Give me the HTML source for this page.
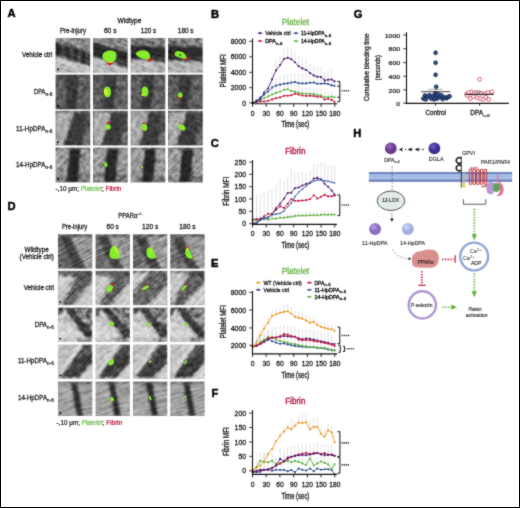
<!DOCTYPE html>
<html><head><meta charset="utf-8"><title>Figure</title>
<style>
html,body{margin:0;padding:0;background:#fff;}
svg{display:block;}
#wrap{width:520px;height:508px;overflow:hidden;will-change:transform;}
text{font-family:"Liberation Sans", sans-serif;}
</style></head>
<body>
<div id="wrap">
<svg width="520" height="508" viewBox="0 0 520 508">
<defs>
<filter id="gb" x="0" y="0" width="100%" height="100%" color-interpolation-filters="sRGB"><feConvolveMatrix order="3" kernelMatrix="1 2 1 2 16 2 1 2 1" divisor="28" edgeMode="duplicate"/></filter>
<filter id="bl" x="-10%" y="-10%" width="120%" height="120%"><feGaussianBlur stdDeviation="1.2"/></filter>
<filter id="nzs" x="0" y="0" width="100%" height="100%" color-interpolation-filters="sRGB"><feTurbulence type="fractalNoise" baseFrequency="0.05 0.55" numOctaves="2" seed="11"/><feColorMatrix type="matrix" values="2.2 0 0 0 -0.6  2.2 0 0 0 -0.6  2.2 0 0 0 -0.6  0 0 0 0 1"/></filter>
<filter id="nz" x="0" y="0" width="100%" height="100%" color-interpolation-filters="sRGB"><feTurbulence type="fractalNoise" baseFrequency="0.22" numOctaves="2" seed="7"/><feColorMatrix type="matrix" values="1.8 0 0 0 -0.4  1.8 0 0 0 -0.4  1.8 0 0 0 -0.4  0 0 0 0 1"/></filter>
<clipPath id="c1"><rect x="55.5" y="37.9" width="34.8" height="34.8"/></clipPath>
<clipPath id="c2"><rect x="93.0" y="37.9" width="34.8" height="34.8"/></clipPath>
<clipPath id="c3"><rect x="130.6" y="37.9" width="34.8" height="34.8"/></clipPath>
<clipPath id="c4"><rect x="168.0" y="37.9" width="34.8" height="34.8"/></clipPath>
<clipPath id="c5"><rect x="55.5" y="74.6" width="34.8" height="34.8"/></clipPath>
<clipPath id="c6"><rect x="93.0" y="74.6" width="34.8" height="34.8"/></clipPath>
<clipPath id="c7"><rect x="130.6" y="74.6" width="34.8" height="34.8"/></clipPath>
<clipPath id="c8"><rect x="168.0" y="74.6" width="34.8" height="34.8"/></clipPath>
<clipPath id="c9"><rect x="55.5" y="110.8" width="34.8" height="34.8"/></clipPath>
<clipPath id="c10"><rect x="93.0" y="110.8" width="34.8" height="34.8"/></clipPath>
<clipPath id="c11"><rect x="130.6" y="110.8" width="34.8" height="34.8"/></clipPath>
<clipPath id="c12"><rect x="168.0" y="110.8" width="34.8" height="34.8"/></clipPath>
<clipPath id="c13"><rect x="55.5" y="147.6" width="34.8" height="34.8"/></clipPath>
<clipPath id="c14"><rect x="93.0" y="147.6" width="34.8" height="34.8"/></clipPath>
<clipPath id="c15"><rect x="130.6" y="147.6" width="34.8" height="34.8"/></clipPath>
<clipPath id="c16"><rect x="168.0" y="147.6" width="34.8" height="34.8"/></clipPath>
<clipPath id="c17"><rect x="57.9" y="234.2" width="34.5" height="34.5"/></clipPath>
<clipPath id="c18"><rect x="95.5" y="234.2" width="34.5" height="34.5"/></clipPath>
<clipPath id="c19"><rect x="132.9" y="234.2" width="34.5" height="34.5"/></clipPath>
<clipPath id="c20"><rect x="170.2" y="234.2" width="34.5" height="34.5"/></clipPath>
<clipPath id="c21"><rect x="57.9" y="270.8" width="34.5" height="34.5"/></clipPath>
<clipPath id="c22"><rect x="95.5" y="270.8" width="34.5" height="34.5"/></clipPath>
<clipPath id="c23"><rect x="132.9" y="270.8" width="34.5" height="34.5"/></clipPath>
<clipPath id="c24"><rect x="170.2" y="270.8" width="34.5" height="34.5"/></clipPath>
<clipPath id="c25"><rect x="57.9" y="307.5" width="34.5" height="34.5"/></clipPath>
<clipPath id="c26"><rect x="95.5" y="307.5" width="34.5" height="34.5"/></clipPath>
<clipPath id="c27"><rect x="132.9" y="307.5" width="34.5" height="34.5"/></clipPath>
<clipPath id="c28"><rect x="170.2" y="307.5" width="34.5" height="34.5"/></clipPath>
<clipPath id="c29"><rect x="57.9" y="344.4" width="34.5" height="34.5"/></clipPath>
<clipPath id="c30"><rect x="95.5" y="344.4" width="34.5" height="34.5"/></clipPath>
<clipPath id="c31"><rect x="132.9" y="344.4" width="34.5" height="34.5"/></clipPath>
<clipPath id="c32"><rect x="170.2" y="344.4" width="34.5" height="34.5"/></clipPath>
<clipPath id="c33"><rect x="57.9" y="381.6" width="34.5" height="34.5"/></clipPath>
<clipPath id="c34"><rect x="95.5" y="381.6" width="34.5" height="34.5"/></clipPath>
<clipPath id="c35"><rect x="132.9" y="381.6" width="34.5" height="34.5"/></clipPath>
<clipPath id="c36"><rect x="170.2" y="381.6" width="34.5" height="34.5"/></clipPath>
<radialGradient id="sg390148" cx="0.38" cy="0.32" r="0.75"><stop offset="0" stop-color="#9a6ac0"/><stop offset="0.55" stop-color="#6a3a92"/><stop offset="1" stop-color="#6a3a92"/></radialGradient>
<radialGradient id="sg434148" cx="0.38" cy="0.32" r="0.75"><stop offset="0" stop-color="#6a60c8"/><stop offset="0.55" stop-color="#3a2d92"/><stop offset="1" stop-color="#3a2d92"/></radialGradient>
<radialGradient id="sg375229" cx="0.38" cy="0.32" r="0.75"><stop offset="0" stop-color="#b8a0e0"/><stop offset="0.55" stop-color="#8a6cc0"/><stop offset="1" stop-color="#8a6cc0"/></radialGradient>
<radialGradient id="sg407229" cx="0.38" cy="0.32" r="0.75"><stop offset="0" stop-color="#d0d8f6"/><stop offset="0.55" stop-color="#a2ade2"/><stop offset="1" stop-color="#a2ade2"/></radialGradient>
</defs>
<g filter="url(#gb)">
<rect x="0" y="0" width="520" height="508" fill="#fff"/>
<text x="7.4" y="17.3" font-size="11.2" text-anchor="start" fill="#000" font-weight="bold" stroke="#000" stroke-width="0.45">A</text>
<text x="211" y="17.6" font-size="11.2" text-anchor="start" fill="#000" font-weight="bold" stroke="#000" stroke-width="0.45">B</text>
<text x="210.8" y="147.2" font-size="11.2" text-anchor="start" fill="#000" font-weight="bold" stroke="#000" stroke-width="0.45">C</text>
<text x="7.4" y="209.6" font-size="11.2" text-anchor="start" fill="#000" font-weight="bold" stroke="#000" stroke-width="0.45">D</text>
<text x="211" y="267.2" font-size="11.2" text-anchor="start" fill="#000" font-weight="bold" stroke="#000" stroke-width="0.45">E</text>
<text x="211.4" y="397.4" font-size="11.2" text-anchor="start" fill="#000" font-weight="bold" stroke="#000" stroke-width="0.45">F</text>
<text x="353.7" y="17.6" font-size="11.2" text-anchor="start" fill="#000" font-weight="bold" stroke="#000" stroke-width="0.45">G</text>
<text x="353.2" y="137.2" font-size="11.2" text-anchor="start" fill="#000" font-weight="bold" stroke="#000" stroke-width="0.45">H</text>
<text x="129.5" y="22.8" font-size="6.6" text-anchor="middle" fill="#1a1a1a" font-weight="normal" stroke="#1a1a1a" stroke-width="0.260" textLength="23.8" lengthAdjust="spacingAndGlyphs">Widtype</text>
<text x="73.0" y="33.2" font-size="6.6" text-anchor="middle" fill="#1a1a1a" font-weight="normal" stroke="#1a1a1a" stroke-width="0.260" textLength="25.9" lengthAdjust="spacingAndGlyphs">Pre-injury</text>
<text x="110.2" y="33.2" font-size="6.6" text-anchor="middle" fill="#1a1a1a" font-weight="normal" stroke="#1a1a1a" stroke-width="0.260" textLength="12.6" lengthAdjust="spacingAndGlyphs">60 s</text>
<text x="148.5" y="33.2" font-size="6.6" text-anchor="middle" fill="#1a1a1a" font-weight="normal" stroke="#1a1a1a" stroke-width="0.260" textLength="15.5" lengthAdjust="spacingAndGlyphs">120 s</text>
<text x="185.7" y="33.2" font-size="6.6" text-anchor="middle" fill="#1a1a1a" font-weight="normal" stroke="#1a1a1a" stroke-width="0.260" textLength="15.8" lengthAdjust="spacingAndGlyphs">180 s</text>
<text x="52.3" y="57.4" font-size="6.8" text-anchor="end" fill="#1a1a1a" font-weight="normal" stroke="#1a1a1a" stroke-width="0.268" textLength="30.3" lengthAdjust="spacingAndGlyphs">Vehicle ctrl</text>
<text x="34.00" y="94.2" font-size="7.0" fill="#1a1a1a" stroke="#1a1a1a" stroke-width="0.26" textLength="11.40" lengthAdjust="spacingAndGlyphs">DPA</text>
<text x="45.50" y="96.30" font-size="4.6" fill="#1a1a1a" stroke="#1a1a1a" stroke-width="0.20" textLength="6.90" lengthAdjust="spacingAndGlyphs">n-6</text>
<text x="16.10" y="130.7" font-size="7.0" fill="#1a1a1a" stroke="#1a1a1a" stroke-width="0.26" textLength="29.40" lengthAdjust="spacingAndGlyphs">11-HpDPA</text>
<text x="45.60" y="132.80" font-size="4.6" fill="#1a1a1a" stroke="#1a1a1a" stroke-width="0.20" textLength="6.90" lengthAdjust="spacingAndGlyphs">n-6</text>
<text x="16.10" y="167.1" font-size="7.0" fill="#1a1a1a" stroke="#1a1a1a" stroke-width="0.26" textLength="29.40" lengthAdjust="spacingAndGlyphs">14-HpDPA</text>
<text x="45.60" y="169.20" font-size="4.6" fill="#1a1a1a" stroke="#1a1a1a" stroke-width="0.20" textLength="6.90" lengthAdjust="spacingAndGlyphs">n-6</text>
<text x="55.6" y="191.3" font-size="6.4" fill="#1a1a1a" stroke="#1a1a1a" stroke-width="0.22" textLength="65.8" lengthAdjust="spacingAndGlyphs">-,10 μm; <tspan fill="#6cc04a" stroke="#6cc04a">Platelet</tspan>; <tspan fill="#c0143c" stroke="#c0143c">Fibrin</tspan></text>
<g clip-path="url(#c1)">
<rect x="55.5" y="37.9" width="34.8" height="34.8" fill="#999"/>
<g transform="translate(55.5,37.9) scale(0.9943,0.9943)" filter="url(#bl)">
<polygon points="0,0 35,0 35,13.5 0,4.7" fill="#888888" opacity="1"/>
<polygon points="0,17.8 35,29 35,35 0,35" fill="#c2c2c2" opacity="1"/>
<polygon points="0,4.7 35,13.5 35,29 0,17.8" fill="#2c2c2c" opacity="1"/>
<line x1="8.5" y1="7.837142857142858" x2="7.9" y2="19.52" stroke="#5c5c5c" stroke-width="2.2" opacity="0.9"/>
<line x1="16.5" y1="9.848571428571429" x2="15.9" y2="22.08" stroke="#5c5c5c" stroke-width="2.2" opacity="0.9"/>
<line x1="24.5" y1="11.860000000000001" x2="23.9" y2="24.64" stroke="#5c5c5c" stroke-width="2.2" opacity="0.9"/>
<line x1="32" y1="13.745714285714286" x2="31.4" y2="27.04" stroke="#5c5c5c" stroke-width="2.2" opacity="0.9"/>
<polygon points="0,4.7 2.5,5 2.5,18.3 0,17.8" fill="#111" opacity="1"/>
<line x1="0" y1="30" x2="20" y2="35" stroke="#9a9a9a" stroke-width="1.2" opacity="0.5"/>
<line x1="5" y1="27" x2="30" y2="35" stroke="#a8a8a8" stroke-width="1" opacity="0.4"/>
</g>
<rect x="55.5" y="37.9" width="34.8" height="34.8" fill="#fff" filter="url(#nz)" opacity="0.3" style="mix-blend-mode:overlay"/>
<rect x="42.900000000000006" y="25.299999999999997" width="60" height="60" fill="#fff" filter="url(#nzs)" opacity="0.25" style="mix-blend-mode:overlay" transform="rotate(20 72.9 55.3)"/>
<g transform="translate(55.5,37.9) scale(0.9943,0.9943)">
<rect x="1.6" y="30.8" width="1.7" height="1.6" fill="#000"/>
</g>
</g>
<g clip-path="url(#c2)">
<rect x="93.0" y="37.9" width="34.8" height="34.8" fill="#999"/>
<g transform="translate(93.0,37.9) scale(0.9943,0.9943)" filter="url(#bl)">
<polygon points="0,0 35,0 35,14 0,3.8" fill="#8a8a8a" opacity="1"/>
<polygon points="0,19 35,30 35,35 0,35" fill="#c0c0c0" opacity="1"/>
<polygon points="0,3.8 35,14 35,30 0,19" fill="#2c2c2c" opacity="1"/>
<polygon points="0,3.8 2,3.8 2,19 0,19" fill="#1e1e1e" opacity="1"/>
<line x1="10" y1="16" x2="35" y2="27" stroke="#555" stroke-width="2.5" opacity="0.6"/>
<line x1="0" y1="30" x2="20" y2="35" stroke="#9a9a9a" stroke-width="1.2" opacity="0.5"/>
<line x1="5" y1="27" x2="30" y2="35" stroke="#a8a8a8" stroke-width="1" opacity="0.4"/>
</g>
<rect x="93.0" y="37.9" width="34.8" height="34.8" fill="#fff" filter="url(#nz)" opacity="0.3" style="mix-blend-mode:overlay"/>
<rect x="80.4" y="25.299999999999997" width="60" height="60" fill="#fff" filter="url(#nzs)" opacity="0.25" style="mix-blend-mode:overlay" transform="rotate(20 110.4 55.3)"/>
<g transform="translate(93.0,37.9) scale(0.9943,0.9943)">
<path d="M13.6,23.8 C15.5,23 18.5,22.8 20.6,24 C20,26.3 18,27.8 16.3,27.6 C14.8,27.2 13.7,25.5 13.6,23.8 Z" fill="#d8161c" opacity="1"/>
<path d="M9.3,18.6 C9.5,16 11.5,13.8 14.5,13.1 C18,12.4 22,12.5 23.2,15.5 C24.3,19 23,22.8 20,24.4 C17.5,25.4 14,24.6 11.5,22.2 C10,20.8 9.3,19.8 9.3,18.6 Z" fill="#86ec2c" opacity="1"/>
<path d="M14.2,23.6 C16,24.6 18.3,24.8 20.3,24 C19,25.3 16.5,25.6 14.8,24.6 Z" fill="#e6f030" opacity="1"/>
</g>
</g>
<g clip-path="url(#c3)">
<rect x="130.6" y="37.9" width="34.8" height="34.8" fill="#999"/>
<g transform="translate(130.6,37.9) scale(0.9943,0.9943)" filter="url(#bl)">
<polygon points="0,0 35,0 35,9.2 0,6.6" fill="#7c7c7c" opacity="1"/>
<polygon points="0,21.5 35,24.5 35,35 0,35" fill="#b4b4b4" opacity="1"/>
<polygon points="0,6.6 35,9.2 35,24.5 0,21.5" fill="#2c2c2c" opacity="1"/>
<polygon points="0,6.6 2,6.6 2,21.5 0,21.5" fill="#1e1e1e" opacity="1"/>
<line x1="10" y1="18.5" x2="35" y2="21.5" stroke="#555" stroke-width="2.5" opacity="0.6"/>
<line x1="0" y1="30" x2="20" y2="35" stroke="#9a9a9a" stroke-width="1.2" opacity="0.5"/>
<line x1="5" y1="27" x2="30" y2="35" stroke="#a8a8a8" stroke-width="1" opacity="0.4"/>
</g>
<rect x="130.6" y="37.9" width="34.8" height="34.8" fill="#fff" filter="url(#nz)" opacity="0.3" style="mix-blend-mode:overlay"/>
<rect x="118.0" y="25.299999999999997" width="60" height="60" fill="#fff" filter="url(#nzs)" opacity="0.25" style="mix-blend-mode:overlay" transform="rotate(20 148.0 55.3)"/>
<g transform="translate(130.6,37.9) scale(0.9943,0.9943)">
<path d="M17.2,21.5 C19,20.5 21.5,20 22.5,21 C22.3,22.6 20,23.8 17.8,23.8 C16.8,23.4 16.8,22.3 17.2,21.5 Z" fill="#d8161c" opacity="1"/>
<path d="M5.3,15.5 C6.5,13.5 9,12.3 12.5,12.3 C16,12.4 18,13.5 19,16 C20,18.5 20,21 18,21.6 C15,22.2 11,21 8.5,19.5 C6.5,18.3 5,17 5.3,15.5 Z" fill="#86ec2c" opacity="1"/>
</g>
</g>
<g clip-path="url(#c4)">
<rect x="168.0" y="37.9" width="34.8" height="34.8" fill="#999"/>
<g transform="translate(168.0,37.9) scale(0.9943,0.9943)" filter="url(#bl)">
<polygon points="0,0 35,0 35,9.5 0,7.2" fill="#808080" opacity="1"/>
<polygon points="0,22.5 35,24.5 35,35 0,35" fill="#b6b6b6" opacity="1"/>
<polygon points="0,7.2 35,9.5 35,24.5 0,22.5" fill="#2c2c2c" opacity="1"/>
<polygon points="0,7.2 2,7.2 2,22.5 0,22.5" fill="#1e1e1e" opacity="1"/>
<line x1="10" y1="19.5" x2="35" y2="21.5" stroke="#555" stroke-width="2.5" opacity="0.6"/>
<line x1="0" y1="30" x2="20" y2="35" stroke="#9a9a9a" stroke-width="1.2" opacity="0.5"/>
<line x1="5" y1="27" x2="30" y2="35" stroke="#a8a8a8" stroke-width="1" opacity="0.4"/>
</g>
<rect x="168.0" y="37.9" width="34.8" height="34.8" fill="#fff" filter="url(#nz)" opacity="0.3" style="mix-blend-mode:overlay"/>
<rect x="155.4" y="25.299999999999997" width="60" height="60" fill="#fff" filter="url(#nzs)" opacity="0.25" style="mix-blend-mode:overlay" transform="rotate(20 185.4 55.3)"/>
<g transform="translate(168.0,37.9) scale(0.9943,0.9943)">
<path d="M16.8,20.8 C18.5,19.8 20.5,19.5 21.5,20.3 C21,21.6 19,22.6 17.3,22.6 C16.5,22.2 16.4,21.3 16.8,20.8 Z" fill="#d8161c" opacity="1"/>
<path d="M6.5,16.5 C6.8,14.3 8.5,13 10.5,13.3 C12.5,13.5 14,14 15.8,15 C17.5,16.5 18.5,18.5 18.8,20.5 C17,21.5 14.5,21 12.5,20 C10,19.2 6.5,18.5 6.5,16.5 Z" fill="#86ec2c" opacity="1"/>
<ellipse cx="12.3" cy="17.2" rx="0.9" ry="0.9" fill="#2a4a1a" opacity="1" transform="rotate(0 12.3 17.2)"/>
</g>
</g>
<g clip-path="url(#c5)">
<rect x="55.5" y="74.6" width="34.8" height="34.8" fill="#5a5a5a"/>
<g transform="translate(55.5,74.6) scale(0.9943,0.9943)" filter="url(#bl)">
<polygon points="0,0 35,0 35,35 0,35" fill="#5a5a5a" opacity="1"/>
<polygon points="0,0 11,0 8,35 0,35" fill="#5e5e5e" opacity="1"/>
<polygon points="11,0 24,0 23,24 21,35 11,35 11,20" fill="#383838" opacity="1"/>
<polygon points="24,0 35,0 35,35 21,35" fill="#646464" opacity="1"/>
<line x1="6" y1="35" x2="35" y2="9" stroke="#2a2a2a" stroke-width="0.9" opacity="0.9"/>
<line x1="9" y1="35" x2="35" y2="13" stroke="#303030" stroke-width="0.7" opacity="0.8"/>
<line x1="20" y1="35" x2="35" y2="22" stroke="#2a2a2a" stroke-width="0.6" opacity="0.7"/>
<line x1="0" y1="9" x2="9" y2="4" stroke="#333" stroke-width="0.6" opacity="0.7"/>
<line x1="0" y1="17" x2="10" y2="12" stroke="#333" stroke-width="0.6" opacity="0.6"/>
<polygon points="0,0 35,0 35,2.2 0,2.2" fill="#444" opacity="1"/>
</g>
<rect x="55.5" y="74.6" width="34.8" height="34.8" fill="#fff" filter="url(#nz)" opacity="0.3" style="mix-blend-mode:overlay"/>
<g transform="translate(55.5,74.6) scale(0.9943,0.9943)">
<rect x="1.6" y="30.8" width="1.7" height="1.6" fill="#000"/>
</g>
</g>
<g clip-path="url(#c6)">
<rect x="93.0" y="74.6" width="34.8" height="34.8" fill="#5a5a5a"/>
<g transform="translate(93.0,74.6) scale(0.9943,0.9943)" filter="url(#bl)">
<polygon points="0,0 35,0 35,35 0,35" fill="#5a5a5a" opacity="1"/>
<polygon points="0,0 11,0 8,35 0,35" fill="#5e5e5e" opacity="1"/>
<polygon points="11,0 24,0 23,24 21,35 11,35 11,20" fill="#383838" opacity="1"/>
<polygon points="24,0 35,0 35,35 21,35" fill="#646464" opacity="1"/>
<line x1="6" y1="35" x2="35" y2="9" stroke="#2a2a2a" stroke-width="0.9" opacity="0.9"/>
<line x1="9" y1="35" x2="35" y2="13" stroke="#303030" stroke-width="0.7" opacity="0.8"/>
<line x1="20" y1="35" x2="35" y2="22" stroke="#2a2a2a" stroke-width="0.6" opacity="0.7"/>
<line x1="0" y1="9" x2="9" y2="4" stroke="#333" stroke-width="0.6" opacity="0.7"/>
<line x1="0" y1="17" x2="10" y2="12" stroke="#333" stroke-width="0.6" opacity="0.6"/>
<polygon points="0,0 35,0 35,2.2 0,2.2" fill="#444" opacity="1"/>
</g>
<rect x="93.0" y="74.6" width="34.8" height="34.8" fill="#fff" filter="url(#nz)" opacity="0.3" style="mix-blend-mode:overlay"/>
<g transform="translate(93.0,74.6) scale(0.9943,0.9943)">
<path d="M10.8,17 C10.8,13.5 13,11.5 15,12 C17.5,12.8 18.5,16 18,19.5 C17.5,22.5 15,23.5 13,22.5 C11.5,21.5 10.8,19.5 10.8,17 Z" fill="#86ec2c" opacity="1"/>
<ellipse cx="12.8" cy="17.5" rx="1.6" ry="3.2" fill="#e6f030" opacity="1" transform="rotate(-10 12.8 17.5)"/>
</g>
</g>
<g clip-path="url(#c7)">
<rect x="130.6" y="74.6" width="34.8" height="34.8" fill="#5a5a5a"/>
<g transform="translate(130.6,74.6) scale(0.9943,0.9943)" filter="url(#bl)">
<polygon points="0,0 35,0 35,35 0,35" fill="#5a5a5a" opacity="1"/>
<polygon points="0,0 11,0 8,35 0,35" fill="#5e5e5e" opacity="1"/>
<polygon points="11,0 24,0 23,24 21,35 11,35 11,20" fill="#383838" opacity="1"/>
<polygon points="24,0 35,0 35,35 21,35" fill="#646464" opacity="1"/>
<line x1="6" y1="35" x2="35" y2="9" stroke="#2a2a2a" stroke-width="0.9" opacity="0.9"/>
<line x1="9" y1="35" x2="35" y2="13" stroke="#303030" stroke-width="0.7" opacity="0.8"/>
<line x1="20" y1="35" x2="35" y2="22" stroke="#2a2a2a" stroke-width="0.6" opacity="0.7"/>
<line x1="0" y1="9" x2="9" y2="4" stroke="#333" stroke-width="0.6" opacity="0.7"/>
<line x1="0" y1="17" x2="10" y2="12" stroke="#333" stroke-width="0.6" opacity="0.6"/>
<polygon points="0,0 35,0 35,2.2 0,2.2" fill="#444" opacity="1"/>
</g>
<rect x="130.6" y="74.6" width="34.8" height="34.8" fill="#fff" filter="url(#nz)" opacity="0.3" style="mix-blend-mode:overlay"/>
<g transform="translate(130.6,74.6) scale(0.9943,0.9943)">
<path d="M11,16 C11,13 13,11.5 15,12 C17.5,12.8 18.2,16 17.8,19 C17.3,21.5 15.3,22.5 13.5,22 C12,21.2 11,19 11,16 Z" fill="#86ec2c" opacity="1"/>
<ellipse cx="11.9" cy="20.3" rx="1.1" ry="1.2" fill="#e6f030" opacity="1" transform="rotate(0 11.9 20.3)"/>
</g>
</g>
<g clip-path="url(#c8)">
<rect x="168.0" y="74.6" width="34.8" height="34.8" fill="#5a5a5a"/>
<g transform="translate(168.0,74.6) scale(0.9943,0.9943)" filter="url(#bl)">
<polygon points="0,0 35,0 35,35 0,35" fill="#5a5a5a" opacity="1"/>
<polygon points="0,0 11,0 8,35 0,35" fill="#5e5e5e" opacity="1"/>
<polygon points="11,0 24,0 23,24 21,35 11,35 11,20" fill="#383838" opacity="1"/>
<polygon points="24,0 35,0 35,35 21,35" fill="#646464" opacity="1"/>
<line x1="6" y1="35" x2="35" y2="9" stroke="#2a2a2a" stroke-width="0.9" opacity="0.9"/>
<line x1="9" y1="35" x2="35" y2="13" stroke="#303030" stroke-width="0.7" opacity="0.8"/>
<line x1="20" y1="35" x2="35" y2="22" stroke="#2a2a2a" stroke-width="0.6" opacity="0.7"/>
<line x1="0" y1="9" x2="9" y2="4" stroke="#333" stroke-width="0.6" opacity="0.7"/>
<line x1="0" y1="17" x2="10" y2="12" stroke="#333" stroke-width="0.6" opacity="0.6"/>
<polygon points="0,0 35,0 35,2.2 0,2.2" fill="#444" opacity="1"/>
</g>
<rect x="168.0" y="74.6" width="34.8" height="34.8" fill="#fff" filter="url(#nz)" opacity="0.3" style="mix-blend-mode:overlay"/>
<g transform="translate(168.0,74.6) scale(0.9943,0.9943)">
<ellipse cx="12.3" cy="20.6" rx="2.5" ry="2.6" fill="#86ec2c" opacity="1" transform="rotate(0 12.3 20.6)"/>
<path d="M9.8,21.5 C10.5,23 12.2,23.6 13.8,23 C13,24 11,24.5 9.8,23.5 Z" fill="#d8161c" opacity="1"/>
</g>
</g>
<g clip-path="url(#c9)">
<rect x="55.5" y="110.8" width="34.8" height="34.8" fill="#505050"/>
<g transform="translate(55.5,110.8) scale(0.9943,0.9943)" filter="url(#bl)">
<polygon points="0,0 35,0 35,35 0,35" fill="#505050" opacity="1"/>
<polygon points="0,0 20,0 9,35 0,35" fill="#ababab" opacity="1"/>
<polygon points="19,0 31,0 27,35 8,35" fill="#3a3a3a" opacity="1"/>
<polygon points="31,0 35,0 35,35 27,35" fill="#4e4e4e" opacity="1"/>
<polygon points="29,24 35,20 35,35 28,35" fill="#7a7a7a" opacity="0.7"/>
<line x1="2" y1="30" x2="10" y2="5" stroke="#8a8a8a" stroke-width="1.2" opacity="0.6"/>
<line x1="0" y1="20" x2="8" y2="4" stroke="#e8e8e8" stroke-width="1" opacity="0.6"/>
<polygon points="0,0 35,0 35,1.8 0,1.8" fill="#777" opacity="1"/>
</g>
<rect x="55.5" y="110.8" width="34.8" height="34.8" fill="#fff" filter="url(#nz)" opacity="0.3" style="mix-blend-mode:overlay"/>
<g transform="translate(55.5,110.8) scale(0.9943,0.9943)">
<rect x="1.6" y="30.8" width="1.7" height="1.6" fill="#000"/>
</g>
</g>
<g clip-path="url(#c10)">
<rect x="93.0" y="110.8" width="34.8" height="34.8" fill="#505050"/>
<g transform="translate(93.0,110.8) scale(0.9943,0.9943)" filter="url(#bl)">
<polygon points="0,0 35,0 35,35 0,35" fill="#505050" opacity="1"/>
<polygon points="0,0 20,0 9,35 0,35" fill="#ababab" opacity="1"/>
<polygon points="19,0 31,0 27,35 8,35" fill="#3a3a3a" opacity="1"/>
<polygon points="31,0 35,0 35,35 27,35" fill="#4e4e4e" opacity="1"/>
<polygon points="29,24 35,20 35,35 28,35" fill="#7a7a7a" opacity="0.7"/>
<line x1="2" y1="30" x2="10" y2="5" stroke="#8a8a8a" stroke-width="1.2" opacity="0.6"/>
<line x1="0" y1="20" x2="8" y2="4" stroke="#e8e8e8" stroke-width="1" opacity="0.6"/>
<polygon points="0,0 35,0 35,1.8 0,1.8" fill="#777" opacity="1"/>
</g>
<rect x="93.0" y="110.8" width="34.8" height="34.8" fill="#fff" filter="url(#nz)" opacity="0.3" style="mix-blend-mode:overlay"/>
<g transform="translate(93.0,110.8) scale(0.9943,0.9943)">
<ellipse cx="15.6" cy="12.3" rx="1.6" ry="1.3" fill="#d8161c" opacity="1" transform="rotate(0 15.6 12.3)"/>
<ellipse cx="15.1" cy="16.2" rx="2.7" ry="2.6" fill="#86ec2c" opacity="1" transform="rotate(0 15.1 16.2)"/>
</g>
</g>
<g clip-path="url(#c11)">
<rect x="130.6" y="110.8" width="34.8" height="34.8" fill="#505050"/>
<g transform="translate(130.6,110.8) scale(0.9943,0.9943)" filter="url(#bl)">
<polygon points="0,0 35,0 35,35 0,35" fill="#505050" opacity="1"/>
<polygon points="0,0 20,0 9,35 0,35" fill="#ababab" opacity="1"/>
<polygon points="19,0 31,0 27,35 8,35" fill="#3a3a3a" opacity="1"/>
<polygon points="31,0 35,0 35,35 27,35" fill="#4e4e4e" opacity="1"/>
<polygon points="29,24 35,20 35,35 28,35" fill="#7a7a7a" opacity="0.7"/>
<line x1="2" y1="30" x2="10" y2="5" stroke="#8a8a8a" stroke-width="1.2" opacity="0.6"/>
<line x1="0" y1="20" x2="8" y2="4" stroke="#e8e8e8" stroke-width="1" opacity="0.6"/>
<polygon points="0,0 35,0 35,1.8 0,1.8" fill="#777" opacity="1"/>
</g>
<rect x="130.6" y="110.8" width="34.8" height="34.8" fill="#fff" filter="url(#nz)" opacity="0.3" style="mix-blend-mode:overlay"/>
<g transform="translate(130.6,110.8) scale(0.9943,0.9943)">
<ellipse cx="13.5" cy="12.5" rx="1.4" ry="1.1" fill="#d8161c" opacity="1" transform="rotate(0 13.5 12.5)"/>
<path d="M11,16 C11,13.5 13,13 14.5,13.3 C16.5,13.8 17,15.8 16.8,18 C16.5,20 14.5,20.5 13,19.8 C11.5,19 11,17.5 11,16 Z" fill="#86ec2c" opacity="1"/>
</g>
</g>
<g clip-path="url(#c12)">
<rect x="168.0" y="110.8" width="34.8" height="34.8" fill="#505050"/>
<g transform="translate(168.0,110.8) scale(0.9943,0.9943)" filter="url(#bl)">
<polygon points="0,0 35,0 35,35 0,35" fill="#505050" opacity="1"/>
<polygon points="0,0 20,0 9,35 0,35" fill="#ababab" opacity="1"/>
<polygon points="19,0 31,0 27,35 8,35" fill="#3a3a3a" opacity="1"/>
<polygon points="31,0 35,0 35,35 27,35" fill="#4e4e4e" opacity="1"/>
<polygon points="29,24 35,20 35,35 28,35" fill="#7a7a7a" opacity="0.7"/>
<line x1="2" y1="30" x2="10" y2="5" stroke="#8a8a8a" stroke-width="1.2" opacity="0.6"/>
<line x1="0" y1="20" x2="8" y2="4" stroke="#e8e8e8" stroke-width="1" opacity="0.6"/>
<polygon points="0,0 35,0 35,1.8 0,1.8" fill="#777" opacity="1"/>
</g>
<rect x="168.0" y="110.8" width="34.8" height="34.8" fill="#fff" filter="url(#nz)" opacity="0.3" style="mix-blend-mode:overlay"/>
<g transform="translate(168.0,110.8) scale(0.9943,0.9943)">
<ellipse cx="12.5" cy="12.4" rx="0.8" ry="0.7" fill="#d8161c" opacity="1" transform="rotate(0 12.5 12.4)"/>
<path d="M10.3,15.3 C10.3,13.3 12.6,12.8 13.9,14.2 C15.5,14 17.8,15.5 17.3,18.3 C17,20.3 14.5,20.5 13.5,19 C11.8,19 10.3,17.3 10.3,15.3 Z" fill="#86ec2c" opacity="1"/>
</g>
</g>
<g clip-path="url(#c13)">
<rect x="55.5" y="147.6" width="34.8" height="34.8" fill="#929292"/>
<g transform="translate(55.5,147.6) scale(0.9943,0.9943)" filter="url(#bl)">
<polygon points="0,0 35,0 35,35 0,35" fill="#929292" opacity="1"/>
<polygon points="14,0 26,0 23,35 10.8,35" fill="#262626" opacity="1"/>
<polygon points="23,28 35,28 35,35 22.5,35" fill="#6e6e6e" opacity="1"/>
<polygon points="0,28 11.2,28 10.8,35 0,35" fill="#808080" opacity="1"/>
<line x1="0" y1="12" x2="12" y2="0" stroke="#dadada" stroke-width="1.4" opacity="0.6"/>
<line x1="0" y1="22" x2="14" y2="6" stroke="#dadada" stroke-width="1.2" opacity="0.5"/>
<line x1="25" y1="20" x2="35" y2="14" stroke="#d6d6d6" stroke-width="1.2" opacity="0.5"/>
<line x1="25" y1="12" x2="35" y2="6" stroke="#d0d0d0" stroke-width="1" opacity="0.4"/>
<polygon points="0,0 35,0 35,1.5 0,1.5" fill="#6a6a6a" opacity="1"/>
</g>
<rect x="55.5" y="147.6" width="34.8" height="34.8" fill="#fff" filter="url(#nz)" opacity="0.3" style="mix-blend-mode:overlay"/>
<rect x="42.900000000000006" y="135.0" width="60" height="60" fill="#fff" filter="url(#nzs)" opacity="0.16" style="mix-blend-mode:overlay" transform="rotate(-40 72.9 165.0)"/>
<g transform="translate(55.5,147.6) scale(0.9943,0.9943)">
<rect x="1.6" y="30.8" width="1.7" height="1.6" fill="#000"/>
</g>
</g>
<g clip-path="url(#c14)">
<rect x="93.0" y="147.6" width="34.8" height="34.8" fill="#929292"/>
<g transform="translate(93.0,147.6) scale(0.9943,0.9943)" filter="url(#bl)">
<polygon points="0,0 35,0 35,35 0,35" fill="#929292" opacity="1"/>
<polygon points="14,0 26,0 23,35 10.8,35" fill="#262626" opacity="1"/>
<polygon points="23,28 35,28 35,35 22.5,35" fill="#6e6e6e" opacity="1"/>
<polygon points="0,28 11.2,28 10.8,35 0,35" fill="#808080" opacity="1"/>
<line x1="0" y1="12" x2="12" y2="0" stroke="#dadada" stroke-width="1.4" opacity="0.6"/>
<line x1="0" y1="22" x2="14" y2="6" stroke="#dadada" stroke-width="1.2" opacity="0.5"/>
<line x1="25" y1="20" x2="35" y2="14" stroke="#d6d6d6" stroke-width="1.2" opacity="0.5"/>
<line x1="25" y1="12" x2="35" y2="6" stroke="#d0d0d0" stroke-width="1" opacity="0.4"/>
<polygon points="0,0 35,0 35,1.5 0,1.5" fill="#6a6a6a" opacity="1"/>
</g>
<rect x="93.0" y="147.6" width="34.8" height="34.8" fill="#fff" filter="url(#nz)" opacity="0.3" style="mix-blend-mode:overlay"/>
<rect x="80.4" y="135.0" width="60" height="60" fill="#fff" filter="url(#nzs)" opacity="0.16" style="mix-blend-mode:overlay" transform="rotate(-40 110.4 165.0)"/>
<g transform="translate(93.0,147.6) scale(0.9943,0.9943)">
<ellipse cx="12.9" cy="17.2" rx="1.7" ry="2.4" fill="#86ec2c" opacity="1" transform="rotate(-15 12.9 17.2)"/>
</g>
</g>
<g clip-path="url(#c15)">
<rect x="130.6" y="147.6" width="34.8" height="34.8" fill="#929292"/>
<g transform="translate(130.6,147.6) scale(0.9943,0.9943)" filter="url(#bl)">
<polygon points="0,0 35,0 35,35 0,35" fill="#929292" opacity="1"/>
<polygon points="14,0 26,0 23,35 10.8,35" fill="#262626" opacity="1"/>
<polygon points="23,28 35,28 35,35 22.5,35" fill="#6e6e6e" opacity="1"/>
<polygon points="0,28 11.2,28 10.8,35 0,35" fill="#808080" opacity="1"/>
<line x1="0" y1="12" x2="12" y2="0" stroke="#dadada" stroke-width="1.4" opacity="0.6"/>
<line x1="0" y1="22" x2="14" y2="6" stroke="#dadada" stroke-width="1.2" opacity="0.5"/>
<line x1="25" y1="20" x2="35" y2="14" stroke="#d6d6d6" stroke-width="1.2" opacity="0.5"/>
<line x1="25" y1="12" x2="35" y2="6" stroke="#d0d0d0" stroke-width="1" opacity="0.4"/>
<polygon points="0,0 35,0 35,1.5 0,1.5" fill="#6a6a6a" opacity="1"/>
</g>
<rect x="130.6" y="147.6" width="34.8" height="34.8" fill="#fff" filter="url(#nz)" opacity="0.3" style="mix-blend-mode:overlay"/>
<rect x="118.0" y="135.0" width="60" height="60" fill="#fff" filter="url(#nzs)" opacity="0.16" style="mix-blend-mode:overlay" transform="rotate(-40 148.0 165.0)"/>
<g transform="translate(130.6,147.6) scale(0.9943,0.9943)">
<ellipse cx="11.6" cy="19.6" rx="1.0" ry="1.4" fill="#86ec2c" opacity="1" transform="rotate(0 11.6 19.6)"/>
<ellipse cx="10.5" cy="18.6" rx="0.5" ry="0.5" fill="#d8161c" opacity="0.6" transform="rotate(0 10.5 18.6)"/>
</g>
</g>
<g clip-path="url(#c16)">
<rect x="168.0" y="147.6" width="34.8" height="34.8" fill="#929292"/>
<g transform="translate(168.0,147.6) scale(0.9943,0.9943)" filter="url(#bl)">
<polygon points="0,0 35,0 35,35 0,35" fill="#929292" opacity="1"/>
<polygon points="14,0 26,0 23,35 10.8,35" fill="#262626" opacity="1"/>
<polygon points="23,28 35,28 35,35 22.5,35" fill="#6e6e6e" opacity="1"/>
<polygon points="0,28 11.2,28 10.8,35 0,35" fill="#808080" opacity="1"/>
<line x1="0" y1="12" x2="12" y2="0" stroke="#dadada" stroke-width="1.4" opacity="0.6"/>
<line x1="0" y1="22" x2="14" y2="6" stroke="#dadada" stroke-width="1.2" opacity="0.5"/>
<line x1="25" y1="20" x2="35" y2="14" stroke="#d6d6d6" stroke-width="1.2" opacity="0.5"/>
<line x1="25" y1="12" x2="35" y2="6" stroke="#d0d0d0" stroke-width="1" opacity="0.4"/>
<polygon points="0,0 35,0 35,1.5 0,1.5" fill="#6a6a6a" opacity="1"/>
</g>
<rect x="168.0" y="147.6" width="34.8" height="34.8" fill="#fff" filter="url(#nz)" opacity="0.3" style="mix-blend-mode:overlay"/>
<rect x="155.4" y="135.0" width="60" height="60" fill="#fff" filter="url(#nzs)" opacity="0.16" style="mix-blend-mode:overlay" transform="rotate(-40 185.4 165.0)"/>
<g transform="translate(168.0,147.6) scale(0.9943,0.9943)">
<ellipse cx="11.2" cy="17.2" rx="0.7" ry="1.0" fill="#86ec2c" opacity="0.8" transform="rotate(0 11.2 17.2)"/>
</g>
</g>
<text x="118.3" y="218.2" font-size="6.6" text-anchor="start" fill="#1a1a1a" font-weight="normal" stroke="#1a1a1a" stroke-width="0.260" textLength="19.0" lengthAdjust="spacingAndGlyphs">PPARα</text>
<text x="137.6" y="215.4" font-size="4.4" text-anchor="start" fill="#1a1a1a" font-weight="normal" stroke="#1a1a1a" stroke-width="0.173" textLength="5.0" lengthAdjust="spacingAndGlyphs">-/-</text>
<text x="74.6" y="229.4" font-size="6.6" text-anchor="middle" fill="#1a1a1a" font-weight="normal" stroke="#1a1a1a" stroke-width="0.260" textLength="25.4" lengthAdjust="spacingAndGlyphs">Pre-injury</text>
<text x="112.7" y="229.4" font-size="6.6" text-anchor="middle" fill="#1a1a1a" font-weight="normal" stroke="#1a1a1a" stroke-width="0.260" textLength="12.3" lengthAdjust="spacingAndGlyphs">60 s</text>
<text x="150.2" y="229.4" font-size="6.6" text-anchor="middle" fill="#1a1a1a" font-weight="normal" stroke="#1a1a1a" stroke-width="0.260" textLength="16.4" lengthAdjust="spacingAndGlyphs">120 s</text>
<text x="187.4" y="229.4" font-size="6.6" text-anchor="middle" fill="#1a1a1a" font-weight="normal" stroke="#1a1a1a" stroke-width="0.260" textLength="16.3" lengthAdjust="spacingAndGlyphs">180 s</text>
<text x="36.7" y="251.8" font-size="6.6" text-anchor="middle" fill="#1a1a1a" font-weight="normal" stroke="#1a1a1a" stroke-width="0.260" textLength="24.3" lengthAdjust="spacingAndGlyphs">Wildtype</text>
<text x="36.7" y="258.9" font-size="6.6" text-anchor="middle" fill="#1a1a1a" font-weight="normal" stroke="#1a1a1a" stroke-width="0.260" textLength="34.2" lengthAdjust="spacingAndGlyphs">(Vehicle ctrl)</text>
<text x="53.9" y="289.6" font-size="6.8" text-anchor="end" fill="#1a1a1a" font-weight="normal" stroke="#1a1a1a" stroke-width="0.268" textLength="30.1" lengthAdjust="spacingAndGlyphs">Vehicle ctrl</text>
<text x="34.70" y="326.8" font-size="7.0" fill="#1a1a1a" stroke="#1a1a1a" stroke-width="0.26" textLength="12.30" lengthAdjust="spacingAndGlyphs">DPA</text>
<text x="47.10" y="328.90" font-size="4.6" fill="#1a1a1a" stroke="#1a1a1a" stroke-width="0.20" textLength="6.90" lengthAdjust="spacingAndGlyphs">n-6</text>
<text x="18.00" y="363.3" font-size="7.0" fill="#1a1a1a" stroke="#1a1a1a" stroke-width="0.26" textLength="29.00" lengthAdjust="spacingAndGlyphs">11-HpDPA</text>
<text x="47.10" y="365.40" font-size="4.6" fill="#1a1a1a" stroke="#1a1a1a" stroke-width="0.20" textLength="6.90" lengthAdjust="spacingAndGlyphs">n-6</text>
<text x="18.00" y="400.0" font-size="7.0" fill="#1a1a1a" stroke="#1a1a1a" stroke-width="0.26" textLength="29.00" lengthAdjust="spacingAndGlyphs">14-HpDPA</text>
<text x="47.10" y="402.10" font-size="4.6" fill="#1a1a1a" stroke="#1a1a1a" stroke-width="0.20" textLength="6.90" lengthAdjust="spacingAndGlyphs">n-6</text>
<text x="56.6" y="425.4" font-size="6.4" fill="#1a1a1a" stroke="#1a1a1a" stroke-width="0.22" textLength="65.6" lengthAdjust="spacingAndGlyphs">-,10 μm; <tspan fill="#6cc04a" stroke="#6cc04a">Platelet</tspan>; <tspan fill="#c0143c" stroke="#c0143c">Fibrin</tspan></text>
<g clip-path="url(#c17)">
<rect x="57.9" y="234.2" width="34.5" height="34.5" fill="#8c8c8c"/>
<g transform="translate(57.9,234.2) scale(0.9857,0.9857)" filter="url(#bl)">
<polygon points="0,0 35,0 35,35 0,35" fill="#8c8c8c" opacity="1"/>
<polygon points="0,0 4,0 19,35 0,35" fill="#6a6a6a" opacity="1"/>
<polygon points="12,0 35,0 35,35 29,35" fill="#9c9c9c" opacity="1"/>
<path d="M3,0 L12.5,0 C16,12 22,22 29,35 L18,35 C12,24 6,14 3,0 Z" fill="#404040" opacity="1"/>
<line x1="14" y1="20" x2="35" y2="6" stroke="#5a5a5a" stroke-width="0.7" opacity="0.8"/>
<line x1="17" y1="26" x2="35" y2="14" stroke="#5a5a5a" stroke-width="0.7" opacity="0.8"/>
<line x1="20" y1="11" x2="35" y2="2" stroke="#606060" stroke-width="0.6" opacity="0.7"/>
<line x1="22" y1="32" x2="35" y2="22" stroke="#5a5a5a" stroke-width="0.6" opacity="0.7"/>
<line x1="0" y1="26" x2="10" y2="20" stroke="#4a4a4a" stroke-width="0.6" opacity="0.7"/>
<line x1="0" y1="31" x2="14" y2="23" stroke="#4a4a4a" stroke-width="0.6" opacity="0.7"/>
<polygon points="0,0 35,0 35,2.4 0,2.4" fill="#444" opacity="1"/>
<line x1="1" y1="1.6" x2="14" y2="1.6" stroke="#ddd" stroke-width="0.6" opacity="0.8"/>
</g>
<rect x="57.9" y="234.2" width="34.5" height="34.5" fill="#fff" filter="url(#nz)" opacity="0.2" style="mix-blend-mode:overlay"/>
<rect x="45.150000000000006" y="221.45" width="60" height="60" fill="#fff" filter="url(#nzs)" opacity="0.28" style="mix-blend-mode:overlay" transform="rotate(-28 75.15 251.45)"/>
<g transform="translate(57.9,234.2) scale(0.9857,0.9857)">
<rect x="1.6" y="30.8" width="1.7" height="1.6" fill="#000"/>
</g>
</g>
<g clip-path="url(#c18)">
<rect x="95.5" y="234.2" width="34.5" height="34.5" fill="#8c8c8c"/>
<g transform="translate(95.5,234.2) scale(0.9857,0.9857)" filter="url(#bl)">
<polygon points="0,0 35,0 35,35 0,35" fill="#8c8c8c" opacity="1"/>
<polygon points="0,0 4,0 19,35 0,35" fill="#6a6a6a" opacity="1"/>
<polygon points="12,0 35,0 35,35 29,35" fill="#9c9c9c" opacity="1"/>
<path d="M3,0 L12.5,0 C16,12 22,22 29,35 L18,35 C12,24 6,14 3,0 Z" fill="#404040" opacity="1"/>
<line x1="14" y1="20" x2="35" y2="6" stroke="#5a5a5a" stroke-width="0.7" opacity="0.8"/>
<line x1="17" y1="26" x2="35" y2="14" stroke="#5a5a5a" stroke-width="0.7" opacity="0.8"/>
<line x1="20" y1="11" x2="35" y2="2" stroke="#606060" stroke-width="0.6" opacity="0.7"/>
<line x1="22" y1="32" x2="35" y2="22" stroke="#5a5a5a" stroke-width="0.6" opacity="0.7"/>
<line x1="0" y1="26" x2="10" y2="20" stroke="#4a4a4a" stroke-width="0.6" opacity="0.7"/>
<line x1="0" y1="31" x2="14" y2="23" stroke="#4a4a4a" stroke-width="0.6" opacity="0.7"/>
<polygon points="0,0 35,0 35,2.4 0,2.4" fill="#444" opacity="1"/>
<line x1="1" y1="1.6" x2="14" y2="1.6" stroke="#ddd" stroke-width="0.6" opacity="0.8"/>
</g>
<rect x="95.5" y="234.2" width="34.5" height="34.5" fill="#fff" filter="url(#nz)" opacity="0.2" style="mix-blend-mode:overlay"/>
<rect x="82.75" y="221.45" width="60" height="60" fill="#fff" filter="url(#nzs)" opacity="0.28" style="mix-blend-mode:overlay" transform="rotate(-28 112.75 251.45)"/>
<g transform="translate(95.5,234.2) scale(0.9857,0.9857)">
<path d="M14.5,23 C13.5,18 15.5,13 18.5,11.5 C21,11.5 22.5,14 24,17.5 C25.5,21 25.5,23.5 23,24.5 C20,25.5 15.5,25.5 14.5,23 Z" fill="#86ec2c" opacity="1"/>
<path d="M18.6,12.5 C20.5,13 22,16 23.6,19.7 C22,20 20.5,17 18.6,12.5 Z" fill="#e6f030" opacity="1"/>
</g>
</g>
<g clip-path="url(#c19)">
<rect x="132.9" y="234.2" width="34.5" height="34.5" fill="#8c8c8c"/>
<g transform="translate(132.9,234.2) scale(0.9857,0.9857)" filter="url(#bl)">
<polygon points="0,0 35,0 35,35 0,35" fill="#8c8c8c" opacity="1"/>
<polygon points="0,0 4,0 19,35 0,35" fill="#6a6a6a" opacity="1"/>
<polygon points="12,0 35,0 35,35 29,35" fill="#9c9c9c" opacity="1"/>
<path d="M3,0 L12.5,0 C16,12 22,22 29,35 L18,35 C12,24 6,14 3,0 Z" fill="#404040" opacity="1"/>
<line x1="14" y1="20" x2="35" y2="6" stroke="#5a5a5a" stroke-width="0.7" opacity="0.8"/>
<line x1="17" y1="26" x2="35" y2="14" stroke="#5a5a5a" stroke-width="0.7" opacity="0.8"/>
<line x1="20" y1="11" x2="35" y2="2" stroke="#606060" stroke-width="0.6" opacity="0.7"/>
<line x1="22" y1="32" x2="35" y2="22" stroke="#5a5a5a" stroke-width="0.6" opacity="0.7"/>
<line x1="0" y1="26" x2="10" y2="20" stroke="#4a4a4a" stroke-width="0.6" opacity="0.7"/>
<line x1="0" y1="31" x2="14" y2="23" stroke="#4a4a4a" stroke-width="0.6" opacity="0.7"/>
<polygon points="0,0 35,0 35,2.4 0,2.4" fill="#444" opacity="1"/>
<line x1="1" y1="1.6" x2="14" y2="1.6" stroke="#ddd" stroke-width="0.6" opacity="0.8"/>
</g>
<rect x="132.9" y="234.2" width="34.5" height="34.5" fill="#fff" filter="url(#nz)" opacity="0.2" style="mix-blend-mode:overlay"/>
<rect x="120.15" y="221.45" width="60" height="60" fill="#fff" filter="url(#nzs)" opacity="0.28" style="mix-blend-mode:overlay" transform="rotate(-28 150.15 251.45)"/>
<g transform="translate(132.9,234.2) scale(0.9857,0.9857)">
<path d="M13.8,17 C14,13.5 16.5,12.5 18.5,13.5 C21,15 22.5,20 23.8,23.5 C22,25.5 17.5,25.5 15.5,23.5 C14,22 13.6,19.5 13.8,17 Z" fill="#86ec2c" opacity="1"/>
<path d="M16.5,14 C18,14.5 19.2,17 20.2,19.5 C18.6,18 17.3,16.2 16.5,14 Z" fill="#e6f030" opacity="1"/>
</g>
</g>
<g clip-path="url(#c20)">
<rect x="170.2" y="234.2" width="34.5" height="34.5" fill="#8c8c8c"/>
<g transform="translate(170.2,234.2) scale(0.9857,0.9857)" filter="url(#bl)">
<polygon points="0,0 35,0 35,35 0,35" fill="#8c8c8c" opacity="1"/>
<polygon points="0,0 4,0 19,35 0,35" fill="#6a6a6a" opacity="1"/>
<polygon points="12,0 35,0 35,35 29,35" fill="#9c9c9c" opacity="1"/>
<path d="M3,0 L12.5,0 C16,12 22,22 29,35 L18,35 C12,24 6,14 3,0 Z" fill="#404040" opacity="1"/>
<line x1="14" y1="20" x2="35" y2="6" stroke="#5a5a5a" stroke-width="0.7" opacity="0.8"/>
<line x1="17" y1="26" x2="35" y2="14" stroke="#5a5a5a" stroke-width="0.7" opacity="0.8"/>
<line x1="20" y1="11" x2="35" y2="2" stroke="#606060" stroke-width="0.6" opacity="0.7"/>
<line x1="22" y1="32" x2="35" y2="22" stroke="#5a5a5a" stroke-width="0.6" opacity="0.7"/>
<line x1="0" y1="26" x2="10" y2="20" stroke="#4a4a4a" stroke-width="0.6" opacity="0.7"/>
<line x1="0" y1="31" x2="14" y2="23" stroke="#4a4a4a" stroke-width="0.6" opacity="0.7"/>
<polygon points="0,0 35,0 35,2.4 0,2.4" fill="#444" opacity="1"/>
<line x1="1" y1="1.6" x2="14" y2="1.6" stroke="#ddd" stroke-width="0.6" opacity="0.8"/>
</g>
<rect x="170.2" y="234.2" width="34.5" height="34.5" fill="#fff" filter="url(#nz)" opacity="0.2" style="mix-blend-mode:overlay"/>
<rect x="157.45" y="221.45" width="60" height="60" fill="#fff" filter="url(#nzs)" opacity="0.28" style="mix-blend-mode:overlay" transform="rotate(-28 187.45 251.45)"/>
<g transform="translate(170.2,234.2) scale(0.9857,0.9857)">
<path d="M15.5,16 C15.5,14 17,13 18,13.5 C19.5,16 21,20 23,24 C21.5,25.5 18.5,25 17,23.5 C15.5,21.5 15.2,18.5 15.5,16 Z" fill="#86ec2c" opacity="1"/>
<ellipse cx="17" cy="13.8" rx="1.4" ry="1.2" fill="#d04020" opacity="1" transform="rotate(0 17 13.8)"/>
<ellipse cx="17.6" cy="15" rx="0.9" ry="1.2" fill="#e6f030" opacity="1" transform="rotate(0 17.6 15)"/>
</g>
</g>
<g clip-path="url(#c21)">
<rect x="57.9" y="270.8" width="34.5" height="34.5" fill="#b4b4b4"/>
<g transform="translate(57.9,270.8) scale(0.9857,0.9857)" filter="url(#bl)">
<polygon points="0,0 35,0 35,35 0,35" fill="#b4b4b4" opacity="1"/>
<polygon points="0,0 35,0 35,9 0,5" fill="#6a6a6a" opacity="1"/>
<polygon points="22,0 35,0 35,9 15,35 4,35" fill="#5c5c5c" opacity="1"/>
<polygon points="26,0 35,0 35,7" fill="#3a3a3a" opacity="1"/>
<polygon points="0,6 14,6 7,22 0,24" fill="#cdcdcd" opacity="1"/>
<polygon points="18,35 35,13 35,35" fill="#d2d2d2" opacity="1"/>
<line x1="20" y1="35" x2="35" y2="18" stroke="#8a8a8a" stroke-width="0.7" opacity="0.8"/>
<line x1="25" y1="35" x2="35" y2="24" stroke="#8a8a8a" stroke-width="0.7" opacity="0.8"/>
<line x1="0" y1="30" x2="8" y2="22" stroke="#e0e0e0" stroke-width="1" opacity="0.7"/>
<polygon points="0,0 35,0 35,2 0,2" fill="#555" opacity="1"/>
</g>
<rect x="57.9" y="270.8" width="34.5" height="34.5" fill="#fff" filter="url(#nz)" opacity="0.3" style="mix-blend-mode:overlay"/>
<rect x="45.150000000000006" y="258.05" width="60" height="60" fill="#fff" filter="url(#nzs)" opacity="0.22" style="mix-blend-mode:overlay" transform="rotate(-45 75.15 288.05)"/>
<g transform="translate(57.9,270.8) scale(0.9857,0.9857)">
<rect x="1.6" y="30.8" width="1.7" height="1.6" fill="#000"/>
</g>
</g>
<g clip-path="url(#c22)">
<rect x="95.5" y="270.8" width="34.5" height="34.5" fill="#b4b4b4"/>
<g transform="translate(95.5,270.8) scale(0.9857,0.9857)" filter="url(#bl)">
<polygon points="0,0 35,0 35,35 0,35" fill="#b4b4b4" opacity="1"/>
<polygon points="0,0 35,0 35,9 0,5" fill="#6a6a6a" opacity="1"/>
<polygon points="22,0 35,0 35,9 15,35 4,35" fill="#5c5c5c" opacity="1"/>
<polygon points="26,0 35,0 35,7" fill="#3a3a3a" opacity="1"/>
<polygon points="0,6 14,6 7,22 0,24" fill="#cdcdcd" opacity="1"/>
<polygon points="18,35 35,13 35,35" fill="#d2d2d2" opacity="1"/>
<line x1="20" y1="35" x2="35" y2="18" stroke="#8a8a8a" stroke-width="0.7" opacity="0.8"/>
<line x1="25" y1="35" x2="35" y2="24" stroke="#8a8a8a" stroke-width="0.7" opacity="0.8"/>
<line x1="0" y1="30" x2="8" y2="22" stroke="#e0e0e0" stroke-width="1" opacity="0.7"/>
<polygon points="0,0 35,0 35,2 0,2" fill="#555" opacity="1"/>
</g>
<rect x="95.5" y="270.8" width="34.5" height="34.5" fill="#fff" filter="url(#nz)" opacity="0.3" style="mix-blend-mode:overlay"/>
<rect x="82.75" y="258.05" width="60" height="60" fill="#fff" filter="url(#nzs)" opacity="0.22" style="mix-blend-mode:overlay" transform="rotate(-45 112.75 288.05)"/>
<g transform="translate(95.5,270.8) scale(0.9857,0.9857)">
<ellipse cx="17.2" cy="14.2" rx="1.4" ry="1.2" fill="#d8161c" opacity="1" transform="rotate(0 17.2 14.2)"/>
<path d="M11,19.5 C11,16 14,14 16.8,15 C18.5,16 17.8,19.5 15.5,21.2 C13.5,22.5 11,22 11,19.5 Z" fill="#86ec2c" opacity="1"/>
</g>
</g>
<g clip-path="url(#c23)">
<rect x="132.9" y="270.8" width="34.5" height="34.5" fill="#b4b4b4"/>
<g transform="translate(132.9,270.8) scale(0.9857,0.9857)" filter="url(#bl)">
<polygon points="0,0 35,0 35,35 0,35" fill="#9e9e9e" opacity="1"/>
<polygon points="0,4 16,0 20,0 0,20" fill="#c4c4c4" opacity="1"/>
<polygon points="18,0 35,0 35,14 14,35 0,35 0,24" fill="#646464" opacity="1"/>
<polygon points="16,35 35,16 35,35" fill="#c6c6c6" opacity="1"/>
<line x1="0" y1="8" x2="8" y2="0" stroke="#e4e4e4" stroke-width="1" opacity="0.7"/>
<line x1="0" y1="14" x2="13" y2="2" stroke="#e4e4e4" stroke-width="1" opacity="0.6"/>
<line x1="20" y1="35" x2="35" y2="21" stroke="#e0e0e0" stroke-width="1" opacity="0.6"/>
<line x1="26" y1="35" x2="35" y2="27" stroke="#e0e0e0" stroke-width="1" opacity="0.6"/>
<polygon points="0,0 35,0 35,2 0,2" fill="#555" opacity="1"/>
</g>
<rect x="132.9" y="270.8" width="34.5" height="34.5" fill="#fff" filter="url(#nz)" opacity="0.3" style="mix-blend-mode:overlay"/>
<rect x="120.15" y="258.05" width="60" height="60" fill="#fff" filter="url(#nzs)" opacity="0.22" style="mix-blend-mode:overlay" transform="rotate(-45 150.15 288.05)"/>
<g transform="translate(132.9,270.8) scale(0.9857,0.9857)">
<ellipse cx="14.5" cy="14.2" rx="1.3" ry="1.0" fill="#d8161c" opacity="1" transform="rotate(0 14.5 14.2)"/>
<ellipse cx="12.8" cy="17.2" rx="3.8" ry="1.6" fill="#86ec2c" opacity="1" transform="rotate(-30 12.8 17.2)"/>
</g>
</g>
<g clip-path="url(#c24)">
<rect x="170.2" y="270.8" width="34.5" height="34.5" fill="#b4b4b4"/>
<g transform="translate(170.2,270.8) scale(0.9857,0.9857)" filter="url(#bl)">
<polygon points="0,0 35,0 35,35 0,35" fill="#a8a8a8" opacity="1"/>
<polygon points="0,0 20,0 8,22 0,26" fill="#c4c4c4" opacity="1"/>
<polygon points="20,0 35,0 35,12 12,35 2,35" fill="#5e5e5e" opacity="1"/>
<polygon points="24,0 35,0 35,9" fill="#3c3c3c" opacity="1"/>
<polygon points="14,35 35,14 35,35" fill="#cccccc" opacity="1"/>
<line x1="18" y1="35" x2="35" y2="19" stroke="#e4e4e4" stroke-width="1" opacity="0.6"/>
<line x1="24" y1="35" x2="35" y2="25" stroke="#e4e4e4" stroke-width="1" opacity="0.6"/>
<polygon points="0,0 35,0 35,2 0,2" fill="#555" opacity="1"/>
</g>
<rect x="170.2" y="270.8" width="34.5" height="34.5" fill="#fff" filter="url(#nz)" opacity="0.3" style="mix-blend-mode:overlay"/>
<rect x="157.45" y="258.05" width="60" height="60" fill="#fff" filter="url(#nzs)" opacity="0.22" style="mix-blend-mode:overlay" transform="rotate(-45 187.45 288.05)"/>
<g transform="translate(170.2,270.8) scale(0.9857,0.9857)">
<ellipse cx="16" cy="13.2" rx="1.2" ry="1.0" fill="#d8161c" opacity="1" transform="rotate(0 16 13.2)"/>
<ellipse cx="13.8" cy="17.3" rx="3.8" ry="1.2" fill="#86ec2c" opacity="1" transform="rotate(-45 13.8 17.3)"/>
<ellipse cx="10" cy="21" rx="1.0" ry="0.8" fill="#d8161c" opacity="0.6" transform="rotate(0 10 21)"/>
</g>
</g>
<g clip-path="url(#c25)">
<rect x="57.9" y="307.5" width="34.5" height="34.5" fill="#c4c4c4"/>
<g transform="translate(57.9,307.5) scale(0.9857,0.9857)" filter="url(#bl)">
<polygon points="0,0 35,0 35,35 0,35" fill="#c4c4c4" opacity="1"/>
<polygon points="12,0 35,0 35,24" fill="#7e7e7e" opacity="1"/>
<polygon points="22,12 30,12 30,18 22,18" fill="#bdbdbd" opacity="0.8"/>
<polygon points="5,0 13,0 35,23 35,31 28,31" fill="#3c3c3c" opacity="1"/>
<polygon points="0,0 6,0 3,8 0,8" fill="#4a4a4a" opacity="1"/>
<polygon points="0,14 20,24 26,31 0,31" fill="#d4d4d4" opacity="1"/>
<polygon points="20,31 35,31 35,35 20,35" fill="#8c8c8c" opacity="0.9"/>
<polygon points="0,0 35,0 35,1.6 0,1.6" fill="#3a3a3a" opacity="1"/>
</g>
<rect x="57.9" y="307.5" width="34.5" height="34.5" fill="#fff" filter="url(#nz)" opacity="0.45" style="mix-blend-mode:overlay"/>
<g transform="translate(57.9,307.5) scale(0.9857,0.9857)">
<rect x="1.6" y="30.8" width="1.7" height="1.6" fill="#000"/>
</g>
</g>
<g clip-path="url(#c26)">
<rect x="95.5" y="307.5" width="34.5" height="34.5" fill="#c4c4c4"/>
<g transform="translate(95.5,307.5) scale(0.9857,0.9857)" filter="url(#bl)">
<polygon points="0,0 35,0 35,35 0,35" fill="#c4c4c4" opacity="1"/>
<polygon points="12,0 35,0 35,24" fill="#7e7e7e" opacity="1"/>
<polygon points="22,12 30,12 30,18 22,18" fill="#bdbdbd" opacity="0.8"/>
<polygon points="5,0 13,0 35,23 35,31 28,31" fill="#3c3c3c" opacity="1"/>
<polygon points="0,0 6,0 3,8 0,8" fill="#4a4a4a" opacity="1"/>
<polygon points="0,14 20,24 26,31 0,31" fill="#d4d4d4" opacity="1"/>
<polygon points="20,31 35,31 35,35 20,35" fill="#8c8c8c" opacity="0.9"/>
<polygon points="0,0 35,0 35,1.6 0,1.6" fill="#3a3a3a" opacity="1"/>
</g>
<rect x="95.5" y="307.5" width="34.5" height="34.5" fill="#fff" filter="url(#nz)" opacity="0.45" style="mix-blend-mode:overlay"/>
<g transform="translate(95.5,307.5) scale(0.9857,0.9857)">
<ellipse cx="16.3" cy="16.5" rx="2.7" ry="2.2" fill="#86ec2c" opacity="1" transform="rotate(0 16.3 16.5)"/>
</g>
</g>
<g clip-path="url(#c27)">
<rect x="132.9" y="307.5" width="34.5" height="34.5" fill="#c4c4c4"/>
<g transform="translate(132.9,307.5) scale(0.9857,0.9857)" filter="url(#bl)">
<polygon points="0,0 35,0 35,35 0,35" fill="#c4c4c4" opacity="1"/>
<polygon points="12,0 35,0 35,24" fill="#7e7e7e" opacity="1"/>
<polygon points="22,12 30,12 30,18 22,18" fill="#bdbdbd" opacity="0.8"/>
<polygon points="5,0 13,0 35,23 35,31 28,31" fill="#3c3c3c" opacity="1"/>
<polygon points="0,0 6,0 3,8 0,8" fill="#4a4a4a" opacity="1"/>
<polygon points="0,14 20,24 26,31 0,31" fill="#d4d4d4" opacity="1"/>
<polygon points="20,31 35,31 35,35 20,35" fill="#8c8c8c" opacity="0.9"/>
<polygon points="0,0 35,0 35,1.6 0,1.6" fill="#3a3a3a" opacity="1"/>
</g>
<rect x="132.9" y="307.5" width="34.5" height="34.5" fill="#fff" filter="url(#nz)" opacity="0.45" style="mix-blend-mode:overlay"/>
<g transform="translate(132.9,307.5) scale(0.9857,0.9857)">
<ellipse cx="15.6" cy="17.3" rx="2.0" ry="1.8" fill="#86ec2c" opacity="1" transform="rotate(0 15.6 17.3)"/>
</g>
</g>
<g clip-path="url(#c28)">
<rect x="170.2" y="307.5" width="34.5" height="34.5" fill="#c4c4c4"/>
<g transform="translate(170.2,307.5) scale(0.9857,0.9857)" filter="url(#bl)">
<polygon points="0,0 35,0 35,35 0,35" fill="#c4c4c4" opacity="1"/>
<polygon points="12,0 35,0 35,24" fill="#7e7e7e" opacity="1"/>
<polygon points="22,12 30,12 30,18 22,18" fill="#bdbdbd" opacity="0.8"/>
<polygon points="5,0 13,0 35,23 35,31 28,31" fill="#3c3c3c" opacity="1"/>
<polygon points="0,0 6,0 3,8 0,8" fill="#4a4a4a" opacity="1"/>
<polygon points="0,14 20,24 26,31 0,31" fill="#d4d4d4" opacity="1"/>
<polygon points="20,31 35,31 35,35 20,35" fill="#8c8c8c" opacity="0.9"/>
<polygon points="0,0 35,0 35,1.6 0,1.6" fill="#3a3a3a" opacity="1"/>
</g>
<rect x="170.2" y="307.5" width="34.5" height="34.5" fill="#fff" filter="url(#nz)" opacity="0.45" style="mix-blend-mode:overlay"/>
<g transform="translate(170.2,307.5) scale(0.9857,0.9857)">
<ellipse cx="15.8" cy="17.3" rx="1.8" ry="1.3" fill="#86ec2c" opacity="1" transform="rotate(0 15.8 17.3)"/>
</g>
</g>
<g clip-path="url(#c29)">
<rect x="57.9" y="344.4" width="34.5" height="34.5" fill="#c4c4c4"/>
<g transform="translate(57.9,344.4) scale(0.9857,0.9857)" filter="url(#bl)">
<polygon points="0,0 35,0 35,35 0,35" fill="#c4c4c4" opacity="1"/>
<polygon points="26,0 35,0 35,19 21,34 4,34 4,30" fill="#3c3c3c" opacity="1"/>
<polygon points="26,0 35,0 35,8 18,14" fill="#555" opacity="0.9"/>
<polygon points="20,2 26,0 5,30 2,28" fill="#e0e0e0" opacity="0.8"/>
<polygon points="21,35 35,20 35,35" fill="#d2d2d2" opacity="1"/>
<line x1="0" y1="10" x2="12" y2="0" stroke="#8a8a8a" stroke-width="1.0" opacity="0.6"/>
<line x1="0" y1="18" x2="16" y2="4" stroke="#8a8a8a" stroke-width="1.0" opacity="0.5"/>
<line x1="0" y1="25" x2="10" y2="16" stroke="#8a8a8a" stroke-width="1.0" opacity="0.5"/>
</g>
<rect x="57.9" y="344.4" width="34.5" height="34.5" fill="#fff" filter="url(#nz)" opacity="0.3" style="mix-blend-mode:overlay"/>
<rect x="45.150000000000006" y="331.65" width="60" height="60" fill="#fff" filter="url(#nzs)" opacity="0.25" style="mix-blend-mode:overlay" transform="rotate(-40 75.15 361.65)"/>
<g transform="translate(57.9,344.4) scale(0.9857,0.9857)">
<rect x="1.6" y="30.8" width="1.7" height="1.6" fill="#000"/>
</g>
</g>
<g clip-path="url(#c30)">
<rect x="95.5" y="344.4" width="34.5" height="34.5" fill="#c4c4c4"/>
<g transform="translate(95.5,344.4) scale(0.9857,0.9857)" filter="url(#bl)">
<polygon points="0,0 35,0 35,35 0,35" fill="#c4c4c4" opacity="1"/>
<polygon points="26,0 35,0 35,19 21,34 4,34 4,30" fill="#3c3c3c" opacity="1"/>
<polygon points="26,0 35,0 35,8 18,14" fill="#555" opacity="0.9"/>
<polygon points="20,2 26,0 5,30 2,28" fill="#e0e0e0" opacity="0.8"/>
<polygon points="21,35 35,20 35,35" fill="#d2d2d2" opacity="1"/>
<line x1="0" y1="10" x2="12" y2="0" stroke="#8a8a8a" stroke-width="1.0" opacity="0.6"/>
<line x1="0" y1="18" x2="16" y2="4" stroke="#8a8a8a" stroke-width="1.0" opacity="0.5"/>
<line x1="0" y1="25" x2="10" y2="16" stroke="#8a8a8a" stroke-width="1.0" opacity="0.5"/>
</g>
<rect x="95.5" y="344.4" width="34.5" height="34.5" fill="#fff" filter="url(#nz)" opacity="0.3" style="mix-blend-mode:overlay"/>
<rect x="82.75" y="331.65" width="60" height="60" fill="#fff" filter="url(#nzs)" opacity="0.25" style="mix-blend-mode:overlay" transform="rotate(-40 112.75 361.65)"/>
<g transform="translate(95.5,344.4) scale(0.9857,0.9857)">
<path d="M13,19 C13.5,16.5 16,14.5 18,14.5 C19,16 19,19 17.5,20.5 C16,21.5 13,21.5 13,19 Z" fill="#86ec2c" opacity="1"/>
</g>
</g>
<g clip-path="url(#c31)">
<rect x="132.9" y="344.4" width="34.5" height="34.5" fill="#c4c4c4"/>
<g transform="translate(132.9,344.4) scale(0.9857,0.9857)" filter="url(#bl)">
<polygon points="0,0 35,0 35,35 0,35" fill="#c4c4c4" opacity="1"/>
<polygon points="26,0 35,0 35,19 21,34 4,34 4,30" fill="#3c3c3c" opacity="1"/>
<polygon points="26,0 35,0 35,8 18,14" fill="#555" opacity="0.9"/>
<polygon points="20,2 26,0 5,30 2,28" fill="#e0e0e0" opacity="0.8"/>
<polygon points="21,35 35,20 35,35" fill="#d2d2d2" opacity="1"/>
<line x1="0" y1="10" x2="12" y2="0" stroke="#8a8a8a" stroke-width="1.0" opacity="0.6"/>
<line x1="0" y1="18" x2="16" y2="4" stroke="#8a8a8a" stroke-width="1.0" opacity="0.5"/>
<line x1="0" y1="25" x2="10" y2="16" stroke="#8a8a8a" stroke-width="1.0" opacity="0.5"/>
</g>
<rect x="132.9" y="344.4" width="34.5" height="34.5" fill="#fff" filter="url(#nz)" opacity="0.3" style="mix-blend-mode:overlay"/>
<rect x="120.15" y="331.65" width="60" height="60" fill="#fff" filter="url(#nzs)" opacity="0.25" style="mix-blend-mode:overlay" transform="rotate(-40 150.15 361.65)"/>
<g transform="translate(132.9,344.4) scale(0.9857,0.9857)">
<ellipse cx="17.5" cy="17.4" rx="1.6" ry="1.0" fill="#86ec2c" opacity="1" transform="rotate(-30 17.5 17.4)"/>
<ellipse cx="15.8" cy="18" rx="0.6" ry="0.6" fill="#d8161c" opacity="1" transform="rotate(0 15.8 18)"/>
</g>
</g>
<g clip-path="url(#c32)">
<rect x="170.2" y="344.4" width="34.5" height="34.5" fill="#c4c4c4"/>
<g transform="translate(170.2,344.4) scale(0.9857,0.9857)" filter="url(#bl)">
<polygon points="0,0 35,0 35,35 0,35" fill="#c4c4c4" opacity="1"/>
<polygon points="26,0 35,0 35,19 21,34 4,34 4,30" fill="#3c3c3c" opacity="1"/>
<polygon points="26,0 35,0 35,8 18,14" fill="#555" opacity="0.9"/>
<polygon points="20,2 26,0 5,30 2,28" fill="#e0e0e0" opacity="0.8"/>
<polygon points="21,35 35,20 35,35" fill="#d2d2d2" opacity="1"/>
<line x1="0" y1="10" x2="12" y2="0" stroke="#8a8a8a" stroke-width="1.0" opacity="0.6"/>
<line x1="0" y1="18" x2="16" y2="4" stroke="#8a8a8a" stroke-width="1.0" opacity="0.5"/>
<line x1="0" y1="25" x2="10" y2="16" stroke="#8a8a8a" stroke-width="1.0" opacity="0.5"/>
</g>
<rect x="170.2" y="344.4" width="34.5" height="34.5" fill="#fff" filter="url(#nz)" opacity="0.3" style="mix-blend-mode:overlay"/>
<rect x="157.45" y="331.65" width="60" height="60" fill="#fff" filter="url(#nzs)" opacity="0.25" style="mix-blend-mode:overlay" transform="rotate(-40 187.45 361.65)"/>
<g transform="translate(170.2,344.4) scale(0.9857,0.9857)">
<ellipse cx="15.8" cy="18.4" rx="0.9" ry="2.6" fill="#86ec2c" opacity="1" transform="rotate(35 15.8 18.4)"/>
</g>
</g>
<g clip-path="url(#c33)">
<rect x="57.9" y="381.6" width="34.5" height="34.5" fill="#9c9c9c"/>
<g transform="translate(57.9,381.6) scale(0.9857,0.9857)" filter="url(#bl)">
<polygon points="0,0 35,0 35,35 0,35" fill="#a2a2a2" opacity="1"/>
<polygon points="12.5,0 19.5,0 26,35 19,35" fill="#2e2e2e" opacity="1"/>
<polygon points="26,0 35,0 35,35 28,35" fill="#a4a4a4" opacity="0.8"/>
<path d="M0,14 C5,11 10,9 14,8" fill="none" opacity="1"/>
<line x1="0" y1="14" x2="14" y2="9" stroke="#777" stroke-width="0.7" opacity="0.8"/>
<line x1="0" y1="20" x2="15" y2="15" stroke="#777" stroke-width="0.7" opacity="0.8"/>
<line x1="0" y1="26" x2="16" y2="21" stroke="#777" stroke-width="0.7" opacity="0.7"/>
<line x1="22" y1="12" x2="35" y2="9" stroke="#777" stroke-width="0.6" opacity="0.6"/>
<line x1="24" y1="20" x2="35" y2="17" stroke="#777" stroke-width="0.6" opacity="0.6"/>
<line x1="32" y1="2" x2="32" y2="35" stroke="#777" stroke-width="0.5" opacity="0.6"/>
<polygon points="0,0 35,0 35,2 0,2" fill="#555" opacity="1"/>
<line x1="1" y1="1.3" x2="10" y2="1.3" stroke="#ddd" stroke-width="0.6" opacity="0.8"/>
</g>
<rect x="57.9" y="381.6" width="34.5" height="34.5" fill="#fff" filter="url(#nz)" opacity="0.15" style="mix-blend-mode:overlay"/>
<rect x="45.150000000000006" y="368.85" width="60" height="60" fill="#fff" filter="url(#nzs)" opacity="0.25" style="mix-blend-mode:overlay" transform="rotate(-15 75.15 398.85)"/>
<g transform="translate(57.9,381.6) scale(0.9857,0.9857)">
<rect x="1.6" y="30.8" width="1.7" height="1.6" fill="#000"/>
</g>
</g>
<g clip-path="url(#c34)">
<rect x="95.5" y="381.6" width="34.5" height="34.5" fill="#9c9c9c"/>
<g transform="translate(95.5,381.6) scale(0.9857,0.9857)" filter="url(#bl)">
<polygon points="0,0 35,0 35,35 0,35" fill="#a2a2a2" opacity="1"/>
<polygon points="12.5,0 19.5,0 26,35 19,35" fill="#2e2e2e" opacity="1"/>
<polygon points="26,0 35,0 35,35 28,35" fill="#a4a4a4" opacity="0.8"/>
<path d="M0,14 C5,11 10,9 14,8" fill="none" opacity="1"/>
<line x1="0" y1="14" x2="14" y2="9" stroke="#777" stroke-width="0.7" opacity="0.8"/>
<line x1="0" y1="20" x2="15" y2="15" stroke="#777" stroke-width="0.7" opacity="0.8"/>
<line x1="0" y1="26" x2="16" y2="21" stroke="#777" stroke-width="0.7" opacity="0.7"/>
<line x1="22" y1="12" x2="35" y2="9" stroke="#777" stroke-width="0.6" opacity="0.6"/>
<line x1="24" y1="20" x2="35" y2="17" stroke="#777" stroke-width="0.6" opacity="0.6"/>
<line x1="32" y1="2" x2="32" y2="35" stroke="#777" stroke-width="0.5" opacity="0.6"/>
<polygon points="0,0 35,0 35,2 0,2" fill="#555" opacity="1"/>
<line x1="1" y1="1.3" x2="10" y2="1.3" stroke="#ddd" stroke-width="0.6" opacity="0.8"/>
</g>
<rect x="95.5" y="381.6" width="34.5" height="34.5" fill="#fff" filter="url(#nz)" opacity="0.15" style="mix-blend-mode:overlay"/>
<rect x="82.75" y="368.85" width="60" height="60" fill="#fff" filter="url(#nzs)" opacity="0.25" style="mix-blend-mode:overlay" transform="rotate(-15 112.75 398.85)"/>
<g transform="translate(95.5,381.6) scale(0.9857,0.9857)">
<ellipse cx="16.7" cy="18.1" rx="2.1" ry="2.2" fill="#86ec2c" opacity="1" transform="rotate(0 16.7 18.1)"/>
</g>
</g>
<g clip-path="url(#c35)">
<rect x="132.9" y="381.6" width="34.5" height="34.5" fill="#9c9c9c"/>
<g transform="translate(132.9,381.6) scale(0.9857,0.9857)" filter="url(#bl)">
<polygon points="0,0 35,0 35,35 0,35" fill="#a2a2a2" opacity="1"/>
<polygon points="12.5,0 19.5,0 26,35 19,35" fill="#2e2e2e" opacity="1"/>
<polygon points="26,0 35,0 35,35 28,35" fill="#a4a4a4" opacity="0.8"/>
<path d="M0,14 C5,11 10,9 14,8" fill="none" opacity="1"/>
<line x1="0" y1="14" x2="14" y2="9" stroke="#777" stroke-width="0.7" opacity="0.8"/>
<line x1="0" y1="20" x2="15" y2="15" stroke="#777" stroke-width="0.7" opacity="0.8"/>
<line x1="0" y1="26" x2="16" y2="21" stroke="#777" stroke-width="0.7" opacity="0.7"/>
<line x1="22" y1="12" x2="35" y2="9" stroke="#777" stroke-width="0.6" opacity="0.6"/>
<line x1="24" y1="20" x2="35" y2="17" stroke="#777" stroke-width="0.6" opacity="0.6"/>
<line x1="32" y1="2" x2="32" y2="35" stroke="#777" stroke-width="0.5" opacity="0.6"/>
<polygon points="0,0 35,0 35,2 0,2" fill="#555" opacity="1"/>
<line x1="1" y1="1.3" x2="10" y2="1.3" stroke="#ddd" stroke-width="0.6" opacity="0.8"/>
</g>
<rect x="132.9" y="381.6" width="34.5" height="34.5" fill="#fff" filter="url(#nz)" opacity="0.15" style="mix-blend-mode:overlay"/>
<rect x="120.15" y="368.85" width="60" height="60" fill="#fff" filter="url(#nzs)" opacity="0.25" style="mix-blend-mode:overlay" transform="rotate(-15 150.15 398.85)"/>
<g transform="translate(132.9,381.6) scale(0.9857,0.9857)">
<ellipse cx="17.6" cy="16.8" rx="1.0" ry="2.6" fill="#86ec2c" opacity="1" transform="rotate(-20 17.6 16.8)"/>
</g>
</g>
<g clip-path="url(#c36)">
<rect x="170.2" y="381.6" width="34.5" height="34.5" fill="#9c9c9c"/>
<g transform="translate(170.2,381.6) scale(0.9857,0.9857)" filter="url(#bl)">
<polygon points="0,0 35,0 35,35 0,35" fill="#a2a2a2" opacity="1"/>
<polygon points="12.5,0 19.5,0 26,35 19,35" fill="#2e2e2e" opacity="1"/>
<polygon points="26,0 35,0 35,35 28,35" fill="#a4a4a4" opacity="0.8"/>
<path d="M0,14 C5,11 10,9 14,8" fill="none" opacity="1"/>
<line x1="0" y1="14" x2="14" y2="9" stroke="#777" stroke-width="0.7" opacity="0.8"/>
<line x1="0" y1="20" x2="15" y2="15" stroke="#777" stroke-width="0.7" opacity="0.8"/>
<line x1="0" y1="26" x2="16" y2="21" stroke="#777" stroke-width="0.7" opacity="0.7"/>
<line x1="22" y1="12" x2="35" y2="9" stroke="#777" stroke-width="0.6" opacity="0.6"/>
<line x1="24" y1="20" x2="35" y2="17" stroke="#777" stroke-width="0.6" opacity="0.6"/>
<line x1="32" y1="2" x2="32" y2="35" stroke="#777" stroke-width="0.5" opacity="0.6"/>
<polygon points="0,0 35,0 35,2 0,2" fill="#555" opacity="1"/>
<line x1="1" y1="1.3" x2="10" y2="1.3" stroke="#ddd" stroke-width="0.6" opacity="0.8"/>
</g>
<rect x="170.2" y="381.6" width="34.5" height="34.5" fill="#fff" filter="url(#nz)" opacity="0.15" style="mix-blend-mode:overlay"/>
<rect x="157.45" y="368.85" width="60" height="60" fill="#fff" filter="url(#nzs)" opacity="0.25" style="mix-blend-mode:overlay" transform="rotate(-15 187.45 398.85)"/>
<g transform="translate(170.2,381.6) scale(0.9857,0.9857)">
<ellipse cx="15.6" cy="15.6" rx="0.9" ry="1.5" fill="#86ec2c" opacity="1" transform="rotate(0 15.6 15.6)"/>
<ellipse cx="16.6" cy="18.5" rx="0.5" ry="0.7" fill="#86ec2c" opacity="1" transform="rotate(0 16.6 18.5)"/>
</g>
</g>
<text x="295.4" y="25.0" font-size="8.7" text-anchor="middle" fill="#6cb84a" font-weight="normal" stroke="#6cb84a" stroke-width="0.343" textLength="27.2" lengthAdjust="spacingAndGlyphs">Platelet</text>
<line x1="257.6" y1="33.2" x2="262.6" y2="33.2" stroke="#48196e" stroke-width="0.9"/>
<circle cx="260.1" cy="33.2" r="1.1" fill="#48196e"/>
<text x="265.20000000000005" y="35.1" font-size="5.2" text-anchor="start" fill="#1a1a1a" font-weight="normal" stroke="#1a1a1a" stroke-width="0.268" textLength="25.6" lengthAdjust="spacingAndGlyphs">Vehicle ctrl</text>
<line x1="293.4" y1="33.2" x2="298.4" y2="33.2" stroke="#26468c" stroke-width="0.9"/>
<circle cx="295.9" cy="33.2" r="1.1" fill="#26468c"/>
<text x="301.00" y="35.1" font-size="5.2" fill="#1a1a1a" stroke="#1a1a1a" stroke-width="0.34" textLength="23.75" lengthAdjust="spacingAndGlyphs">11-HpDPA</text>
<text x="324.85" y="36.70" font-size="4.3" fill="#1a1a1a" stroke="#1a1a1a" stroke-width="0.26" textLength="6.45" lengthAdjust="spacingAndGlyphs">n-6</text>
<line x1="257.6" y1="41.0" x2="262.6" y2="41.0" stroke="#c0123a" stroke-width="0.9"/>
<circle cx="260.1" cy="41.0" r="1.1" fill="#c0123a"/>
<text x="265.20" y="42.9" font-size="5.2" fill="#1a1a1a" stroke="#1a1a1a" stroke-width="0.34" textLength="10.75" lengthAdjust="spacingAndGlyphs">DPA</text>
<text x="276.05" y="44.50" font-size="4.3" fill="#1a1a1a" stroke="#1a1a1a" stroke-width="0.26" textLength="6.45" lengthAdjust="spacingAndGlyphs">n-6</text>
<line x1="293.4" y1="41.0" x2="298.4" y2="41.0" stroke="#5cae3c" stroke-width="0.9"/>
<circle cx="295.9" cy="41.0" r="1.1" fill="#5cae3c"/>
<text x="301.00" y="42.9" font-size="5.2" fill="#1a1a1a" stroke="#1a1a1a" stroke-width="0.34" textLength="23.75" lengthAdjust="spacingAndGlyphs">14-HpDPA</text>
<text x="324.85" y="44.50" font-size="4.3" fill="#1a1a1a" stroke="#1a1a1a" stroke-width="0.26" textLength="6.45" lengthAdjust="spacingAndGlyphs">n-6</text>
<line x1="256.5" y1="101.4" x2="256.5" y2="99.4" stroke="#cdcdcd" stroke-width="0.55"/>
<line x1="255.9" y1="99.4" x2="257.1" y2="99.4" stroke="#cdcdcd" stroke-width="0.4"/>
<line x1="260.3" y1="99.4" x2="260.3" y2="96.4" stroke="#cdcdcd" stroke-width="0.55"/>
<line x1="259.7" y1="96.4" x2="260.9" y2="96.4" stroke="#cdcdcd" stroke-width="0.4"/>
<line x1="264.1" y1="92.6" x2="264.1" y2="88.6" stroke="#cdcdcd" stroke-width="0.55"/>
<line x1="263.5" y1="88.6" x2="264.7" y2="88.6" stroke="#cdcdcd" stroke-width="0.4"/>
<line x1="268.1" y1="88.5" x2="268.1" y2="83.5" stroke="#cdcdcd" stroke-width="0.55"/>
<line x1="267.5" y1="83.5" x2="268.7" y2="83.5" stroke="#cdcdcd" stroke-width="0.4"/>
<line x1="272.1" y1="79.2" x2="272.1" y2="72.2" stroke="#cdcdcd" stroke-width="0.55"/>
<line x1="271.5" y1="72.2" x2="272.7" y2="72.2" stroke="#cdcdcd" stroke-width="0.4"/>
<line x1="276.0" y1="70.4" x2="276.0" y2="61.4" stroke="#cdcdcd" stroke-width="0.55"/>
<line x1="275.4" y1="61.4" x2="276.6" y2="61.4" stroke="#cdcdcd" stroke-width="0.4"/>
<line x1="280.1" y1="65.1" x2="280.1" y2="55.1" stroke="#cdcdcd" stroke-width="0.55"/>
<line x1="279.5" y1="55.1" x2="280.7" y2="55.1" stroke="#cdcdcd" stroke-width="0.4"/>
<line x1="284.0" y1="59.0" x2="284.0" y2="49.0" stroke="#cdcdcd" stroke-width="0.55"/>
<line x1="283.4" y1="49.0" x2="284.6" y2="49.0" stroke="#cdcdcd" stroke-width="0.4"/>
<line x1="287.7" y1="57.8" x2="287.7" y2="47.8" stroke="#cdcdcd" stroke-width="0.55"/>
<line x1="287.1" y1="47.8" x2="288.3" y2="47.8" stroke="#cdcdcd" stroke-width="0.4"/>
<line x1="291.3" y1="59.2" x2="291.3" y2="49.2" stroke="#cdcdcd" stroke-width="0.55"/>
<line x1="290.7" y1="49.2" x2="291.9" y2="49.2" stroke="#cdcdcd" stroke-width="0.4"/>
<line x1="294.9" y1="62.3" x2="294.9" y2="52.3" stroke="#cdcdcd" stroke-width="0.55"/>
<line x1="294.3" y1="52.3" x2="295.5" y2="52.3" stroke="#cdcdcd" stroke-width="0.4"/>
<line x1="298.6" y1="66.2" x2="298.6" y2="56.2" stroke="#cdcdcd" stroke-width="0.55"/>
<line x1="298.0" y1="56.2" x2="299.2" y2="56.2" stroke="#cdcdcd" stroke-width="0.4"/>
<line x1="302.3" y1="68.4" x2="302.3" y2="58.4" stroke="#cdcdcd" stroke-width="0.55"/>
<line x1="301.7" y1="58.4" x2="302.9" y2="58.4" stroke="#cdcdcd" stroke-width="0.4"/>
<line x1="306.2" y1="70.0" x2="306.2" y2="60.0" stroke="#cdcdcd" stroke-width="0.55"/>
<line x1="305.6" y1="60.0" x2="306.8" y2="60.0" stroke="#cdcdcd" stroke-width="0.4"/>
<line x1="310.0" y1="73.1" x2="310.0" y2="64.1" stroke="#cdcdcd" stroke-width="0.55"/>
<line x1="309.4" y1="64.1" x2="310.6" y2="64.1" stroke="#cdcdcd" stroke-width="0.4"/>
<line x1="313.8" y1="75.5" x2="313.8" y2="66.5" stroke="#cdcdcd" stroke-width="0.55"/>
<line x1="313.2" y1="66.5" x2="314.4" y2="66.5" stroke="#cdcdcd" stroke-width="0.4"/>
<line x1="317.3" y1="76.7" x2="317.3" y2="67.7" stroke="#cdcdcd" stroke-width="0.55"/>
<line x1="316.7" y1="67.7" x2="317.9" y2="67.7" stroke="#cdcdcd" stroke-width="0.4"/>
<line x1="321.0" y1="77.1" x2="321.0" y2="68.1" stroke="#cdcdcd" stroke-width="0.55"/>
<line x1="320.4" y1="68.1" x2="321.6" y2="68.1" stroke="#cdcdcd" stroke-width="0.4"/>
<line x1="324.6" y1="80.4" x2="324.6" y2="72.4" stroke="#cdcdcd" stroke-width="0.55"/>
<line x1="324.0" y1="72.4" x2="325.2" y2="72.4" stroke="#cdcdcd" stroke-width="0.4"/>
<line x1="328.1" y1="79.8" x2="328.1" y2="70.8" stroke="#cdcdcd" stroke-width="0.55"/>
<line x1="327.5" y1="70.8" x2="328.7" y2="70.8" stroke="#cdcdcd" stroke-width="0.4"/>
<line x1="331.7" y1="79.5" x2="331.7" y2="69.5" stroke="#cdcdcd" stroke-width="0.55"/>
<line x1="331.1" y1="69.5" x2="332.3" y2="69.5" stroke="#cdcdcd" stroke-width="0.4"/>
<line x1="256.5" y1="100.6" x2="256.5" y2="99.6" stroke="#cdcdcd" stroke-width="0.55"/>
<line x1="255.9" y1="99.6" x2="257.1" y2="99.6" stroke="#cdcdcd" stroke-width="0.4"/>
<line x1="260.3" y1="97.6" x2="260.3" y2="95.6" stroke="#cdcdcd" stroke-width="0.55"/>
<line x1="259.7" y1="95.6" x2="260.9" y2="95.6" stroke="#cdcdcd" stroke-width="0.4"/>
<line x1="264.1" y1="94.6" x2="264.1" y2="91.6" stroke="#cdcdcd" stroke-width="0.55"/>
<line x1="263.5" y1="91.6" x2="264.7" y2="91.6" stroke="#cdcdcd" stroke-width="0.4"/>
<line x1="268.1" y1="91.5" x2="268.1" y2="87.5" stroke="#cdcdcd" stroke-width="0.55"/>
<line x1="267.5" y1="87.5" x2="268.7" y2="87.5" stroke="#cdcdcd" stroke-width="0.4"/>
<line x1="272.1" y1="87.6" x2="272.1" y2="81.6" stroke="#cdcdcd" stroke-width="0.55"/>
<line x1="271.5" y1="81.6" x2="272.7" y2="81.6" stroke="#cdcdcd" stroke-width="0.4"/>
<line x1="276.0" y1="85.5" x2="276.0" y2="78.5" stroke="#cdcdcd" stroke-width="0.55"/>
<line x1="275.4" y1="78.5" x2="276.6" y2="78.5" stroke="#cdcdcd" stroke-width="0.4"/>
<line x1="280.1" y1="84.6" x2="280.1" y2="76.6" stroke="#cdcdcd" stroke-width="0.55"/>
<line x1="279.5" y1="76.6" x2="280.7" y2="76.6" stroke="#cdcdcd" stroke-width="0.4"/>
<line x1="284.0" y1="83.7" x2="284.0" y2="74.7" stroke="#cdcdcd" stroke-width="0.55"/>
<line x1="283.4" y1="74.7" x2="284.6" y2="74.7" stroke="#cdcdcd" stroke-width="0.4"/>
<line x1="287.7" y1="83.4" x2="287.7" y2="74.4" stroke="#cdcdcd" stroke-width="0.55"/>
<line x1="287.1" y1="74.4" x2="288.3" y2="74.4" stroke="#cdcdcd" stroke-width="0.4"/>
<line x1="291.3" y1="82.6" x2="291.3" y2="73.6" stroke="#cdcdcd" stroke-width="0.55"/>
<line x1="290.7" y1="73.6" x2="291.9" y2="73.6" stroke="#cdcdcd" stroke-width="0.4"/>
<line x1="294.9" y1="82.1" x2="294.9" y2="73.1" stroke="#cdcdcd" stroke-width="0.55"/>
<line x1="294.3" y1="73.1" x2="295.5" y2="73.1" stroke="#cdcdcd" stroke-width="0.4"/>
<line x1="298.6" y1="83.2" x2="298.6" y2="74.2" stroke="#cdcdcd" stroke-width="0.55"/>
<line x1="298.0" y1="74.2" x2="299.2" y2="74.2" stroke="#cdcdcd" stroke-width="0.4"/>
<line x1="302.3" y1="83.4" x2="302.3" y2="74.4" stroke="#cdcdcd" stroke-width="0.55"/>
<line x1="301.7" y1="74.4" x2="302.9" y2="74.4" stroke="#cdcdcd" stroke-width="0.4"/>
<line x1="306.2" y1="83.4" x2="306.2" y2="74.4" stroke="#cdcdcd" stroke-width="0.55"/>
<line x1="305.6" y1="74.4" x2="306.8" y2="74.4" stroke="#cdcdcd" stroke-width="0.4"/>
<line x1="310.0" y1="82.8" x2="310.0" y2="74.8" stroke="#cdcdcd" stroke-width="0.55"/>
<line x1="309.4" y1="74.8" x2="310.6" y2="74.8" stroke="#cdcdcd" stroke-width="0.4"/>
<line x1="313.8" y1="82.6" x2="313.8" y2="74.6" stroke="#cdcdcd" stroke-width="0.55"/>
<line x1="313.2" y1="74.6" x2="314.4" y2="74.6" stroke="#cdcdcd" stroke-width="0.4"/>
<line x1="317.3" y1="83.7" x2="317.3" y2="75.7" stroke="#cdcdcd" stroke-width="0.55"/>
<line x1="316.7" y1="75.7" x2="317.9" y2="75.7" stroke="#cdcdcd" stroke-width="0.4"/>
<line x1="321.0" y1="83.7" x2="321.0" y2="75.7" stroke="#cdcdcd" stroke-width="0.55"/>
<line x1="320.4" y1="75.7" x2="321.6" y2="75.7" stroke="#cdcdcd" stroke-width="0.4"/>
<line x1="324.6" y1="83.4" x2="324.6" y2="75.4" stroke="#cdcdcd" stroke-width="0.55"/>
<line x1="324.0" y1="75.4" x2="325.2" y2="75.4" stroke="#cdcdcd" stroke-width="0.4"/>
<line x1="328.1" y1="84.0" x2="328.1" y2="77.0" stroke="#cdcdcd" stroke-width="0.55"/>
<line x1="327.5" y1="77.0" x2="328.7" y2="77.0" stroke="#cdcdcd" stroke-width="0.4"/>
<line x1="331.7" y1="85.4" x2="331.7" y2="79.4" stroke="#cdcdcd" stroke-width="0.55"/>
<line x1="331.1" y1="79.4" x2="332.3" y2="79.4" stroke="#cdcdcd" stroke-width="0.4"/>
<line x1="256.5" y1="101.5" x2="256.5" y2="100.5" stroke="#cdcdcd" stroke-width="0.55"/>
<line x1="255.9" y1="100.5" x2="257.1" y2="100.5" stroke="#cdcdcd" stroke-width="0.4"/>
<line x1="260.3" y1="100.0" x2="260.3" y2="98.0" stroke="#cdcdcd" stroke-width="0.55"/>
<line x1="259.7" y1="98.0" x2="260.9" y2="98.0" stroke="#cdcdcd" stroke-width="0.4"/>
<line x1="264.1" y1="98.2" x2="264.1" y2="95.2" stroke="#cdcdcd" stroke-width="0.55"/>
<line x1="263.5" y1="95.2" x2="264.7" y2="95.2" stroke="#cdcdcd" stroke-width="0.4"/>
<line x1="268.1" y1="96.4" x2="268.1" y2="92.4" stroke="#cdcdcd" stroke-width="0.55"/>
<line x1="267.5" y1="92.4" x2="268.7" y2="92.4" stroke="#cdcdcd" stroke-width="0.4"/>
<line x1="272.1" y1="94.6" x2="272.1" y2="89.6" stroke="#cdcdcd" stroke-width="0.55"/>
<line x1="271.5" y1="89.6" x2="272.7" y2="89.6" stroke="#cdcdcd" stroke-width="0.4"/>
<line x1="276.0" y1="92.9" x2="276.0" y2="86.9" stroke="#cdcdcd" stroke-width="0.55"/>
<line x1="275.4" y1="86.9" x2="276.6" y2="86.9" stroke="#cdcdcd" stroke-width="0.4"/>
<line x1="280.1" y1="91.7" x2="280.1" y2="85.7" stroke="#cdcdcd" stroke-width="0.55"/>
<line x1="279.5" y1="85.7" x2="280.7" y2="85.7" stroke="#cdcdcd" stroke-width="0.4"/>
<line x1="284.0" y1="89.7" x2="284.0" y2="82.7" stroke="#cdcdcd" stroke-width="0.55"/>
<line x1="283.4" y1="82.7" x2="284.6" y2="82.7" stroke="#cdcdcd" stroke-width="0.4"/>
<line x1="287.7" y1="89.3" x2="287.7" y2="82.3" stroke="#cdcdcd" stroke-width="0.55"/>
<line x1="287.1" y1="82.3" x2="288.3" y2="82.3" stroke="#cdcdcd" stroke-width="0.4"/>
<line x1="291.3" y1="91.1" x2="291.3" y2="84.1" stroke="#cdcdcd" stroke-width="0.55"/>
<line x1="290.7" y1="84.1" x2="291.9" y2="84.1" stroke="#cdcdcd" stroke-width="0.4"/>
<line x1="294.9" y1="91.8" x2="294.9" y2="84.8" stroke="#cdcdcd" stroke-width="0.55"/>
<line x1="294.3" y1="84.8" x2="295.5" y2="84.8" stroke="#cdcdcd" stroke-width="0.4"/>
<line x1="298.6" y1="92.8" x2="298.6" y2="85.8" stroke="#cdcdcd" stroke-width="0.55"/>
<line x1="298.0" y1="85.8" x2="299.2" y2="85.8" stroke="#cdcdcd" stroke-width="0.4"/>
<line x1="302.3" y1="93.4" x2="302.3" y2="87.4" stroke="#cdcdcd" stroke-width="0.55"/>
<line x1="301.7" y1="87.4" x2="302.9" y2="87.4" stroke="#cdcdcd" stroke-width="0.4"/>
<line x1="306.2" y1="93.7" x2="306.2" y2="87.7" stroke="#cdcdcd" stroke-width="0.55"/>
<line x1="305.6" y1="87.7" x2="306.8" y2="87.7" stroke="#cdcdcd" stroke-width="0.4"/>
<line x1="310.0" y1="93.7" x2="310.0" y2="87.7" stroke="#cdcdcd" stroke-width="0.55"/>
<line x1="309.4" y1="87.7" x2="310.6" y2="87.7" stroke="#cdcdcd" stroke-width="0.4"/>
<line x1="313.8" y1="94.0" x2="313.8" y2="88.0" stroke="#cdcdcd" stroke-width="0.55"/>
<line x1="313.2" y1="88.0" x2="314.4" y2="88.0" stroke="#cdcdcd" stroke-width="0.4"/>
<line x1="317.3" y1="95.2" x2="317.3" y2="89.2" stroke="#cdcdcd" stroke-width="0.55"/>
<line x1="316.7" y1="89.2" x2="317.9" y2="89.2" stroke="#cdcdcd" stroke-width="0.4"/>
<line x1="321.0" y1="95.5" x2="321.0" y2="89.5" stroke="#cdcdcd" stroke-width="0.55"/>
<line x1="320.4" y1="89.5" x2="321.6" y2="89.5" stroke="#cdcdcd" stroke-width="0.4"/>
<line x1="324.6" y1="97.0" x2="324.6" y2="92.0" stroke="#cdcdcd" stroke-width="0.55"/>
<line x1="324.0" y1="92.0" x2="325.2" y2="92.0" stroke="#cdcdcd" stroke-width="0.4"/>
<line x1="328.1" y1="97.0" x2="328.1" y2="92.0" stroke="#cdcdcd" stroke-width="0.55"/>
<line x1="327.5" y1="92.0" x2="328.7" y2="92.0" stroke="#cdcdcd" stroke-width="0.4"/>
<line x1="331.7" y1="96.7" x2="331.7" y2="91.7" stroke="#cdcdcd" stroke-width="0.55"/>
<line x1="331.1" y1="91.7" x2="332.3" y2="91.7" stroke="#cdcdcd" stroke-width="0.4"/>
<polyline points="252.7,102.9 256.5,102.0 260.3,101.5 264.1,101.5 268.1,100.8 272.1,99.4 276.0,98.2 280.1,97.4 284.0,95.8 287.7,95.8 291.3,95.2 294.9,93.7 298.6,94.4 302.3,95.5 306.2,96.0 310.0,95.8 313.8,96.0 317.3,97.0 321.0,96.7 324.6,99.6 328.1,98.7 331.7,99.9 334.6,101.7" fill="none" stroke="#c0123a" stroke-width="0.85" stroke-linejoin="round"/>
<circle cx="252.7" cy="102.9" r="1.05" fill="#c0123a"/>
<circle cx="256.5" cy="102.0" r="1.05" fill="#c0123a"/>
<circle cx="260.3" cy="101.5" r="1.05" fill="#c0123a"/>
<circle cx="264.1" cy="101.5" r="1.05" fill="#c0123a"/>
<circle cx="268.1" cy="100.8" r="1.05" fill="#c0123a"/>
<circle cx="272.1" cy="99.4" r="1.05" fill="#c0123a"/>
<circle cx="276.0" cy="98.2" r="1.05" fill="#c0123a"/>
<circle cx="280.1" cy="97.4" r="1.05" fill="#c0123a"/>
<circle cx="284.0" cy="95.8" r="1.05" fill="#c0123a"/>
<circle cx="287.7" cy="95.8" r="1.05" fill="#c0123a"/>
<circle cx="291.3" cy="95.2" r="1.05" fill="#c0123a"/>
<circle cx="294.9" cy="93.7" r="1.05" fill="#c0123a"/>
<circle cx="298.6" cy="94.4" r="1.05" fill="#c0123a"/>
<circle cx="302.3" cy="95.5" r="1.05" fill="#c0123a"/>
<circle cx="306.2" cy="96.0" r="1.05" fill="#c0123a"/>
<circle cx="310.0" cy="95.8" r="1.05" fill="#c0123a"/>
<circle cx="313.8" cy="96.0" r="1.05" fill="#c0123a"/>
<circle cx="317.3" cy="97.0" r="1.05" fill="#c0123a"/>
<circle cx="321.0" cy="96.7" r="1.05" fill="#c0123a"/>
<circle cx="324.6" cy="99.6" r="1.05" fill="#c0123a"/>
<circle cx="328.1" cy="98.7" r="1.05" fill="#c0123a"/>
<circle cx="331.7" cy="99.9" r="1.05" fill="#c0123a"/>
<circle cx="334.6" cy="101.7" r="1.05" fill="#c0123a"/>
<polyline points="252.7,102.9 256.5,101.5 260.3,100.0 264.1,98.2 268.1,96.4 272.1,94.6 276.0,92.9 280.1,91.7 284.0,89.7 287.7,89.3 291.3,91.1 294.9,91.8 298.6,92.8 302.3,93.4 306.2,93.7 310.0,93.7 313.8,94.0 317.3,95.2 321.0,95.5 324.6,97.0 328.1,97.0 331.7,96.7 334.6,97.2" fill="none" stroke="#5cae3c" stroke-width="0.85" stroke-linejoin="round"/>
<circle cx="252.7" cy="102.9" r="1.05" fill="#5cae3c"/>
<circle cx="256.5" cy="101.5" r="1.05" fill="#5cae3c"/>
<circle cx="260.3" cy="100.0" r="1.05" fill="#5cae3c"/>
<circle cx="264.1" cy="98.2" r="1.05" fill="#5cae3c"/>
<circle cx="268.1" cy="96.4" r="1.05" fill="#5cae3c"/>
<circle cx="272.1" cy="94.6" r="1.05" fill="#5cae3c"/>
<circle cx="276.0" cy="92.9" r="1.05" fill="#5cae3c"/>
<circle cx="280.1" cy="91.7" r="1.05" fill="#5cae3c"/>
<circle cx="284.0" cy="89.7" r="1.05" fill="#5cae3c"/>
<circle cx="287.7" cy="89.3" r="1.05" fill="#5cae3c"/>
<circle cx="291.3" cy="91.1" r="1.05" fill="#5cae3c"/>
<circle cx="294.9" cy="91.8" r="1.05" fill="#5cae3c"/>
<circle cx="298.6" cy="92.8" r="1.05" fill="#5cae3c"/>
<circle cx="302.3" cy="93.4" r="1.05" fill="#5cae3c"/>
<circle cx="306.2" cy="93.7" r="1.05" fill="#5cae3c"/>
<circle cx="310.0" cy="93.7" r="1.05" fill="#5cae3c"/>
<circle cx="313.8" cy="94.0" r="1.05" fill="#5cae3c"/>
<circle cx="317.3" cy="95.2" r="1.05" fill="#5cae3c"/>
<circle cx="321.0" cy="95.5" r="1.05" fill="#5cae3c"/>
<circle cx="324.6" cy="97.0" r="1.05" fill="#5cae3c"/>
<circle cx="328.1" cy="97.0" r="1.05" fill="#5cae3c"/>
<circle cx="331.7" cy="96.7" r="1.05" fill="#5cae3c"/>
<circle cx="334.6" cy="97.2" r="1.05" fill="#5cae3c"/>
<polyline points="252.7,102.9 256.5,100.6 260.3,97.6 264.1,94.6 268.1,91.5 272.1,87.6 276.0,85.5 280.1,84.6 284.0,83.7 287.7,83.4 291.3,82.6 294.9,82.1 298.6,83.2 302.3,83.4 306.2,83.4 310.0,82.8 313.8,82.6 317.3,83.7 321.0,83.7 324.6,83.4 328.1,84.0 331.7,85.4 334.6,85.7" fill="none" stroke="#26468c" stroke-width="0.85" stroke-linejoin="round"/>
<circle cx="252.7" cy="102.9" r="1.05" fill="#26468c"/>
<circle cx="256.5" cy="100.6" r="1.05" fill="#26468c"/>
<circle cx="260.3" cy="97.6" r="1.05" fill="#26468c"/>
<circle cx="264.1" cy="94.6" r="1.05" fill="#26468c"/>
<circle cx="268.1" cy="91.5" r="1.05" fill="#26468c"/>
<circle cx="272.1" cy="87.6" r="1.05" fill="#26468c"/>
<circle cx="276.0" cy="85.5" r="1.05" fill="#26468c"/>
<circle cx="280.1" cy="84.6" r="1.05" fill="#26468c"/>
<circle cx="284.0" cy="83.7" r="1.05" fill="#26468c"/>
<circle cx="287.7" cy="83.4" r="1.05" fill="#26468c"/>
<circle cx="291.3" cy="82.6" r="1.05" fill="#26468c"/>
<circle cx="294.9" cy="82.1" r="1.05" fill="#26468c"/>
<circle cx="298.6" cy="83.2" r="1.05" fill="#26468c"/>
<circle cx="302.3" cy="83.4" r="1.05" fill="#26468c"/>
<circle cx="306.2" cy="83.4" r="1.05" fill="#26468c"/>
<circle cx="310.0" cy="82.8" r="1.05" fill="#26468c"/>
<circle cx="313.8" cy="82.6" r="1.05" fill="#26468c"/>
<circle cx="317.3" cy="83.7" r="1.05" fill="#26468c"/>
<circle cx="321.0" cy="83.7" r="1.05" fill="#26468c"/>
<circle cx="324.6" cy="83.4" r="1.05" fill="#26468c"/>
<circle cx="328.1" cy="84.0" r="1.05" fill="#26468c"/>
<circle cx="331.7" cy="85.4" r="1.05" fill="#26468c"/>
<circle cx="334.6" cy="85.7" r="1.05" fill="#26468c"/>
<polyline points="252.7,102.9 256.5,101.4 260.3,99.4 264.1,92.6 268.1,88.5 272.1,79.2 276.0,70.4 280.1,65.1 284.0,59.0 287.7,57.8 291.3,59.2 294.9,62.3 298.6,66.2 302.3,68.4 306.2,70.0 310.0,73.1 313.8,75.5 317.3,76.7 321.0,77.1 324.6,80.4 328.1,79.8 331.7,79.5 334.6,81.4" fill="none" stroke="#48196e" stroke-width="0.85" stroke-linejoin="round"/>
<circle cx="252.7" cy="102.9" r="1.05" fill="#48196e"/>
<circle cx="256.5" cy="101.4" r="1.05" fill="#48196e"/>
<circle cx="260.3" cy="99.4" r="1.05" fill="#48196e"/>
<circle cx="264.1" cy="92.6" r="1.05" fill="#48196e"/>
<circle cx="268.1" cy="88.5" r="1.05" fill="#48196e"/>
<circle cx="272.1" cy="79.2" r="1.05" fill="#48196e"/>
<circle cx="276.0" cy="70.4" r="1.05" fill="#48196e"/>
<circle cx="280.1" cy="65.1" r="1.05" fill="#48196e"/>
<circle cx="284.0" cy="59.0" r="1.05" fill="#48196e"/>
<circle cx="287.7" cy="57.8" r="1.05" fill="#48196e"/>
<circle cx="291.3" cy="59.2" r="1.05" fill="#48196e"/>
<circle cx="294.9" cy="62.3" r="1.05" fill="#48196e"/>
<circle cx="298.6" cy="66.2" r="1.05" fill="#48196e"/>
<circle cx="302.3" cy="68.4" r="1.05" fill="#48196e"/>
<circle cx="306.2" cy="70.0" r="1.05" fill="#48196e"/>
<circle cx="310.0" cy="73.1" r="1.05" fill="#48196e"/>
<circle cx="313.8" cy="75.5" r="1.05" fill="#48196e"/>
<circle cx="317.3" cy="76.7" r="1.05" fill="#48196e"/>
<circle cx="321.0" cy="77.1" r="1.05" fill="#48196e"/>
<circle cx="324.6" cy="80.4" r="1.05" fill="#48196e"/>
<circle cx="328.1" cy="79.8" r="1.05" fill="#48196e"/>
<circle cx="331.7" cy="79.5" r="1.05" fill="#48196e"/>
<circle cx="334.6" cy="81.4" r="1.05" fill="#48196e"/>
<line x1="252.5" y1="38.6" x2="252.5" y2="103.9" stroke="#111" stroke-width="1.1"/>
<line x1="249.1" y1="41.3" x2="252.5" y2="41.3" stroke="#111" stroke-width="0.8"/>
<text x="246.1" y="43.9" font-size="6.6" text-anchor="end" fill="#1a1a1a" font-weight="normal" stroke="#1a1a1a" stroke-width="0.260" textLength="15.4" lengthAdjust="spacingAndGlyphs">8000</text>
<line x1="249.1" y1="56.8" x2="252.5" y2="56.8" stroke="#111" stroke-width="0.8"/>
<text x="246.1" y="59.4" font-size="6.6" text-anchor="end" fill="#1a1a1a" font-weight="normal" stroke="#1a1a1a" stroke-width="0.260" textLength="15.4" lengthAdjust="spacingAndGlyphs">6000</text>
<line x1="249.1" y1="72.3" x2="252.5" y2="72.3" stroke="#111" stroke-width="0.8"/>
<text x="246.1" y="74.89999999999999" font-size="6.6" text-anchor="end" fill="#1a1a1a" font-weight="normal" stroke="#1a1a1a" stroke-width="0.260" textLength="15.4" lengthAdjust="spacingAndGlyphs">4000</text>
<line x1="249.1" y1="87.7" x2="252.5" y2="87.7" stroke="#111" stroke-width="0.8"/>
<text x="246.1" y="90.3" font-size="6.6" text-anchor="end" fill="#1a1a1a" font-weight="normal" stroke="#1a1a1a" stroke-width="0.260" textLength="15.4" lengthAdjust="spacingAndGlyphs">2000</text>
<line x1="249.1" y1="102.9" x2="252.5" y2="102.9" stroke="#111" stroke-width="0.8"/>
<text x="246.1" y="105.5" font-size="6.6" text-anchor="end" fill="#1a1a1a" font-weight="normal" stroke="#1a1a1a" stroke-width="0.260" textLength="3.85" lengthAdjust="spacingAndGlyphs">0</text>
<line x1="252.0" y1="103.8" x2="337.2" y2="103.8" stroke="#111" stroke-width="1.1"/>
<line x1="252.5" y1="103.8" x2="252.5" y2="106.8" stroke="#111" stroke-width="0.9"/>
<text x="252.5" y="115.6" font-size="6.6" text-anchor="middle" fill="#1a1a1a" font-weight="normal" stroke="#1a1a1a" stroke-width="0.260" textLength="3.7" lengthAdjust="spacingAndGlyphs">0</text>
<line x1="266.2" y1="103.8" x2="266.2" y2="106.8" stroke="#111" stroke-width="0.9"/>
<text x="266.2" y="115.6" font-size="6.6" text-anchor="middle" fill="#1a1a1a" font-weight="normal" stroke="#1a1a1a" stroke-width="0.260" textLength="7.4" lengthAdjust="spacingAndGlyphs">30</text>
<line x1="279.9" y1="103.8" x2="279.9" y2="106.8" stroke="#111" stroke-width="0.9"/>
<text x="279.9" y="115.6" font-size="6.6" text-anchor="middle" fill="#1a1a1a" font-weight="normal" stroke="#1a1a1a" stroke-width="0.260" textLength="7.4" lengthAdjust="spacingAndGlyphs">60</text>
<line x1="293.7" y1="103.8" x2="293.7" y2="106.8" stroke="#111" stroke-width="0.9"/>
<text x="293.7" y="115.6" font-size="6.6" text-anchor="middle" fill="#1a1a1a" font-weight="normal" stroke="#1a1a1a" stroke-width="0.260" textLength="7.4" lengthAdjust="spacingAndGlyphs">90</text>
<line x1="307.4" y1="103.8" x2="307.4" y2="106.8" stroke="#111" stroke-width="0.9"/>
<text x="307.4" y="115.6" font-size="6.6" text-anchor="middle" fill="#1a1a1a" font-weight="normal" stroke="#1a1a1a" stroke-width="0.260" textLength="11.1" lengthAdjust="spacingAndGlyphs">120</text>
<line x1="321.1" y1="103.8" x2="321.1" y2="106.8" stroke="#111" stroke-width="0.9"/>
<text x="321.1" y="115.6" font-size="6.6" text-anchor="middle" fill="#1a1a1a" font-weight="normal" stroke="#1a1a1a" stroke-width="0.260" textLength="11.1" lengthAdjust="spacingAndGlyphs">150</text>
<line x1="334.8" y1="103.8" x2="334.8" y2="106.8" stroke="#111" stroke-width="0.9"/>
<text x="334.8" y="115.6" font-size="6.6" text-anchor="middle" fill="#1a1a1a" font-weight="normal" stroke="#1a1a1a" stroke-width="0.260" textLength="11.1" lengthAdjust="spacingAndGlyphs">180</text>
<text x="295.4" y="127.3" font-size="8.6" text-anchor="middle" fill="#1a1a1a" font-weight="normal" stroke="#1a1a1a" stroke-width="0.339" textLength="27.9" lengthAdjust="spacingAndGlyphs">Time (sec)</text>
<text x="225.6" y="70.8" font-size="8.6" text-anchor="middle" fill="#1a1a1a" font-weight="normal" stroke="#1a1a1a" stroke-width="0.339" textLength="33.2" lengthAdjust="spacingAndGlyphs" transform="rotate(-90 225.6 70.8)">Platelet MFI</text>
<path d="M337.2,81.4 H339.8 V101.6 H337.2 M337.2,86.1 H339.8 M337.2,97.2 H339.8" fill="none" stroke="#111" stroke-width="1"/>
<circle cx="342.40" cy="90.8" r="0.78" fill="#222"/>
<circle cx="344.47" cy="90.8" r="0.78" fill="#222"/>
<circle cx="346.54" cy="90.8" r="0.78" fill="#222"/>
<circle cx="348.61" cy="90.8" r="0.78" fill="#222"/>
<text x="295.3" y="153.7" font-size="8.7" text-anchor="middle" fill="#b5143e" font-weight="normal" stroke="#b5143e" stroke-width="0.343" textLength="20.2" lengthAdjust="spacingAndGlyphs">Fibrin</text>
<line x1="256.5" y1="219.0" x2="256.5" y2="194.9" stroke="#cdcdcd" stroke-width="0.55"/>
<line x1="255.9" y1="194.9" x2="257.1" y2="194.9" stroke="#cdcdcd" stroke-width="0.4"/>
<line x1="260.3" y1="218.2" x2="260.3" y2="195.6" stroke="#cdcdcd" stroke-width="0.55"/>
<line x1="259.7" y1="195.6" x2="260.9" y2="195.6" stroke="#cdcdcd" stroke-width="0.4"/>
<line x1="264.1" y1="216.3" x2="264.1" y2="192.7" stroke="#cdcdcd" stroke-width="0.55"/>
<line x1="263.5" y1="192.7" x2="264.7" y2="192.7" stroke="#cdcdcd" stroke-width="0.4"/>
<line x1="268.1" y1="213.8" x2="268.1" y2="190.2" stroke="#cdcdcd" stroke-width="0.55"/>
<line x1="267.5" y1="190.2" x2="268.7" y2="190.2" stroke="#cdcdcd" stroke-width="0.4"/>
<line x1="272.1" y1="214.1" x2="272.1" y2="189.3" stroke="#cdcdcd" stroke-width="0.55"/>
<line x1="271.5" y1="189.3" x2="272.7" y2="189.3" stroke="#cdcdcd" stroke-width="0.4"/>
<line x1="276.0" y1="208.2" x2="276.0" y2="185.3" stroke="#cdcdcd" stroke-width="0.55"/>
<line x1="275.4" y1="185.3" x2="276.6" y2="185.3" stroke="#cdcdcd" stroke-width="0.4"/>
<line x1="280.1" y1="203.8" x2="280.1" y2="179.4" stroke="#cdcdcd" stroke-width="0.55"/>
<line x1="279.5" y1="179.4" x2="280.7" y2="179.4" stroke="#cdcdcd" stroke-width="0.4"/>
<line x1="284.0" y1="198.6" x2="284.0" y2="181.3" stroke="#cdcdcd" stroke-width="0.55"/>
<line x1="283.4" y1="181.3" x2="284.6" y2="181.3" stroke="#cdcdcd" stroke-width="0.4"/>
<line x1="287.7" y1="193.1" x2="287.7" y2="177.2" stroke="#cdcdcd" stroke-width="0.55"/>
<line x1="287.1" y1="177.2" x2="288.3" y2="177.2" stroke="#cdcdcd" stroke-width="0.4"/>
<line x1="291.3" y1="192.7" x2="291.3" y2="169.0" stroke="#cdcdcd" stroke-width="0.55"/>
<line x1="290.7" y1="169.0" x2="291.9" y2="169.0" stroke="#cdcdcd" stroke-width="0.4"/>
<line x1="294.9" y1="188.2" x2="294.9" y2="172.7" stroke="#cdcdcd" stroke-width="0.55"/>
<line x1="294.3" y1="172.7" x2="295.5" y2="172.7" stroke="#cdcdcd" stroke-width="0.4"/>
<line x1="298.6" y1="187.5" x2="298.6" y2="172.4" stroke="#cdcdcd" stroke-width="0.55"/>
<line x1="298.0" y1="172.4" x2="299.2" y2="172.4" stroke="#cdcdcd" stroke-width="0.4"/>
<line x1="302.3" y1="185.5" x2="302.3" y2="172.0" stroke="#cdcdcd" stroke-width="0.55"/>
<line x1="301.7" y1="172.0" x2="302.9" y2="172.0" stroke="#cdcdcd" stroke-width="0.4"/>
<line x1="306.2" y1="183.8" x2="306.2" y2="173.5" stroke="#cdcdcd" stroke-width="0.55"/>
<line x1="305.6" y1="173.5" x2="306.8" y2="173.5" stroke="#cdcdcd" stroke-width="0.4"/>
<line x1="310.0" y1="182.8" x2="310.0" y2="171.3" stroke="#cdcdcd" stroke-width="0.55"/>
<line x1="309.4" y1="171.3" x2="310.6" y2="171.3" stroke="#cdcdcd" stroke-width="0.4"/>
<line x1="313.8" y1="178.6" x2="313.8" y2="164.6" stroke="#cdcdcd" stroke-width="0.55"/>
<line x1="313.2" y1="164.6" x2="314.4" y2="164.6" stroke="#cdcdcd" stroke-width="0.4"/>
<line x1="317.3" y1="177.9" x2="317.3" y2="164.6" stroke="#cdcdcd" stroke-width="0.55"/>
<line x1="316.7" y1="164.6" x2="317.9" y2="164.6" stroke="#cdcdcd" stroke-width="0.4"/>
<line x1="321.0" y1="179.4" x2="321.0" y2="163.1" stroke="#cdcdcd" stroke-width="0.55"/>
<line x1="320.4" y1="163.1" x2="321.6" y2="163.1" stroke="#cdcdcd" stroke-width="0.4"/>
<line x1="324.6" y1="180.9" x2="324.6" y2="163.9" stroke="#cdcdcd" stroke-width="0.55"/>
<line x1="324.0" y1="163.9" x2="325.2" y2="163.9" stroke="#cdcdcd" stroke-width="0.4"/>
<line x1="328.1" y1="181.3" x2="328.1" y2="165.3" stroke="#cdcdcd" stroke-width="0.55"/>
<line x1="327.5" y1="165.3" x2="328.7" y2="165.3" stroke="#cdcdcd" stroke-width="0.4"/>
<line x1="331.7" y1="182.3" x2="331.7" y2="166.1" stroke="#cdcdcd" stroke-width="0.55"/>
<line x1="331.1" y1="166.1" x2="332.3" y2="166.1" stroke="#cdcdcd" stroke-width="0.4"/>
<line x1="334.6" y1="183.1" x2="334.6" y2="165.3" stroke="#cdcdcd" stroke-width="0.55"/>
<line x1="334.0" y1="165.3" x2="335.2" y2="165.3" stroke="#cdcdcd" stroke-width="0.4"/>
<line x1="256.5" y1="220.8" x2="256.5" y2="217.8" stroke="#cdcdcd" stroke-width="0.55"/>
<line x1="255.9" y1="217.8" x2="257.1" y2="217.8" stroke="#cdcdcd" stroke-width="0.4"/>
<line x1="260.3" y1="219.3" x2="260.3" y2="216.3" stroke="#cdcdcd" stroke-width="0.55"/>
<line x1="259.7" y1="216.3" x2="260.9" y2="216.3" stroke="#cdcdcd" stroke-width="0.4"/>
<line x1="264.1" y1="219.3" x2="264.1" y2="216.3" stroke="#cdcdcd" stroke-width="0.55"/>
<line x1="263.5" y1="216.3" x2="264.7" y2="216.3" stroke="#cdcdcd" stroke-width="0.4"/>
<line x1="268.1" y1="219.7" x2="268.1" y2="216.7" stroke="#cdcdcd" stroke-width="0.55"/>
<line x1="267.5" y1="216.7" x2="268.7" y2="216.7" stroke="#cdcdcd" stroke-width="0.4"/>
<line x1="272.1" y1="218.5" x2="272.1" y2="215.5" stroke="#cdcdcd" stroke-width="0.55"/>
<line x1="271.5" y1="215.5" x2="272.7" y2="215.5" stroke="#cdcdcd" stroke-width="0.4"/>
<line x1="276.0" y1="218.8" x2="276.0" y2="215.8" stroke="#cdcdcd" stroke-width="0.55"/>
<line x1="275.4" y1="215.8" x2="276.6" y2="215.8" stroke="#cdcdcd" stroke-width="0.4"/>
<line x1="280.1" y1="217.8" x2="280.1" y2="214.8" stroke="#cdcdcd" stroke-width="0.55"/>
<line x1="279.5" y1="214.8" x2="280.7" y2="214.8" stroke="#cdcdcd" stroke-width="0.4"/>
<line x1="284.0" y1="217.8" x2="284.0" y2="214.8" stroke="#cdcdcd" stroke-width="0.55"/>
<line x1="283.4" y1="214.8" x2="284.6" y2="214.8" stroke="#cdcdcd" stroke-width="0.4"/>
<line x1="287.7" y1="217.1" x2="287.7" y2="214.1" stroke="#cdcdcd" stroke-width="0.55"/>
<line x1="287.1" y1="214.1" x2="288.3" y2="214.1" stroke="#cdcdcd" stroke-width="0.4"/>
<line x1="291.3" y1="216.8" x2="291.3" y2="213.8" stroke="#cdcdcd" stroke-width="0.55"/>
<line x1="290.7" y1="213.8" x2="291.9" y2="213.8" stroke="#cdcdcd" stroke-width="0.4"/>
<line x1="294.9" y1="216.1" x2="294.9" y2="213.1" stroke="#cdcdcd" stroke-width="0.55"/>
<line x1="294.3" y1="213.1" x2="295.5" y2="213.1" stroke="#cdcdcd" stroke-width="0.4"/>
<line x1="298.6" y1="215.7" x2="298.6" y2="212.7" stroke="#cdcdcd" stroke-width="0.55"/>
<line x1="298.0" y1="212.7" x2="299.2" y2="212.7" stroke="#cdcdcd" stroke-width="0.4"/>
<line x1="302.3" y1="215.6" x2="302.3" y2="212.6" stroke="#cdcdcd" stroke-width="0.55"/>
<line x1="301.7" y1="212.6" x2="302.9" y2="212.6" stroke="#cdcdcd" stroke-width="0.4"/>
<line x1="306.2" y1="215.6" x2="306.2" y2="212.6" stroke="#cdcdcd" stroke-width="0.55"/>
<line x1="305.6" y1="212.6" x2="306.8" y2="212.6" stroke="#cdcdcd" stroke-width="0.4"/>
<line x1="310.0" y1="215.3" x2="310.0" y2="212.3" stroke="#cdcdcd" stroke-width="0.55"/>
<line x1="309.4" y1="212.3" x2="310.6" y2="212.3" stroke="#cdcdcd" stroke-width="0.4"/>
<line x1="313.8" y1="215.3" x2="313.8" y2="212.3" stroke="#cdcdcd" stroke-width="0.55"/>
<line x1="313.2" y1="212.3" x2="314.4" y2="212.3" stroke="#cdcdcd" stroke-width="0.4"/>
<line x1="317.3" y1="215.3" x2="317.3" y2="212.3" stroke="#cdcdcd" stroke-width="0.55"/>
<line x1="316.7" y1="212.3" x2="317.9" y2="212.3" stroke="#cdcdcd" stroke-width="0.4"/>
<line x1="321.0" y1="214.8" x2="321.0" y2="211.8" stroke="#cdcdcd" stroke-width="0.55"/>
<line x1="320.4" y1="211.8" x2="321.6" y2="211.8" stroke="#cdcdcd" stroke-width="0.4"/>
<line x1="324.6" y1="214.6" x2="324.6" y2="211.6" stroke="#cdcdcd" stroke-width="0.55"/>
<line x1="324.0" y1="211.6" x2="325.2" y2="211.6" stroke="#cdcdcd" stroke-width="0.4"/>
<line x1="328.1" y1="214.8" x2="328.1" y2="211.8" stroke="#cdcdcd" stroke-width="0.55"/>
<line x1="327.5" y1="211.8" x2="328.7" y2="211.8" stroke="#cdcdcd" stroke-width="0.4"/>
<line x1="331.7" y1="214.6" x2="331.7" y2="211.6" stroke="#cdcdcd" stroke-width="0.55"/>
<line x1="331.1" y1="211.6" x2="332.3" y2="211.6" stroke="#cdcdcd" stroke-width="0.4"/>
<polyline points="252.7,220.0 256.5,220.8 260.3,219.3 264.1,219.3 268.1,219.7 272.1,218.5 276.0,218.8 280.1,217.8 284.0,217.8 287.7,217.1 291.3,216.8 294.9,216.1 298.6,215.7 302.3,215.6 306.2,215.6 310.0,215.3 313.8,215.3 317.3,215.3 321.0,214.8 324.6,214.6 328.1,214.8 331.7,214.6 334.6,214.6" fill="none" stroke="#5cae3c" stroke-width="0.85" stroke-linejoin="round"/>
<circle cx="252.7" cy="220.0" r="1.05" fill="#5cae3c"/>
<circle cx="256.5" cy="220.8" r="1.05" fill="#5cae3c"/>
<circle cx="260.3" cy="219.3" r="1.05" fill="#5cae3c"/>
<circle cx="264.1" cy="219.3" r="1.05" fill="#5cae3c"/>
<circle cx="268.1" cy="219.7" r="1.05" fill="#5cae3c"/>
<circle cx="272.1" cy="218.5" r="1.05" fill="#5cae3c"/>
<circle cx="276.0" cy="218.8" r="1.05" fill="#5cae3c"/>
<circle cx="280.1" cy="217.8" r="1.05" fill="#5cae3c"/>
<circle cx="284.0" cy="217.8" r="1.05" fill="#5cae3c"/>
<circle cx="287.7" cy="217.1" r="1.05" fill="#5cae3c"/>
<circle cx="291.3" cy="216.8" r="1.05" fill="#5cae3c"/>
<circle cx="294.9" cy="216.1" r="1.05" fill="#5cae3c"/>
<circle cx="298.6" cy="215.7" r="1.05" fill="#5cae3c"/>
<circle cx="302.3" cy="215.6" r="1.05" fill="#5cae3c"/>
<circle cx="306.2" cy="215.6" r="1.05" fill="#5cae3c"/>
<circle cx="310.0" cy="215.3" r="1.05" fill="#5cae3c"/>
<circle cx="313.8" cy="215.3" r="1.05" fill="#5cae3c"/>
<circle cx="317.3" cy="215.3" r="1.05" fill="#5cae3c"/>
<circle cx="321.0" cy="214.8" r="1.05" fill="#5cae3c"/>
<circle cx="324.6" cy="214.6" r="1.05" fill="#5cae3c"/>
<circle cx="328.1" cy="214.8" r="1.05" fill="#5cae3c"/>
<circle cx="331.7" cy="214.6" r="1.05" fill="#5cae3c"/>
<circle cx="334.6" cy="214.6" r="1.05" fill="#5cae3c"/>
<polyline points="252.7,219.5 256.5,219.0 260.3,219.3 264.1,216.3 268.1,213.8 272.1,214.1 276.0,210.0 280.1,206.4 284.0,207.9 287.7,203.8 291.3,199.0 294.9,200.8 298.6,200.9 302.3,200.6 306.2,200.1 310.0,199.3 313.8,195.2 317.3,198.6 321.0,196.7 324.6,194.9 328.1,196.4 331.7,196.1 334.6,195.6" fill="none" stroke="#c0123a" stroke-width="0.85" stroke-linejoin="round"/>
<circle cx="252.7" cy="219.5" r="1.05" fill="#c0123a"/>
<circle cx="256.5" cy="219.0" r="1.05" fill="#c0123a"/>
<circle cx="260.3" cy="219.3" r="1.05" fill="#c0123a"/>
<circle cx="264.1" cy="216.3" r="1.05" fill="#c0123a"/>
<circle cx="268.1" cy="213.8" r="1.05" fill="#c0123a"/>
<circle cx="272.1" cy="214.1" r="1.05" fill="#c0123a"/>
<circle cx="276.0" cy="210.0" r="1.05" fill="#c0123a"/>
<circle cx="280.1" cy="206.4" r="1.05" fill="#c0123a"/>
<circle cx="284.0" cy="207.9" r="1.05" fill="#c0123a"/>
<circle cx="287.7" cy="203.8" r="1.05" fill="#c0123a"/>
<circle cx="291.3" cy="199.0" r="1.05" fill="#c0123a"/>
<circle cx="294.9" cy="200.8" r="1.05" fill="#c0123a"/>
<circle cx="298.6" cy="200.9" r="1.05" fill="#c0123a"/>
<circle cx="302.3" cy="200.6" r="1.05" fill="#c0123a"/>
<circle cx="306.2" cy="200.1" r="1.05" fill="#c0123a"/>
<circle cx="310.0" cy="199.3" r="1.05" fill="#c0123a"/>
<circle cx="313.8" cy="195.2" r="1.05" fill="#c0123a"/>
<circle cx="317.3" cy="198.6" r="1.05" fill="#c0123a"/>
<circle cx="321.0" cy="196.7" r="1.05" fill="#c0123a"/>
<circle cx="324.6" cy="194.9" r="1.05" fill="#c0123a"/>
<circle cx="328.1" cy="196.4" r="1.05" fill="#c0123a"/>
<circle cx="331.7" cy="196.1" r="1.05" fill="#c0123a"/>
<circle cx="334.6" cy="195.6" r="1.05" fill="#c0123a"/>
<polyline points="252.7,223.3 256.5,223.3 260.3,220.0 264.1,218.2 268.1,217.8 272.1,214.1 276.0,208.2 280.1,203.8 284.0,198.6 287.7,193.1 291.3,192.7 294.9,188.2 298.6,187.5 302.3,185.5 306.2,183.8 310.0,182.8 313.8,178.6 317.3,177.9 321.0,179.4 324.6,183.8 328.1,186.8 331.7,190.5 334.6,194.6" fill="none" stroke="#48196e" stroke-width="0.85" stroke-linejoin="round"/>
<circle cx="252.7" cy="223.3" r="1.05" fill="#48196e"/>
<circle cx="256.5" cy="223.3" r="1.05" fill="#48196e"/>
<circle cx="260.3" cy="220.0" r="1.05" fill="#48196e"/>
<circle cx="264.1" cy="218.2" r="1.05" fill="#48196e"/>
<circle cx="268.1" cy="217.8" r="1.05" fill="#48196e"/>
<circle cx="272.1" cy="214.1" r="1.05" fill="#48196e"/>
<circle cx="276.0" cy="208.2" r="1.05" fill="#48196e"/>
<circle cx="280.1" cy="203.8" r="1.05" fill="#48196e"/>
<circle cx="284.0" cy="198.6" r="1.05" fill="#48196e"/>
<circle cx="287.7" cy="193.1" r="1.05" fill="#48196e"/>
<circle cx="291.3" cy="192.7" r="1.05" fill="#48196e"/>
<circle cx="294.9" cy="188.2" r="1.05" fill="#48196e"/>
<circle cx="298.6" cy="187.5" r="1.05" fill="#48196e"/>
<circle cx="302.3" cy="185.5" r="1.05" fill="#48196e"/>
<circle cx="306.2" cy="183.8" r="1.05" fill="#48196e"/>
<circle cx="310.0" cy="182.8" r="1.05" fill="#48196e"/>
<circle cx="313.8" cy="178.6" r="1.05" fill="#48196e"/>
<circle cx="317.3" cy="177.9" r="1.05" fill="#48196e"/>
<circle cx="321.0" cy="179.4" r="1.05" fill="#48196e"/>
<circle cx="324.6" cy="183.8" r="1.05" fill="#48196e"/>
<circle cx="328.1" cy="186.8" r="1.05" fill="#48196e"/>
<circle cx="331.7" cy="190.5" r="1.05" fill="#48196e"/>
<circle cx="334.6" cy="194.6" r="1.05" fill="#48196e"/>
<polyline points="252.7,223.0 256.5,223.0 260.3,218.2 264.1,218.2 268.1,217.1 272.1,214.8 276.0,214.1 280.1,213.4 284.0,210.9 287.7,206.7 291.3,203.0 294.9,196.6 298.6,192.3 302.3,189.1 306.2,186.0 310.0,183.1 313.8,181.3 317.3,180.1 321.0,179.8 324.6,180.9 328.1,181.3 331.7,182.3 334.6,183.1" fill="none" stroke="#3d5fa6" stroke-width="1.0" stroke-linejoin="round"/>
<circle cx="252.7" cy="223.0" r="0.8" fill="#3d5fa6"/>
<circle cx="256.5" cy="223.0" r="0.8" fill="#3d5fa6"/>
<circle cx="260.3" cy="218.2" r="0.8" fill="#3d5fa6"/>
<circle cx="264.1" cy="218.2" r="0.8" fill="#3d5fa6"/>
<circle cx="268.1" cy="217.1" r="0.8" fill="#3d5fa6"/>
<circle cx="272.1" cy="214.8" r="0.8" fill="#3d5fa6"/>
<circle cx="276.0" cy="214.1" r="0.8" fill="#3d5fa6"/>
<circle cx="280.1" cy="213.4" r="0.8" fill="#3d5fa6"/>
<circle cx="284.0" cy="210.9" r="0.8" fill="#3d5fa6"/>
<circle cx="287.7" cy="206.7" r="0.8" fill="#3d5fa6"/>
<circle cx="291.3" cy="203.0" r="0.8" fill="#3d5fa6"/>
<circle cx="294.9" cy="196.6" r="0.8" fill="#3d5fa6"/>
<circle cx="298.6" cy="192.3" r="0.8" fill="#3d5fa6"/>
<circle cx="302.3" cy="189.1" r="0.8" fill="#3d5fa6"/>
<circle cx="306.2" cy="186.0" r="0.8" fill="#3d5fa6"/>
<circle cx="310.0" cy="183.1" r="0.8" fill="#3d5fa6"/>
<circle cx="313.8" cy="181.3" r="0.8" fill="#3d5fa6"/>
<circle cx="317.3" cy="180.1" r="0.8" fill="#3d5fa6"/>
<circle cx="321.0" cy="179.8" r="0.8" fill="#3d5fa6"/>
<circle cx="324.6" cy="180.9" r="0.8" fill="#3d5fa6"/>
<circle cx="328.1" cy="181.3" r="0.8" fill="#3d5fa6"/>
<circle cx="331.7" cy="182.3" r="0.8" fill="#3d5fa6"/>
<circle cx="334.6" cy="183.1" r="0.8" fill="#3d5fa6"/>
<line x1="252.5" y1="160.0" x2="252.5" y2="225.0" stroke="#111" stroke-width="1.1"/>
<line x1="249.1" y1="162.1" x2="252.5" y2="162.1" stroke="#111" stroke-width="0.8"/>
<text x="246.1" y="164.7" font-size="6.6" text-anchor="end" fill="#1a1a1a" font-weight="normal" stroke="#1a1a1a" stroke-width="0.260" textLength="11.55" lengthAdjust="spacingAndGlyphs">250</text>
<line x1="249.1" y1="174.3" x2="252.5" y2="174.3" stroke="#111" stroke-width="0.8"/>
<text x="246.1" y="176.9" font-size="6.6" text-anchor="end" fill="#1a1a1a" font-weight="normal" stroke="#1a1a1a" stroke-width="0.260" textLength="11.55" lengthAdjust="spacingAndGlyphs">200</text>
<line x1="249.1" y1="186.7" x2="252.5" y2="186.7" stroke="#111" stroke-width="0.8"/>
<text x="246.1" y="189.29999999999998" font-size="6.6" text-anchor="end" fill="#1a1a1a" font-weight="normal" stroke="#1a1a1a" stroke-width="0.260" textLength="11.55" lengthAdjust="spacingAndGlyphs">150</text>
<line x1="249.1" y1="199.0" x2="252.5" y2="199.0" stroke="#111" stroke-width="0.8"/>
<text x="246.1" y="201.6" font-size="6.6" text-anchor="end" fill="#1a1a1a" font-weight="normal" stroke="#1a1a1a" stroke-width="0.260" textLength="11.55" lengthAdjust="spacingAndGlyphs">100</text>
<line x1="249.1" y1="211.4" x2="252.5" y2="211.4" stroke="#111" stroke-width="0.8"/>
<text x="246.1" y="214.0" font-size="6.6" text-anchor="end" fill="#1a1a1a" font-weight="normal" stroke="#1a1a1a" stroke-width="0.260" textLength="7.7" lengthAdjust="spacingAndGlyphs">50</text>
<line x1="249.1" y1="223.7" x2="252.5" y2="223.7" stroke="#111" stroke-width="0.8"/>
<text x="246.1" y="226.29999999999998" font-size="6.6" text-anchor="end" fill="#1a1a1a" font-weight="normal" stroke="#1a1a1a" stroke-width="0.260" textLength="3.85" lengthAdjust="spacingAndGlyphs">0</text>
<line x1="252.0" y1="224.4" x2="337.0" y2="224.4" stroke="#111" stroke-width="1.1"/>
<line x1="252.5" y1="224.4" x2="252.5" y2="227.4" stroke="#111" stroke-width="0.9"/>
<text x="252.5" y="235.8" font-size="6.6" text-anchor="middle" fill="#1a1a1a" font-weight="normal" stroke="#1a1a1a" stroke-width="0.260" textLength="3.7" lengthAdjust="spacingAndGlyphs">0</text>
<line x1="266.2" y1="224.4" x2="266.2" y2="227.4" stroke="#111" stroke-width="0.9"/>
<text x="266.2" y="235.8" font-size="6.6" text-anchor="middle" fill="#1a1a1a" font-weight="normal" stroke="#1a1a1a" stroke-width="0.260" textLength="7.4" lengthAdjust="spacingAndGlyphs">30</text>
<line x1="279.9" y1="224.4" x2="279.9" y2="227.4" stroke="#111" stroke-width="0.9"/>
<text x="279.9" y="235.8" font-size="6.6" text-anchor="middle" fill="#1a1a1a" font-weight="normal" stroke="#1a1a1a" stroke-width="0.260" textLength="7.4" lengthAdjust="spacingAndGlyphs">60</text>
<line x1="293.7" y1="224.4" x2="293.7" y2="227.4" stroke="#111" stroke-width="0.9"/>
<text x="293.7" y="235.8" font-size="6.6" text-anchor="middle" fill="#1a1a1a" font-weight="normal" stroke="#1a1a1a" stroke-width="0.260" textLength="7.4" lengthAdjust="spacingAndGlyphs">90</text>
<line x1="307.4" y1="224.4" x2="307.4" y2="227.4" stroke="#111" stroke-width="0.9"/>
<text x="307.4" y="235.8" font-size="6.6" text-anchor="middle" fill="#1a1a1a" font-weight="normal" stroke="#1a1a1a" stroke-width="0.260" textLength="11.1" lengthAdjust="spacingAndGlyphs">120</text>
<line x1="321.1" y1="224.4" x2="321.1" y2="227.4" stroke="#111" stroke-width="0.9"/>
<text x="321.1" y="235.8" font-size="6.6" text-anchor="middle" fill="#1a1a1a" font-weight="normal" stroke="#1a1a1a" stroke-width="0.260" textLength="11.1" lengthAdjust="spacingAndGlyphs">150</text>
<line x1="334.8" y1="224.4" x2="334.8" y2="227.4" stroke="#111" stroke-width="0.9"/>
<text x="334.8" y="235.8" font-size="6.6" text-anchor="middle" fill="#1a1a1a" font-weight="normal" stroke="#1a1a1a" stroke-width="0.260" textLength="11.1" lengthAdjust="spacingAndGlyphs">180</text>
<text x="295.4" y="247.8" font-size="8.6" text-anchor="middle" fill="#1a1a1a" font-weight="normal" stroke="#1a1a1a" stroke-width="0.339" textLength="27.9" lengthAdjust="spacingAndGlyphs">Time (sec)</text>
<text x="229.2" y="191.2" font-size="8.4" text-anchor="middle" fill="#1a1a1a" font-weight="normal" stroke="#1a1a1a" stroke-width="0.331" textLength="29.0" lengthAdjust="spacingAndGlyphs" transform="rotate(-90 229.2 191.2)">Fibrin MFI</text>
<path d="M337.3,194.9 H339.8 V215.6 H337.3" fill="none" stroke="#111" stroke-width="1"/>
<circle cx="342.40" cy="205.0" r="0.78" fill="#222"/>
<circle cx="344.47" cy="205.0" r="0.78" fill="#222"/>
<circle cx="346.54" cy="205.0" r="0.78" fill="#222"/>
<circle cx="348.61" cy="205.0" r="0.78" fill="#222"/>
<text x="295.4" y="274.0" font-size="8.7" text-anchor="middle" fill="#6cb84a" font-weight="normal" stroke="#6cb84a" stroke-width="0.343" textLength="27.3" lengthAdjust="spacingAndGlyphs">Platelet</text>
<line x1="255.8" y1="282.7" x2="260.8" y2="282.7" stroke="#ea9418" stroke-width="0.9"/>
<circle cx="258.3" cy="282.7" r="1.1" fill="#ea9418"/>
<text x="263.40000000000003" y="284.59999999999997" font-size="5.2" text-anchor="start" fill="#1a1a1a" font-weight="normal" stroke="#1a1a1a" stroke-width="0.268" textLength="38.4" lengthAdjust="spacingAndGlyphs">WT (Vehicle ctrl)</text>
<line x1="255.8" y1="289.8" x2="260.8" y2="289.8" stroke="#48196e" stroke-width="0.9"/>
<circle cx="258.3" cy="289.8" r="1.1" fill="#48196e"/>
<text x="263.40000000000003" y="291.7" font-size="5.2" text-anchor="start" fill="#1a1a1a" font-weight="normal" stroke="#1a1a1a" stroke-width="0.268" textLength="25.7" lengthAdjust="spacingAndGlyphs">Vehicle ctrl</text>
<line x1="306.9" y1="282.7" x2="311.9" y2="282.7" stroke="#c0123a" stroke-width="0.9"/>
<circle cx="309.4" cy="282.7" r="1.1" fill="#c0123a"/>
<text x="314.50" y="284.59999999999997" font-size="5.2" fill="#1a1a1a" stroke="#1a1a1a" stroke-width="0.34" textLength="9.75" lengthAdjust="spacingAndGlyphs">DPA</text>
<text x="324.35" y="286.20" font-size="4.3" fill="#1a1a1a" stroke="#1a1a1a" stroke-width="0.26" textLength="6.45" lengthAdjust="spacingAndGlyphs">n-6</text>
<line x1="306.9" y1="289.8" x2="311.9" y2="289.8" stroke="#26468c" stroke-width="0.9"/>
<circle cx="309.4" cy="289.8" r="1.1" fill="#26468c"/>
<text x="314.50" y="291.7" font-size="5.2" fill="#1a1a1a" stroke="#1a1a1a" stroke-width="0.34" textLength="25.15" lengthAdjust="spacingAndGlyphs">11-HpDPA</text>
<text x="339.75" y="293.30" font-size="4.3" fill="#1a1a1a" stroke="#1a1a1a" stroke-width="0.26" textLength="6.45" lengthAdjust="spacingAndGlyphs">n-6</text>
<line x1="306.9" y1="296.8" x2="311.9" y2="296.8" stroke="#5cae3c" stroke-width="0.9"/>
<circle cx="309.4" cy="296.8" r="1.1" fill="#5cae3c"/>
<text x="314.50" y="298.7" font-size="5.2" fill="#1a1a1a" stroke="#1a1a1a" stroke-width="0.34" textLength="25.15" lengthAdjust="spacingAndGlyphs">14-HpDPA</text>
<text x="339.75" y="300.30" font-size="4.3" fill="#1a1a1a" stroke="#1a1a1a" stroke-width="0.26" textLength="6.45" lengthAdjust="spacingAndGlyphs">n-6</text>
<line x1="256.5" y1="342.6" x2="256.5" y2="338.6" stroke="#cdcdcd" stroke-width="0.55"/>
<line x1="255.9" y1="338.6" x2="257.1" y2="338.6" stroke="#cdcdcd" stroke-width="0.4"/>
<line x1="260.3" y1="335.2" x2="260.3" y2="330.2" stroke="#cdcdcd" stroke-width="0.55"/>
<line x1="259.7" y1="330.2" x2="260.9" y2="330.2" stroke="#cdcdcd" stroke-width="0.4"/>
<line x1="264.1" y1="328.6" x2="264.1" y2="323.6" stroke="#cdcdcd" stroke-width="0.55"/>
<line x1="263.5" y1="323.6" x2="264.7" y2="323.6" stroke="#cdcdcd" stroke-width="0.4"/>
<line x1="268.1" y1="322.7" x2="268.1" y2="317.7" stroke="#cdcdcd" stroke-width="0.55"/>
<line x1="267.5" y1="317.7" x2="268.7" y2="317.7" stroke="#cdcdcd" stroke-width="0.4"/>
<line x1="272.1" y1="316.0" x2="272.1" y2="311.0" stroke="#cdcdcd" stroke-width="0.55"/>
<line x1="271.5" y1="311.0" x2="272.7" y2="311.0" stroke="#cdcdcd" stroke-width="0.4"/>
<line x1="276.0" y1="314.3" x2="276.0" y2="309.3" stroke="#cdcdcd" stroke-width="0.55"/>
<line x1="275.4" y1="309.3" x2="276.6" y2="309.3" stroke="#cdcdcd" stroke-width="0.4"/>
<line x1="280.1" y1="312.8" x2="280.1" y2="306.8" stroke="#cdcdcd" stroke-width="0.55"/>
<line x1="279.5" y1="306.8" x2="280.7" y2="306.8" stroke="#cdcdcd" stroke-width="0.4"/>
<line x1="284.0" y1="311.9" x2="284.0" y2="305.9" stroke="#cdcdcd" stroke-width="0.55"/>
<line x1="283.4" y1="305.9" x2="284.6" y2="305.9" stroke="#cdcdcd" stroke-width="0.4"/>
<line x1="287.7" y1="311.3" x2="287.7" y2="304.3" stroke="#cdcdcd" stroke-width="0.55"/>
<line x1="287.1" y1="304.3" x2="288.3" y2="304.3" stroke="#cdcdcd" stroke-width="0.4"/>
<line x1="291.3" y1="313.8" x2="291.3" y2="307.8" stroke="#cdcdcd" stroke-width="0.55"/>
<line x1="290.7" y1="307.8" x2="291.9" y2="307.8" stroke="#cdcdcd" stroke-width="0.4"/>
<line x1="294.9" y1="316.9" x2="294.9" y2="311.9" stroke="#cdcdcd" stroke-width="0.55"/>
<line x1="294.3" y1="311.9" x2="295.5" y2="311.9" stroke="#cdcdcd" stroke-width="0.4"/>
<line x1="298.6" y1="317.8" x2="298.6" y2="312.8" stroke="#cdcdcd" stroke-width="0.55"/>
<line x1="298.0" y1="312.8" x2="299.2" y2="312.8" stroke="#cdcdcd" stroke-width="0.4"/>
<line x1="302.3" y1="318.6" x2="302.3" y2="313.6" stroke="#cdcdcd" stroke-width="0.55"/>
<line x1="301.7" y1="313.6" x2="302.9" y2="313.6" stroke="#cdcdcd" stroke-width="0.4"/>
<line x1="306.2" y1="320.6" x2="306.2" y2="315.6" stroke="#cdcdcd" stroke-width="0.55"/>
<line x1="305.6" y1="315.6" x2="306.8" y2="315.6" stroke="#cdcdcd" stroke-width="0.4"/>
<line x1="310.0" y1="322.9" x2="310.0" y2="316.9" stroke="#cdcdcd" stroke-width="0.55"/>
<line x1="309.4" y1="316.9" x2="310.6" y2="316.9" stroke="#cdcdcd" stroke-width="0.4"/>
<line x1="313.8" y1="321.9" x2="313.8" y2="316.9" stroke="#cdcdcd" stroke-width="0.55"/>
<line x1="313.2" y1="316.9" x2="314.4" y2="316.9" stroke="#cdcdcd" stroke-width="0.4"/>
<line x1="317.3" y1="325.1" x2="317.3" y2="321.1" stroke="#cdcdcd" stroke-width="0.55"/>
<line x1="316.7" y1="321.1" x2="317.9" y2="321.1" stroke="#cdcdcd" stroke-width="0.4"/>
<line x1="321.0" y1="326.9" x2="321.0" y2="322.9" stroke="#cdcdcd" stroke-width="0.55"/>
<line x1="320.4" y1="322.9" x2="321.6" y2="322.9" stroke="#cdcdcd" stroke-width="0.4"/>
<line x1="324.6" y1="327.8" x2="324.6" y2="323.8" stroke="#cdcdcd" stroke-width="0.55"/>
<line x1="324.0" y1="323.8" x2="325.2" y2="323.8" stroke="#cdcdcd" stroke-width="0.4"/>
<line x1="328.1" y1="328.8" x2="328.1" y2="324.8" stroke="#cdcdcd" stroke-width="0.55"/>
<line x1="327.5" y1="324.8" x2="328.7" y2="324.8" stroke="#cdcdcd" stroke-width="0.4"/>
<line x1="331.7" y1="329.3" x2="331.7" y2="325.3" stroke="#cdcdcd" stroke-width="0.55"/>
<line x1="331.1" y1="325.3" x2="332.3" y2="325.3" stroke="#cdcdcd" stroke-width="0.4"/>
<line x1="256.5" y1="345.6" x2="256.5" y2="339.6" stroke="#cdcdcd" stroke-width="0.55"/>
<line x1="255.9" y1="339.6" x2="257.1" y2="339.6" stroke="#cdcdcd" stroke-width="0.4"/>
<line x1="260.3" y1="344.1" x2="260.3" y2="336.1" stroke="#cdcdcd" stroke-width="0.55"/>
<line x1="259.7" y1="336.1" x2="260.9" y2="336.1" stroke="#cdcdcd" stroke-width="0.4"/>
<line x1="264.1" y1="341.9" x2="264.1" y2="332.9" stroke="#cdcdcd" stroke-width="0.55"/>
<line x1="263.5" y1="332.9" x2="264.7" y2="332.9" stroke="#cdcdcd" stroke-width="0.4"/>
<line x1="268.1" y1="339.7" x2="268.1" y2="330.7" stroke="#cdcdcd" stroke-width="0.55"/>
<line x1="267.5" y1="330.7" x2="268.7" y2="330.7" stroke="#cdcdcd" stroke-width="0.4"/>
<line x1="272.1" y1="337.5" x2="272.1" y2="327.5" stroke="#cdcdcd" stroke-width="0.55"/>
<line x1="271.5" y1="327.5" x2="272.7" y2="327.5" stroke="#cdcdcd" stroke-width="0.4"/>
<line x1="276.0" y1="337.5" x2="276.0" y2="327.5" stroke="#cdcdcd" stroke-width="0.55"/>
<line x1="275.4" y1="327.5" x2="276.6" y2="327.5" stroke="#cdcdcd" stroke-width="0.4"/>
<line x1="280.1" y1="336.7" x2="280.1" y2="326.7" stroke="#cdcdcd" stroke-width="0.55"/>
<line x1="279.5" y1="326.7" x2="280.7" y2="326.7" stroke="#cdcdcd" stroke-width="0.4"/>
<line x1="284.0" y1="336.0" x2="284.0" y2="325.0" stroke="#cdcdcd" stroke-width="0.55"/>
<line x1="283.4" y1="325.0" x2="284.6" y2="325.0" stroke="#cdcdcd" stroke-width="0.4"/>
<line x1="287.7" y1="336.4" x2="287.7" y2="325.4" stroke="#cdcdcd" stroke-width="0.55"/>
<line x1="287.1" y1="325.4" x2="288.3" y2="325.4" stroke="#cdcdcd" stroke-width="0.4"/>
<line x1="291.3" y1="336.7" x2="291.3" y2="326.7" stroke="#cdcdcd" stroke-width="0.55"/>
<line x1="290.7" y1="326.7" x2="291.9" y2="326.7" stroke="#cdcdcd" stroke-width="0.4"/>
<line x1="294.9" y1="336.8" x2="294.9" y2="326.8" stroke="#cdcdcd" stroke-width="0.55"/>
<line x1="294.3" y1="326.8" x2="295.5" y2="326.8" stroke="#cdcdcd" stroke-width="0.4"/>
<line x1="298.6" y1="338.4" x2="298.6" y2="329.4" stroke="#cdcdcd" stroke-width="0.55"/>
<line x1="298.0" y1="329.4" x2="299.2" y2="329.4" stroke="#cdcdcd" stroke-width="0.4"/>
<line x1="302.3" y1="339.3" x2="302.3" y2="330.3" stroke="#cdcdcd" stroke-width="0.55"/>
<line x1="301.7" y1="330.3" x2="302.9" y2="330.3" stroke="#cdcdcd" stroke-width="0.4"/>
<line x1="306.2" y1="338.6" x2="306.2" y2="329.6" stroke="#cdcdcd" stroke-width="0.55"/>
<line x1="305.6" y1="329.6" x2="306.8" y2="329.6" stroke="#cdcdcd" stroke-width="0.4"/>
<line x1="310.0" y1="338.7" x2="310.0" y2="329.7" stroke="#cdcdcd" stroke-width="0.55"/>
<line x1="309.4" y1="329.7" x2="310.6" y2="329.7" stroke="#cdcdcd" stroke-width="0.4"/>
<line x1="313.8" y1="339.6" x2="313.8" y2="330.6" stroke="#cdcdcd" stroke-width="0.55"/>
<line x1="313.2" y1="330.6" x2="314.4" y2="330.6" stroke="#cdcdcd" stroke-width="0.4"/>
<line x1="317.3" y1="340.6" x2="317.3" y2="331.6" stroke="#cdcdcd" stroke-width="0.55"/>
<line x1="316.7" y1="331.6" x2="317.9" y2="331.6" stroke="#cdcdcd" stroke-width="0.4"/>
<line x1="321.0" y1="341.4" x2="321.0" y2="332.4" stroke="#cdcdcd" stroke-width="0.55"/>
<line x1="320.4" y1="332.4" x2="321.6" y2="332.4" stroke="#cdcdcd" stroke-width="0.4"/>
<line x1="324.6" y1="342.1" x2="324.6" y2="333.1" stroke="#cdcdcd" stroke-width="0.55"/>
<line x1="324.0" y1="333.1" x2="325.2" y2="333.1" stroke="#cdcdcd" stroke-width="0.4"/>
<line x1="328.1" y1="342.9" x2="328.1" y2="333.9" stroke="#cdcdcd" stroke-width="0.55"/>
<line x1="327.5" y1="333.9" x2="328.7" y2="333.9" stroke="#cdcdcd" stroke-width="0.4"/>
<line x1="331.7" y1="344.0" x2="331.7" y2="336.0" stroke="#cdcdcd" stroke-width="0.55"/>
<line x1="331.1" y1="336.0" x2="332.3" y2="336.0" stroke="#cdcdcd" stroke-width="0.4"/>
<line x1="256.5" y1="346.3" x2="256.5" y2="341.3" stroke="#cdcdcd" stroke-width="0.55"/>
<line x1="255.9" y1="341.3" x2="257.1" y2="341.3" stroke="#cdcdcd" stroke-width="0.4"/>
<line x1="260.3" y1="341.9" x2="260.3" y2="335.9" stroke="#cdcdcd" stroke-width="0.55"/>
<line x1="259.7" y1="335.9" x2="260.9" y2="335.9" stroke="#cdcdcd" stroke-width="0.4"/>
<line x1="264.1" y1="339.7" x2="264.1" y2="333.7" stroke="#cdcdcd" stroke-width="0.55"/>
<line x1="263.5" y1="333.7" x2="264.7" y2="333.7" stroke="#cdcdcd" stroke-width="0.4"/>
<line x1="268.1" y1="337.0" x2="268.1" y2="331.0" stroke="#cdcdcd" stroke-width="0.55"/>
<line x1="267.5" y1="331.0" x2="268.7" y2="331.0" stroke="#cdcdcd" stroke-width="0.4"/>
<line x1="272.1" y1="337.9" x2="272.1" y2="331.9" stroke="#cdcdcd" stroke-width="0.55"/>
<line x1="271.5" y1="331.9" x2="272.7" y2="331.9" stroke="#cdcdcd" stroke-width="0.4"/>
<line x1="276.0" y1="339.7" x2="276.0" y2="333.7" stroke="#cdcdcd" stroke-width="0.55"/>
<line x1="275.4" y1="333.7" x2="276.6" y2="333.7" stroke="#cdcdcd" stroke-width="0.4"/>
<line x1="280.1" y1="340.9" x2="280.1" y2="334.9" stroke="#cdcdcd" stroke-width="0.55"/>
<line x1="279.5" y1="334.9" x2="280.7" y2="334.9" stroke="#cdcdcd" stroke-width="0.4"/>
<line x1="284.0" y1="341.9" x2="284.0" y2="335.9" stroke="#cdcdcd" stroke-width="0.55"/>
<line x1="283.4" y1="335.9" x2="284.6" y2="335.9" stroke="#cdcdcd" stroke-width="0.4"/>
<line x1="287.7" y1="342.6" x2="287.7" y2="336.6" stroke="#cdcdcd" stroke-width="0.55"/>
<line x1="287.1" y1="336.6" x2="288.3" y2="336.6" stroke="#cdcdcd" stroke-width="0.4"/>
<line x1="291.3" y1="343.8" x2="291.3" y2="337.8" stroke="#cdcdcd" stroke-width="0.55"/>
<line x1="290.7" y1="337.8" x2="291.9" y2="337.8" stroke="#cdcdcd" stroke-width="0.4"/>
<line x1="294.9" y1="344.0" x2="294.9" y2="339.0" stroke="#cdcdcd" stroke-width="0.55"/>
<line x1="294.3" y1="339.0" x2="295.5" y2="339.0" stroke="#cdcdcd" stroke-width="0.4"/>
<line x1="298.6" y1="345.0" x2="298.6" y2="340.0" stroke="#cdcdcd" stroke-width="0.55"/>
<line x1="298.0" y1="340.0" x2="299.2" y2="340.0" stroke="#cdcdcd" stroke-width="0.4"/>
<line x1="302.3" y1="345.7" x2="302.3" y2="340.7" stroke="#cdcdcd" stroke-width="0.55"/>
<line x1="301.7" y1="340.7" x2="302.9" y2="340.7" stroke="#cdcdcd" stroke-width="0.4"/>
<line x1="306.2" y1="346.2" x2="306.2" y2="341.2" stroke="#cdcdcd" stroke-width="0.55"/>
<line x1="305.6" y1="341.2" x2="306.8" y2="341.2" stroke="#cdcdcd" stroke-width="0.4"/>
<line x1="310.0" y1="347.0" x2="310.0" y2="342.0" stroke="#cdcdcd" stroke-width="0.55"/>
<line x1="309.4" y1="342.0" x2="310.6" y2="342.0" stroke="#cdcdcd" stroke-width="0.4"/>
<line x1="313.8" y1="347.0" x2="313.8" y2="342.0" stroke="#cdcdcd" stroke-width="0.55"/>
<line x1="313.2" y1="342.0" x2="314.4" y2="342.0" stroke="#cdcdcd" stroke-width="0.4"/>
<line x1="317.3" y1="347.6" x2="317.3" y2="342.6" stroke="#cdcdcd" stroke-width="0.55"/>
<line x1="316.7" y1="342.6" x2="317.9" y2="342.6" stroke="#cdcdcd" stroke-width="0.4"/>
<line x1="321.0" y1="348.0" x2="321.0" y2="343.0" stroke="#cdcdcd" stroke-width="0.55"/>
<line x1="320.4" y1="343.0" x2="321.6" y2="343.0" stroke="#cdcdcd" stroke-width="0.4"/>
<line x1="324.6" y1="348.0" x2="324.6" y2="343.0" stroke="#cdcdcd" stroke-width="0.55"/>
<line x1="324.0" y1="343.0" x2="325.2" y2="343.0" stroke="#cdcdcd" stroke-width="0.4"/>
<line x1="328.1" y1="348.8" x2="328.1" y2="343.8" stroke="#cdcdcd" stroke-width="0.55"/>
<line x1="327.5" y1="343.8" x2="328.7" y2="343.8" stroke="#cdcdcd" stroke-width="0.4"/>
<line x1="331.7" y1="350.5" x2="331.7" y2="346.5" stroke="#cdcdcd" stroke-width="0.55"/>
<line x1="331.1" y1="346.5" x2="332.3" y2="346.5" stroke="#cdcdcd" stroke-width="0.4"/>
<polyline points="252.7,346.8 256.5,345.6 260.3,343.4 264.1,340.4 268.1,338.9 272.1,341.2 276.0,342.6 280.1,343.8 284.0,343.4 287.7,344.4 291.3,345.3 294.9,346.0 298.6,346.4 302.3,346.8 306.2,347.0 310.0,347.3 313.8,347.3 317.3,348.0 321.0,348.0 324.6,348.5 328.1,349.5 331.7,350.0 334.6,350.5" fill="none" stroke="#26468c" stroke-width="0.85" stroke-linejoin="round"/>
<circle cx="252.7" cy="346.8" r="1.05" fill="#26468c"/>
<circle cx="256.5" cy="345.6" r="1.05" fill="#26468c"/>
<circle cx="260.3" cy="343.4" r="1.05" fill="#26468c"/>
<circle cx="264.1" cy="340.4" r="1.05" fill="#26468c"/>
<circle cx="268.1" cy="338.9" r="1.05" fill="#26468c"/>
<circle cx="272.1" cy="341.2" r="1.05" fill="#26468c"/>
<circle cx="276.0" cy="342.6" r="1.05" fill="#26468c"/>
<circle cx="280.1" cy="343.8" r="1.05" fill="#26468c"/>
<circle cx="284.0" cy="343.4" r="1.05" fill="#26468c"/>
<circle cx="287.7" cy="344.4" r="1.05" fill="#26468c"/>
<circle cx="291.3" cy="345.3" r="1.05" fill="#26468c"/>
<circle cx="294.9" cy="346.0" r="1.05" fill="#26468c"/>
<circle cx="298.6" cy="346.4" r="1.05" fill="#26468c"/>
<circle cx="302.3" cy="346.8" r="1.05" fill="#26468c"/>
<circle cx="306.2" cy="347.0" r="1.05" fill="#26468c"/>
<circle cx="310.0" cy="347.3" r="1.05" fill="#26468c"/>
<circle cx="313.8" cy="347.3" r="1.05" fill="#26468c"/>
<circle cx="317.3" cy="348.0" r="1.05" fill="#26468c"/>
<circle cx="321.0" cy="348.0" r="1.05" fill="#26468c"/>
<circle cx="324.6" cy="348.5" r="1.05" fill="#26468c"/>
<circle cx="328.1" cy="349.5" r="1.05" fill="#26468c"/>
<circle cx="331.7" cy="350.0" r="1.05" fill="#26468c"/>
<circle cx="334.6" cy="350.5" r="1.05" fill="#26468c"/>
<polyline points="252.7,346.8 256.5,346.3 260.3,341.9 264.1,339.7 268.1,337.0 272.1,337.9 276.0,339.7 280.1,340.9 284.0,341.9 287.7,342.6 291.3,343.8 294.9,344.0 298.6,345.0 302.3,345.7 306.2,346.2 310.0,347.0 313.8,347.0 317.3,347.6 321.0,348.0 324.6,348.0 328.1,348.8 331.7,350.5 334.6,350.2" fill="none" stroke="#5cae3c" stroke-width="0.85" stroke-linejoin="round"/>
<circle cx="252.7" cy="346.8" r="1.05" fill="#5cae3c"/>
<circle cx="256.5" cy="346.3" r="1.05" fill="#5cae3c"/>
<circle cx="260.3" cy="341.9" r="1.05" fill="#5cae3c"/>
<circle cx="264.1" cy="339.7" r="1.05" fill="#5cae3c"/>
<circle cx="268.1" cy="337.0" r="1.05" fill="#5cae3c"/>
<circle cx="272.1" cy="337.9" r="1.05" fill="#5cae3c"/>
<circle cx="276.0" cy="339.7" r="1.05" fill="#5cae3c"/>
<circle cx="280.1" cy="340.9" r="1.05" fill="#5cae3c"/>
<circle cx="284.0" cy="341.9" r="1.05" fill="#5cae3c"/>
<circle cx="287.7" cy="342.6" r="1.05" fill="#5cae3c"/>
<circle cx="291.3" cy="343.8" r="1.05" fill="#5cae3c"/>
<circle cx="294.9" cy="344.0" r="1.05" fill="#5cae3c"/>
<circle cx="298.6" cy="345.0" r="1.05" fill="#5cae3c"/>
<circle cx="302.3" cy="345.7" r="1.05" fill="#5cae3c"/>
<circle cx="306.2" cy="346.2" r="1.05" fill="#5cae3c"/>
<circle cx="310.0" cy="347.0" r="1.05" fill="#5cae3c"/>
<circle cx="313.8" cy="347.0" r="1.05" fill="#5cae3c"/>
<circle cx="317.3" cy="347.6" r="1.05" fill="#5cae3c"/>
<circle cx="321.0" cy="348.0" r="1.05" fill="#5cae3c"/>
<circle cx="324.6" cy="348.0" r="1.05" fill="#5cae3c"/>
<circle cx="328.1" cy="348.8" r="1.05" fill="#5cae3c"/>
<circle cx="331.7" cy="350.5" r="1.05" fill="#5cae3c"/>
<circle cx="334.6" cy="350.2" r="1.05" fill="#5cae3c"/>
<polyline points="252.7,346.3 256.5,345.6 260.3,344.1 264.1,341.9 268.1,339.7 272.1,337.5 276.0,337.5 280.1,336.7 284.0,336.0 287.7,336.4 291.3,336.7 294.9,336.8 298.6,338.4 302.3,339.3 306.2,338.6 310.0,338.7 313.8,339.6 317.3,340.6 321.0,341.4 324.6,342.1 328.1,342.9 331.7,344.0 334.6,344.0" fill="none" stroke="#48196e" stroke-width="0.85" stroke-linejoin="round"/>
<circle cx="252.7" cy="346.3" r="1.05" fill="#48196e"/>
<circle cx="256.5" cy="345.6" r="1.05" fill="#48196e"/>
<circle cx="260.3" cy="344.1" r="1.05" fill="#48196e"/>
<circle cx="264.1" cy="341.9" r="1.05" fill="#48196e"/>
<circle cx="268.1" cy="339.7" r="1.05" fill="#48196e"/>
<circle cx="272.1" cy="337.5" r="1.05" fill="#48196e"/>
<circle cx="276.0" cy="337.5" r="1.05" fill="#48196e"/>
<circle cx="280.1" cy="336.7" r="1.05" fill="#48196e"/>
<circle cx="284.0" cy="336.0" r="1.05" fill="#48196e"/>
<circle cx="287.7" cy="336.4" r="1.05" fill="#48196e"/>
<circle cx="291.3" cy="336.7" r="1.05" fill="#48196e"/>
<circle cx="294.9" cy="336.8" r="1.05" fill="#48196e"/>
<circle cx="298.6" cy="338.4" r="1.05" fill="#48196e"/>
<circle cx="302.3" cy="339.3" r="1.05" fill="#48196e"/>
<circle cx="306.2" cy="338.6" r="1.05" fill="#48196e"/>
<circle cx="310.0" cy="338.7" r="1.05" fill="#48196e"/>
<circle cx="313.8" cy="339.6" r="1.05" fill="#48196e"/>
<circle cx="317.3" cy="340.6" r="1.05" fill="#48196e"/>
<circle cx="321.0" cy="341.4" r="1.05" fill="#48196e"/>
<circle cx="324.6" cy="342.1" r="1.05" fill="#48196e"/>
<circle cx="328.1" cy="342.9" r="1.05" fill="#48196e"/>
<circle cx="331.7" cy="344.0" r="1.05" fill="#48196e"/>
<circle cx="334.6" cy="344.0" r="1.05" fill="#48196e"/>
<polyline points="252.7,346.3 256.5,345.9 260.3,344.1 264.1,341.9 268.1,338.2 272.1,337.5 276.0,337.5 280.1,336.4 284.0,334.1 287.7,334.5 291.3,336.0 294.9,336.8 298.6,339.6 302.3,340.3 306.2,340.0 310.0,340.2 313.8,341.1 317.3,341.4 321.0,342.1 324.6,342.9 328.1,343.6 331.7,344.6 334.6,346.1" fill="none" stroke="#c0123a" stroke-width="0.85" stroke-linejoin="round"/>
<circle cx="252.7" cy="346.3" r="1.05" fill="#c0123a"/>
<circle cx="256.5" cy="345.9" r="1.05" fill="#c0123a"/>
<circle cx="260.3" cy="344.1" r="1.05" fill="#c0123a"/>
<circle cx="264.1" cy="341.9" r="1.05" fill="#c0123a"/>
<circle cx="268.1" cy="338.2" r="1.05" fill="#c0123a"/>
<circle cx="272.1" cy="337.5" r="1.05" fill="#c0123a"/>
<circle cx="276.0" cy="337.5" r="1.05" fill="#c0123a"/>
<circle cx="280.1" cy="336.4" r="1.05" fill="#c0123a"/>
<circle cx="284.0" cy="334.1" r="1.05" fill="#c0123a"/>
<circle cx="287.7" cy="334.5" r="1.05" fill="#c0123a"/>
<circle cx="291.3" cy="336.0" r="1.05" fill="#c0123a"/>
<circle cx="294.9" cy="336.8" r="1.05" fill="#c0123a"/>
<circle cx="298.6" cy="339.6" r="1.05" fill="#c0123a"/>
<circle cx="302.3" cy="340.3" r="1.05" fill="#c0123a"/>
<circle cx="306.2" cy="340.0" r="1.05" fill="#c0123a"/>
<circle cx="310.0" cy="340.2" r="1.05" fill="#c0123a"/>
<circle cx="313.8" cy="341.1" r="1.05" fill="#c0123a"/>
<circle cx="317.3" cy="341.4" r="1.05" fill="#c0123a"/>
<circle cx="321.0" cy="342.1" r="1.05" fill="#c0123a"/>
<circle cx="324.6" cy="342.9" r="1.05" fill="#c0123a"/>
<circle cx="328.1" cy="343.6" r="1.05" fill="#c0123a"/>
<circle cx="331.7" cy="344.6" r="1.05" fill="#c0123a"/>
<circle cx="334.6" cy="346.1" r="1.05" fill="#c0123a"/>
<polyline points="252.7,347.1 256.5,342.6 260.3,335.2 264.1,328.6 268.1,322.7 272.1,316.0 276.0,314.3 280.1,312.8 284.0,311.9 287.7,311.3 291.3,313.8 294.9,316.9 298.6,317.8 302.3,318.6 306.2,320.6 310.0,322.9 313.8,321.9 317.3,325.1 321.0,326.9 324.6,327.8 328.1,328.8 331.7,329.3 334.6,330.7" fill="none" stroke="#ea9418" stroke-width="0.85" stroke-linejoin="round"/>
<circle cx="252.7" cy="347.1" r="1.05" fill="#ea9418"/>
<circle cx="256.5" cy="342.6" r="1.05" fill="#ea9418"/>
<circle cx="260.3" cy="335.2" r="1.05" fill="#ea9418"/>
<circle cx="264.1" cy="328.6" r="1.05" fill="#ea9418"/>
<circle cx="268.1" cy="322.7" r="1.05" fill="#ea9418"/>
<circle cx="272.1" cy="316.0" r="1.05" fill="#ea9418"/>
<circle cx="276.0" cy="314.3" r="1.05" fill="#ea9418"/>
<circle cx="280.1" cy="312.8" r="1.05" fill="#ea9418"/>
<circle cx="284.0" cy="311.9" r="1.05" fill="#ea9418"/>
<circle cx="287.7" cy="311.3" r="1.05" fill="#ea9418"/>
<circle cx="291.3" cy="313.8" r="1.05" fill="#ea9418"/>
<circle cx="294.9" cy="316.9" r="1.05" fill="#ea9418"/>
<circle cx="298.6" cy="317.8" r="1.05" fill="#ea9418"/>
<circle cx="302.3" cy="318.6" r="1.05" fill="#ea9418"/>
<circle cx="306.2" cy="320.6" r="1.05" fill="#ea9418"/>
<circle cx="310.0" cy="322.9" r="1.05" fill="#ea9418"/>
<circle cx="313.8" cy="321.9" r="1.05" fill="#ea9418"/>
<circle cx="317.3" cy="325.1" r="1.05" fill="#ea9418"/>
<circle cx="321.0" cy="326.9" r="1.05" fill="#ea9418"/>
<circle cx="324.6" cy="327.8" r="1.05" fill="#ea9418"/>
<circle cx="328.1" cy="328.8" r="1.05" fill="#ea9418"/>
<circle cx="331.7" cy="329.3" r="1.05" fill="#ea9418"/>
<circle cx="334.6" cy="330.7" r="1.05" fill="#ea9418"/>
<line x1="252.5" y1="291.0" x2="252.5" y2="354.6" stroke="#111" stroke-width="1.1"/>
<line x1="249.1" y1="292.4" x2="252.5" y2="292.4" stroke="#111" stroke-width="0.8"/>
<text x="246.1" y="295.0" font-size="6.6" text-anchor="end" fill="#1a1a1a" font-weight="normal" stroke="#1a1a1a" stroke-width="0.260" textLength="15.4" lengthAdjust="spacingAndGlyphs">8000</text>
<line x1="249.1" y1="310.1" x2="252.5" y2="310.1" stroke="#111" stroke-width="0.8"/>
<text x="246.1" y="312.70000000000005" font-size="6.6" text-anchor="end" fill="#1a1a1a" font-weight="normal" stroke="#1a1a1a" stroke-width="0.260" textLength="15.4" lengthAdjust="spacingAndGlyphs">6000</text>
<line x1="249.1" y1="327.9" x2="252.5" y2="327.9" stroke="#111" stroke-width="0.8"/>
<text x="246.1" y="330.5" font-size="6.6" text-anchor="end" fill="#1a1a1a" font-weight="normal" stroke="#1a1a1a" stroke-width="0.260" textLength="15.4" lengthAdjust="spacingAndGlyphs">4000</text>
<line x1="249.1" y1="345.3" x2="252.5" y2="345.3" stroke="#111" stroke-width="0.8"/>
<text x="246.1" y="347.90000000000003" font-size="6.6" text-anchor="end" fill="#1a1a1a" font-weight="normal" stroke="#1a1a1a" stroke-width="0.260" textLength="15.4" lengthAdjust="spacingAndGlyphs">2000</text>
<line x1="252.0" y1="353.9" x2="337.2" y2="353.9" stroke="#111" stroke-width="1.1"/>
<line x1="252.5" y1="353.9" x2="252.5" y2="356.9" stroke="#111" stroke-width="0.9"/>
<text x="252.5" y="365.8" font-size="6.6" text-anchor="middle" fill="#1a1a1a" font-weight="normal" stroke="#1a1a1a" stroke-width="0.260" textLength="3.7" lengthAdjust="spacingAndGlyphs">0</text>
<line x1="266.2" y1="353.9" x2="266.2" y2="356.9" stroke="#111" stroke-width="0.9"/>
<text x="266.2" y="365.8" font-size="6.6" text-anchor="middle" fill="#1a1a1a" font-weight="normal" stroke="#1a1a1a" stroke-width="0.260" textLength="7.4" lengthAdjust="spacingAndGlyphs">30</text>
<line x1="279.9" y1="353.9" x2="279.9" y2="356.9" stroke="#111" stroke-width="0.9"/>
<text x="279.9" y="365.8" font-size="6.6" text-anchor="middle" fill="#1a1a1a" font-weight="normal" stroke="#1a1a1a" stroke-width="0.260" textLength="7.4" lengthAdjust="spacingAndGlyphs">60</text>
<line x1="293.7" y1="353.9" x2="293.7" y2="356.9" stroke="#111" stroke-width="0.9"/>
<text x="293.7" y="365.8" font-size="6.6" text-anchor="middle" fill="#1a1a1a" font-weight="normal" stroke="#1a1a1a" stroke-width="0.260" textLength="7.4" lengthAdjust="spacingAndGlyphs">90</text>
<line x1="307.4" y1="353.9" x2="307.4" y2="356.9" stroke="#111" stroke-width="0.9"/>
<text x="307.4" y="365.8" font-size="6.6" text-anchor="middle" fill="#1a1a1a" font-weight="normal" stroke="#1a1a1a" stroke-width="0.260" textLength="11.1" lengthAdjust="spacingAndGlyphs">120</text>
<line x1="321.1" y1="353.9" x2="321.1" y2="356.9" stroke="#111" stroke-width="0.9"/>
<text x="321.1" y="365.8" font-size="6.6" text-anchor="middle" fill="#1a1a1a" font-weight="normal" stroke="#1a1a1a" stroke-width="0.260" textLength="11.1" lengthAdjust="spacingAndGlyphs">150</text>
<line x1="334.8" y1="353.9" x2="334.8" y2="356.9" stroke="#111" stroke-width="0.9"/>
<text x="334.8" y="365.8" font-size="6.6" text-anchor="middle" fill="#1a1a1a" font-weight="normal" stroke="#1a1a1a" stroke-width="0.260" textLength="11.1" lengthAdjust="spacingAndGlyphs">180</text>
<text x="295.4" y="377.8" font-size="8.6" text-anchor="middle" fill="#1a1a1a" font-weight="normal" stroke="#1a1a1a" stroke-width="0.339" textLength="27.9" lengthAdjust="spacingAndGlyphs">Time (sec)</text>
<text x="225.6" y="321.7" font-size="8.6" text-anchor="middle" fill="#1a1a1a" font-weight="normal" stroke="#1a1a1a" stroke-width="0.339" textLength="33.2" lengthAdjust="spacingAndGlyphs" transform="rotate(-90 225.6 321.7)">Platelet MFI</text>
<path d="M337.5,327.1 H339.8 V343.6 H337.5" fill="none" stroke="#111" stroke-width="1"/>
<circle cx="342.40" cy="335.5" r="0.78" fill="#222"/>
<circle cx="344.47" cy="335.5" r="0.78" fill="#222"/>
<circle cx="346.54" cy="335.5" r="0.78" fill="#222"/>
<circle cx="348.61" cy="335.5" r="0.78" fill="#222"/>
<path d="M338.3,345.2 H340.2 V352.3 H338.3 M343,346.4 H344.6 V351.5 H343" fill="none" stroke="#111" stroke-width="1"/>
<circle cx="347.20" cy="348.7" r="0.78" fill="#222"/>
<circle cx="349.27" cy="348.7" r="0.78" fill="#222"/>
<circle cx="351.34" cy="348.7" r="0.78" fill="#222"/>
<circle cx="353.41" cy="348.7" r="0.78" fill="#222"/>
<text x="295.3" y="404.0" font-size="8.7" text-anchor="middle" fill="#b5143e" font-weight="normal" stroke="#b5143e" stroke-width="0.343" textLength="20.2" lengthAdjust="spacingAndGlyphs">Fibrin</text>
<line x1="264.1" y1="461.2" x2="264.1" y2="451.5" stroke="#cdcdcd" stroke-width="0.55"/>
<line x1="268.1" y1="453.8" x2="268.1" y2="453.0" stroke="#cdcdcd" stroke-width="0.55"/>
<line x1="272.1" y1="449.3" x2="272.1" y2="447.9" stroke="#cdcdcd" stroke-width="0.55"/>
<line x1="276.0" y1="441.2" x2="276.0" y2="442.7" stroke="#cdcdcd" stroke-width="0.55"/>
<line x1="280.1" y1="436.0" x2="280.1" y2="432.3" stroke="#cdcdcd" stroke-width="0.55"/>
<line x1="284.0" y1="431.6" x2="284.0" y2="427.2" stroke="#cdcdcd" stroke-width="0.55"/>
<line x1="287.7" y1="427.5" x2="287.7" y2="422.4" stroke="#cdcdcd" stroke-width="0.55"/>
<line x1="291.3" y1="429.4" x2="291.3" y2="418.0" stroke="#cdcdcd" stroke-width="0.55"/>
<line x1="294.9" y1="425.8" x2="294.9" y2="420.1" stroke="#cdcdcd" stroke-width="0.55"/>
<line x1="298.6" y1="422.5" x2="298.6" y2="416.1" stroke="#cdcdcd" stroke-width="0.55"/>
<line x1="302.3" y1="423.0" x2="302.3" y2="412.4" stroke="#cdcdcd" stroke-width="0.55"/>
<line x1="306.2" y1="422.2" x2="306.2" y2="413.1" stroke="#cdcdcd" stroke-width="0.55"/>
<line x1="310.0" y1="429.4" x2="310.0" y2="419.8" stroke="#cdcdcd" stroke-width="0.55"/>
<line x1="313.8" y1="426.9" x2="313.8" y2="418.0" stroke="#cdcdcd" stroke-width="0.55"/>
<line x1="317.3" y1="426.9" x2="317.3" y2="418.3" stroke="#cdcdcd" stroke-width="0.55"/>
<line x1="321.0" y1="433.8" x2="321.0" y2="425.7" stroke="#cdcdcd" stroke-width="0.55"/>
<line x1="324.6" y1="436.8" x2="324.6" y2="428.6" stroke="#cdcdcd" stroke-width="0.55"/>
<line x1="328.1" y1="430.4" x2="328.1" y2="423.5" stroke="#cdcdcd" stroke-width="0.55"/>
<line x1="331.7" y1="432.3" x2="331.7" y2="425.7" stroke="#cdcdcd" stroke-width="0.55"/>
<line x1="256.5" y1="470.8" x2="256.5" y2="466.8" stroke="#cdcdcd" stroke-width="0.55"/>
<line x1="255.9" y1="466.8" x2="257.1" y2="466.8" stroke="#cdcdcd" stroke-width="0.4"/>
<line x1="260.3" y1="469.7" x2="260.3" y2="463.7" stroke="#cdcdcd" stroke-width="0.55"/>
<line x1="259.7" y1="463.7" x2="260.9" y2="463.7" stroke="#cdcdcd" stroke-width="0.4"/>
<line x1="264.1" y1="469.7" x2="264.1" y2="461.7" stroke="#cdcdcd" stroke-width="0.55"/>
<line x1="263.5" y1="461.7" x2="264.7" y2="461.7" stroke="#cdcdcd" stroke-width="0.4"/>
<line x1="268.1" y1="469.3" x2="268.1" y2="461.3" stroke="#cdcdcd" stroke-width="0.55"/>
<line x1="267.5" y1="461.3" x2="268.7" y2="461.3" stroke="#cdcdcd" stroke-width="0.4"/>
<line x1="272.1" y1="467.8" x2="272.1" y2="458.8" stroke="#cdcdcd" stroke-width="0.55"/>
<line x1="271.5" y1="458.8" x2="272.7" y2="458.8" stroke="#cdcdcd" stroke-width="0.4"/>
<line x1="276.0" y1="465.6" x2="276.0" y2="456.6" stroke="#cdcdcd" stroke-width="0.55"/>
<line x1="275.4" y1="456.6" x2="276.6" y2="456.6" stroke="#cdcdcd" stroke-width="0.4"/>
<line x1="280.1" y1="458.9" x2="280.1" y2="448.9" stroke="#cdcdcd" stroke-width="0.55"/>
<line x1="279.5" y1="448.9" x2="280.7" y2="448.9" stroke="#cdcdcd" stroke-width="0.4"/>
<line x1="284.0" y1="461.2" x2="284.0" y2="451.2" stroke="#cdcdcd" stroke-width="0.55"/>
<line x1="283.4" y1="451.2" x2="284.6" y2="451.2" stroke="#cdcdcd" stroke-width="0.4"/>
<line x1="287.7" y1="457.5" x2="287.7" y2="447.5" stroke="#cdcdcd" stroke-width="0.55"/>
<line x1="287.1" y1="447.5" x2="288.3" y2="447.5" stroke="#cdcdcd" stroke-width="0.4"/>
<line x1="291.3" y1="456.7" x2="291.3" y2="446.7" stroke="#cdcdcd" stroke-width="0.55"/>
<line x1="290.7" y1="446.7" x2="291.9" y2="446.7" stroke="#cdcdcd" stroke-width="0.4"/>
<line x1="294.9" y1="456.0" x2="294.9" y2="446.0" stroke="#cdcdcd" stroke-width="0.55"/>
<line x1="294.3" y1="446.0" x2="295.5" y2="446.0" stroke="#cdcdcd" stroke-width="0.4"/>
<line x1="298.6" y1="455.2" x2="298.6" y2="445.2" stroke="#cdcdcd" stroke-width="0.55"/>
<line x1="298.0" y1="445.2" x2="299.2" y2="445.2" stroke="#cdcdcd" stroke-width="0.4"/>
<line x1="302.3" y1="455.0" x2="302.3" y2="445.0" stroke="#cdcdcd" stroke-width="0.55"/>
<line x1="301.7" y1="445.0" x2="302.9" y2="445.0" stroke="#cdcdcd" stroke-width="0.4"/>
<line x1="306.2" y1="455.3" x2="306.2" y2="445.3" stroke="#cdcdcd" stroke-width="0.55"/>
<line x1="305.6" y1="445.3" x2="306.8" y2="445.3" stroke="#cdcdcd" stroke-width="0.4"/>
<line x1="310.0" y1="454.5" x2="310.0" y2="444.5" stroke="#cdcdcd" stroke-width="0.55"/>
<line x1="309.4" y1="444.5" x2="310.6" y2="444.5" stroke="#cdcdcd" stroke-width="0.4"/>
<line x1="313.8" y1="453.8" x2="313.8" y2="443.8" stroke="#cdcdcd" stroke-width="0.55"/>
<line x1="313.2" y1="443.8" x2="314.4" y2="443.8" stroke="#cdcdcd" stroke-width="0.4"/>
<line x1="317.3" y1="453.0" x2="317.3" y2="443.0" stroke="#cdcdcd" stroke-width="0.55"/>
<line x1="316.7" y1="443.0" x2="317.9" y2="443.0" stroke="#cdcdcd" stroke-width="0.4"/>
<line x1="321.0" y1="454.5" x2="321.0" y2="444.5" stroke="#cdcdcd" stroke-width="0.55"/>
<line x1="320.4" y1="444.5" x2="321.6" y2="444.5" stroke="#cdcdcd" stroke-width="0.4"/>
<line x1="324.6" y1="455.2" x2="324.6" y2="445.2" stroke="#cdcdcd" stroke-width="0.55"/>
<line x1="324.0" y1="445.2" x2="325.2" y2="445.2" stroke="#cdcdcd" stroke-width="0.4"/>
<line x1="328.1" y1="454.9" x2="328.1" y2="444.9" stroke="#cdcdcd" stroke-width="0.55"/>
<line x1="327.5" y1="444.9" x2="328.7" y2="444.9" stroke="#cdcdcd" stroke-width="0.4"/>
<line x1="331.7" y1="454.9" x2="331.7" y2="444.9" stroke="#cdcdcd" stroke-width="0.55"/>
<line x1="331.1" y1="444.9" x2="332.3" y2="444.9" stroke="#cdcdcd" stroke-width="0.4"/>
<line x1="256.5" y1="467.1" x2="256.5" y2="461.1" stroke="#cdcdcd" stroke-width="0.55"/>
<line x1="255.9" y1="461.1" x2="257.1" y2="461.1" stroke="#cdcdcd" stroke-width="0.4"/>
<line x1="260.3" y1="460.9" x2="260.3" y2="452.9" stroke="#cdcdcd" stroke-width="0.55"/>
<line x1="259.7" y1="452.9" x2="260.9" y2="452.9" stroke="#cdcdcd" stroke-width="0.4"/>
<line x1="264.1" y1="461.9" x2="264.1" y2="453.9" stroke="#cdcdcd" stroke-width="0.55"/>
<line x1="263.5" y1="453.9" x2="264.7" y2="453.9" stroke="#cdcdcd" stroke-width="0.4"/>
<line x1="268.1" y1="462.3" x2="268.1" y2="454.3" stroke="#cdcdcd" stroke-width="0.55"/>
<line x1="267.5" y1="454.3" x2="268.7" y2="454.3" stroke="#cdcdcd" stroke-width="0.4"/>
<line x1="272.1" y1="460.9" x2="272.1" y2="452.9" stroke="#cdcdcd" stroke-width="0.55"/>
<line x1="271.5" y1="452.9" x2="272.7" y2="452.9" stroke="#cdcdcd" stroke-width="0.4"/>
<line x1="276.0" y1="464.1" x2="276.0" y2="458.1" stroke="#cdcdcd" stroke-width="0.55"/>
<line x1="275.4" y1="458.1" x2="276.6" y2="458.1" stroke="#cdcdcd" stroke-width="0.4"/>
<line x1="280.1" y1="463.8" x2="280.1" y2="457.8" stroke="#cdcdcd" stroke-width="0.55"/>
<line x1="279.5" y1="457.8" x2="280.7" y2="457.8" stroke="#cdcdcd" stroke-width="0.4"/>
<line x1="284.0" y1="461.9" x2="284.0" y2="455.9" stroke="#cdcdcd" stroke-width="0.55"/>
<line x1="283.4" y1="455.9" x2="284.6" y2="455.9" stroke="#cdcdcd" stroke-width="0.4"/>
<line x1="287.7" y1="460.9" x2="287.7" y2="454.9" stroke="#cdcdcd" stroke-width="0.55"/>
<line x1="287.1" y1="454.9" x2="288.3" y2="454.9" stroke="#cdcdcd" stroke-width="0.4"/>
<line x1="291.3" y1="462.3" x2="291.3" y2="456.3" stroke="#cdcdcd" stroke-width="0.55"/>
<line x1="290.7" y1="456.3" x2="291.9" y2="456.3" stroke="#cdcdcd" stroke-width="0.4"/>
<line x1="294.9" y1="460.9" x2="294.9" y2="454.9" stroke="#cdcdcd" stroke-width="0.55"/>
<line x1="294.3" y1="454.9" x2="295.5" y2="454.9" stroke="#cdcdcd" stroke-width="0.4"/>
<line x1="298.6" y1="461.9" x2="298.6" y2="455.9" stroke="#cdcdcd" stroke-width="0.55"/>
<line x1="298.0" y1="455.9" x2="299.2" y2="455.9" stroke="#cdcdcd" stroke-width="0.4"/>
<line x1="302.3" y1="463.4" x2="302.3" y2="457.4" stroke="#cdcdcd" stroke-width="0.55"/>
<line x1="301.7" y1="457.4" x2="302.9" y2="457.4" stroke="#cdcdcd" stroke-width="0.4"/>
<line x1="306.2" y1="465.0" x2="306.2" y2="459.0" stroke="#cdcdcd" stroke-width="0.55"/>
<line x1="305.6" y1="459.0" x2="306.8" y2="459.0" stroke="#cdcdcd" stroke-width="0.4"/>
<line x1="310.0" y1="458.5" x2="310.0" y2="452.5" stroke="#cdcdcd" stroke-width="0.55"/>
<line x1="309.4" y1="452.5" x2="310.6" y2="452.5" stroke="#cdcdcd" stroke-width="0.4"/>
<line x1="313.8" y1="465.6" x2="313.8" y2="459.6" stroke="#cdcdcd" stroke-width="0.55"/>
<line x1="313.2" y1="459.6" x2="314.4" y2="459.6" stroke="#cdcdcd" stroke-width="0.4"/>
<line x1="317.3" y1="463.4" x2="317.3" y2="457.4" stroke="#cdcdcd" stroke-width="0.55"/>
<line x1="316.7" y1="457.4" x2="317.9" y2="457.4" stroke="#cdcdcd" stroke-width="0.4"/>
<line x1="321.0" y1="461.5" x2="321.0" y2="455.5" stroke="#cdcdcd" stroke-width="0.55"/>
<line x1="320.4" y1="455.5" x2="321.6" y2="455.5" stroke="#cdcdcd" stroke-width="0.4"/>
<line x1="324.6" y1="462.9" x2="324.6" y2="456.9" stroke="#cdcdcd" stroke-width="0.55"/>
<line x1="324.0" y1="456.9" x2="325.2" y2="456.9" stroke="#cdcdcd" stroke-width="0.4"/>
<line x1="328.1" y1="464.4" x2="328.1" y2="458.4" stroke="#cdcdcd" stroke-width="0.55"/>
<line x1="327.5" y1="458.4" x2="328.7" y2="458.4" stroke="#cdcdcd" stroke-width="0.4"/>
<line x1="331.7" y1="469.3" x2="331.7" y2="463.3" stroke="#cdcdcd" stroke-width="0.55"/>
<line x1="331.1" y1="463.3" x2="332.3" y2="463.3" stroke="#cdcdcd" stroke-width="0.4"/>
<polyline points="252.7,472.2 256.5,472.2 260.3,471.8 264.1,470.0 268.1,469.7 272.1,470.8 276.0,469.7 280.1,470.0 284.0,470.0 287.7,471.2 291.3,470.0 294.9,472.2 298.6,468.6 302.3,469.7 306.2,470.6 310.0,468.5 313.8,471.2 317.3,468.5 321.0,469.7 324.6,469.3 328.1,469.3 331.7,470.0 334.6,474.2" fill="none" stroke="#26468c" stroke-width="0.85" stroke-linejoin="round"/>
<circle cx="252.7" cy="472.2" r="1.05" fill="#26468c"/>
<circle cx="256.5" cy="472.2" r="1.05" fill="#26468c"/>
<circle cx="260.3" cy="471.8" r="1.05" fill="#26468c"/>
<circle cx="264.1" cy="470.0" r="1.05" fill="#26468c"/>
<circle cx="268.1" cy="469.7" r="1.05" fill="#26468c"/>
<circle cx="272.1" cy="470.8" r="1.05" fill="#26468c"/>
<circle cx="276.0" cy="469.7" r="1.05" fill="#26468c"/>
<circle cx="280.1" cy="470.0" r="1.05" fill="#26468c"/>
<circle cx="284.0" cy="470.0" r="1.05" fill="#26468c"/>
<circle cx="287.7" cy="471.2" r="1.05" fill="#26468c"/>
<circle cx="291.3" cy="470.0" r="1.05" fill="#26468c"/>
<circle cx="294.9" cy="472.2" r="1.05" fill="#26468c"/>
<circle cx="298.6" cy="468.6" r="1.05" fill="#26468c"/>
<circle cx="302.3" cy="469.7" r="1.05" fill="#26468c"/>
<circle cx="306.2" cy="470.6" r="1.05" fill="#26468c"/>
<circle cx="310.0" cy="468.5" r="1.05" fill="#26468c"/>
<circle cx="313.8" cy="471.2" r="1.05" fill="#26468c"/>
<circle cx="317.3" cy="468.5" r="1.05" fill="#26468c"/>
<circle cx="321.0" cy="469.7" r="1.05" fill="#26468c"/>
<circle cx="324.6" cy="469.3" r="1.05" fill="#26468c"/>
<circle cx="328.1" cy="469.3" r="1.05" fill="#26468c"/>
<circle cx="331.7" cy="470.0" r="1.05" fill="#26468c"/>
<circle cx="334.6" cy="474.2" r="1.05" fill="#26468c"/>
<polyline points="252.7,470.8 256.5,467.1 260.3,460.9 264.1,461.9 268.1,462.3 272.1,460.9 276.0,464.1 280.1,463.8 284.0,461.9 287.7,460.9 291.3,462.3 294.9,460.9 298.6,461.9 302.3,463.4 306.2,465.0 310.0,458.5 313.8,465.6 317.3,463.4 321.0,461.5 324.6,462.9 328.1,464.4 331.7,469.3 334.6,464.4" fill="none" stroke="#5cae3c" stroke-width="0.85" stroke-linejoin="round"/>
<circle cx="252.7" cy="470.8" r="1.05" fill="#5cae3c"/>
<circle cx="256.5" cy="467.1" r="1.05" fill="#5cae3c"/>
<circle cx="260.3" cy="460.9" r="1.05" fill="#5cae3c"/>
<circle cx="264.1" cy="461.9" r="1.05" fill="#5cae3c"/>
<circle cx="268.1" cy="462.3" r="1.05" fill="#5cae3c"/>
<circle cx="272.1" cy="460.9" r="1.05" fill="#5cae3c"/>
<circle cx="276.0" cy="464.1" r="1.05" fill="#5cae3c"/>
<circle cx="280.1" cy="463.8" r="1.05" fill="#5cae3c"/>
<circle cx="284.0" cy="461.9" r="1.05" fill="#5cae3c"/>
<circle cx="287.7" cy="460.9" r="1.05" fill="#5cae3c"/>
<circle cx="291.3" cy="462.3" r="1.05" fill="#5cae3c"/>
<circle cx="294.9" cy="460.9" r="1.05" fill="#5cae3c"/>
<circle cx="298.6" cy="461.9" r="1.05" fill="#5cae3c"/>
<circle cx="302.3" cy="463.4" r="1.05" fill="#5cae3c"/>
<circle cx="306.2" cy="465.0" r="1.05" fill="#5cae3c"/>
<circle cx="310.0" cy="458.5" r="1.05" fill="#5cae3c"/>
<circle cx="313.8" cy="465.6" r="1.05" fill="#5cae3c"/>
<circle cx="317.3" cy="463.4" r="1.05" fill="#5cae3c"/>
<circle cx="321.0" cy="461.5" r="1.05" fill="#5cae3c"/>
<circle cx="324.6" cy="462.9" r="1.05" fill="#5cae3c"/>
<circle cx="328.1" cy="464.4" r="1.05" fill="#5cae3c"/>
<circle cx="331.7" cy="469.3" r="1.05" fill="#5cae3c"/>
<circle cx="334.6" cy="464.4" r="1.05" fill="#5cae3c"/>
<polyline points="252.7,471.8 256.5,471.2 260.3,470.3 264.1,470.0 268.1,469.7 272.1,468.5 276.0,465.6 280.1,463.4 284.0,461.2 287.7,458.9 291.3,457.0 294.9,455.6 298.6,454.5 302.3,453.8 306.2,452.8 310.0,454.1 313.8,453.0 317.3,453.0 321.0,454.1 324.6,453.0 328.1,454.5 331.7,454.5 334.6,455.5" fill="none" stroke="#c0123a" stroke-width="0.85" stroke-linejoin="round"/>
<circle cx="252.7" cy="471.8" r="1.05" fill="#c0123a"/>
<circle cx="256.5" cy="471.2" r="1.05" fill="#c0123a"/>
<circle cx="260.3" cy="470.3" r="1.05" fill="#c0123a"/>
<circle cx="264.1" cy="470.0" r="1.05" fill="#c0123a"/>
<circle cx="268.1" cy="469.7" r="1.05" fill="#c0123a"/>
<circle cx="272.1" cy="468.5" r="1.05" fill="#c0123a"/>
<circle cx="276.0" cy="465.6" r="1.05" fill="#c0123a"/>
<circle cx="280.1" cy="463.4" r="1.05" fill="#c0123a"/>
<circle cx="284.0" cy="461.2" r="1.05" fill="#c0123a"/>
<circle cx="287.7" cy="458.9" r="1.05" fill="#c0123a"/>
<circle cx="291.3" cy="457.0" r="1.05" fill="#c0123a"/>
<circle cx="294.9" cy="455.6" r="1.05" fill="#c0123a"/>
<circle cx="298.6" cy="454.5" r="1.05" fill="#c0123a"/>
<circle cx="302.3" cy="453.8" r="1.05" fill="#c0123a"/>
<circle cx="306.2" cy="452.8" r="1.05" fill="#c0123a"/>
<circle cx="310.0" cy="454.1" r="1.05" fill="#c0123a"/>
<circle cx="313.8" cy="453.0" r="1.05" fill="#c0123a"/>
<circle cx="317.3" cy="453.0" r="1.05" fill="#c0123a"/>
<circle cx="321.0" cy="454.1" r="1.05" fill="#c0123a"/>
<circle cx="324.6" cy="453.0" r="1.05" fill="#c0123a"/>
<circle cx="328.1" cy="454.5" r="1.05" fill="#c0123a"/>
<circle cx="331.7" cy="454.5" r="1.05" fill="#c0123a"/>
<circle cx="334.6" cy="455.5" r="1.05" fill="#c0123a"/>
<polyline points="252.7,471.8 256.5,470.8 260.3,469.7 264.1,469.7 268.1,469.3 272.1,467.8 276.0,465.6 280.1,458.9 284.0,461.2 287.7,457.5 291.3,456.7 294.9,456.0 298.6,455.2 302.3,455.0 306.2,455.3 310.0,454.5 313.8,453.8 317.3,453.0 321.0,454.5 324.6,455.2 328.1,454.9 331.7,454.9 334.6,456.0" fill="none" stroke="#48196e" stroke-width="0.85" stroke-linejoin="round"/>
<circle cx="252.7" cy="471.8" r="1.05" fill="#48196e"/>
<circle cx="256.5" cy="470.8" r="1.05" fill="#48196e"/>
<circle cx="260.3" cy="469.7" r="1.05" fill="#48196e"/>
<circle cx="264.1" cy="469.7" r="1.05" fill="#48196e"/>
<circle cx="268.1" cy="469.3" r="1.05" fill="#48196e"/>
<circle cx="272.1" cy="467.8" r="1.05" fill="#48196e"/>
<circle cx="276.0" cy="465.6" r="1.05" fill="#48196e"/>
<circle cx="280.1" cy="458.9" r="1.05" fill="#48196e"/>
<circle cx="284.0" cy="461.2" r="1.05" fill="#48196e"/>
<circle cx="287.7" cy="457.5" r="1.05" fill="#48196e"/>
<circle cx="291.3" cy="456.7" r="1.05" fill="#48196e"/>
<circle cx="294.9" cy="456.0" r="1.05" fill="#48196e"/>
<circle cx="298.6" cy="455.2" r="1.05" fill="#48196e"/>
<circle cx="302.3" cy="455.0" r="1.05" fill="#48196e"/>
<circle cx="306.2" cy="455.3" r="1.05" fill="#48196e"/>
<circle cx="310.0" cy="454.5" r="1.05" fill="#48196e"/>
<circle cx="313.8" cy="453.8" r="1.05" fill="#48196e"/>
<circle cx="317.3" cy="453.0" r="1.05" fill="#48196e"/>
<circle cx="321.0" cy="454.5" r="1.05" fill="#48196e"/>
<circle cx="324.6" cy="455.2" r="1.05" fill="#48196e"/>
<circle cx="328.1" cy="454.9" r="1.05" fill="#48196e"/>
<circle cx="331.7" cy="454.9" r="1.05" fill="#48196e"/>
<circle cx="334.6" cy="456.0" r="1.05" fill="#48196e"/>
<polyline points="252.7,470.3 256.5,467.8 260.3,465.6 264.1,461.2 268.1,453.8 272.1,449.3 276.0,441.2 280.1,436.0 284.0,431.6 287.7,427.5 291.3,429.4 294.9,425.8 298.6,422.5 302.3,423.0 306.2,422.2 310.0,429.4 313.8,426.9 317.3,426.9 321.0,433.8 324.6,436.8 328.1,430.4 331.7,432.3 334.6,442.2" fill="none" stroke="#ea9418" stroke-width="0.85" stroke-linejoin="round"/>
<circle cx="252.7" cy="470.3" r="1.05" fill="#ea9418"/>
<circle cx="256.5" cy="467.8" r="1.05" fill="#ea9418"/>
<circle cx="260.3" cy="465.6" r="1.05" fill="#ea9418"/>
<circle cx="264.1" cy="461.2" r="1.05" fill="#ea9418"/>
<circle cx="268.1" cy="453.8" r="1.05" fill="#ea9418"/>
<circle cx="272.1" cy="449.3" r="1.05" fill="#ea9418"/>
<circle cx="276.0" cy="441.2" r="1.05" fill="#ea9418"/>
<circle cx="280.1" cy="436.0" r="1.05" fill="#ea9418"/>
<circle cx="284.0" cy="431.6" r="1.05" fill="#ea9418"/>
<circle cx="287.7" cy="427.5" r="1.05" fill="#ea9418"/>
<circle cx="291.3" cy="429.4" r="1.05" fill="#ea9418"/>
<circle cx="294.9" cy="425.8" r="1.05" fill="#ea9418"/>
<circle cx="298.6" cy="422.5" r="1.05" fill="#ea9418"/>
<circle cx="302.3" cy="423.0" r="1.05" fill="#ea9418"/>
<circle cx="306.2" cy="422.2" r="1.05" fill="#ea9418"/>
<circle cx="310.0" cy="429.4" r="1.05" fill="#ea9418"/>
<circle cx="313.8" cy="426.9" r="1.05" fill="#ea9418"/>
<circle cx="317.3" cy="426.9" r="1.05" fill="#ea9418"/>
<circle cx="321.0" cy="433.8" r="1.05" fill="#ea9418"/>
<circle cx="324.6" cy="436.8" r="1.05" fill="#ea9418"/>
<circle cx="328.1" cy="430.4" r="1.05" fill="#ea9418"/>
<circle cx="331.7" cy="432.3" r="1.05" fill="#ea9418"/>
<circle cx="334.6" cy="442.2" r="1.05" fill="#ea9418"/>
<line x1="252.5" y1="410.2" x2="252.5" y2="475.2" stroke="#111" stroke-width="1.1"/>
<line x1="249.1" y1="413.1" x2="252.5" y2="413.1" stroke="#111" stroke-width="0.8"/>
<text x="246.1" y="415.70000000000005" font-size="6.6" text-anchor="end" fill="#1a1a1a" font-weight="normal" stroke="#1a1a1a" stroke-width="0.260" textLength="11.55" lengthAdjust="spacingAndGlyphs">200</text>
<line x1="249.1" y1="427.5" x2="252.5" y2="427.5" stroke="#111" stroke-width="0.8"/>
<text x="246.1" y="430.1" font-size="6.6" text-anchor="end" fill="#1a1a1a" font-weight="normal" stroke="#1a1a1a" stroke-width="0.260" textLength="11.55" lengthAdjust="spacingAndGlyphs">150</text>
<line x1="249.1" y1="441.9" x2="252.5" y2="441.9" stroke="#111" stroke-width="0.8"/>
<text x="246.1" y="444.5" font-size="6.6" text-anchor="end" fill="#1a1a1a" font-weight="normal" stroke="#1a1a1a" stroke-width="0.260" textLength="11.55" lengthAdjust="spacingAndGlyphs">100</text>
<line x1="249.1" y1="456.4" x2="252.5" y2="456.4" stroke="#111" stroke-width="0.8"/>
<text x="246.1" y="459.0" font-size="6.6" text-anchor="end" fill="#1a1a1a" font-weight="normal" stroke="#1a1a1a" stroke-width="0.260" textLength="7.7" lengthAdjust="spacingAndGlyphs">50</text>
<line x1="249.1" y1="470.8" x2="252.5" y2="470.8" stroke="#111" stroke-width="0.8"/>
<text x="246.1" y="473.40000000000003" font-size="6.6" text-anchor="end" fill="#1a1a1a" font-weight="normal" stroke="#1a1a1a" stroke-width="0.260" textLength="3.85" lengthAdjust="spacingAndGlyphs">0</text>
<line x1="252.0" y1="474.4" x2="337.2" y2="474.4" stroke="#111" stroke-width="1.1"/>
<line x1="252.5" y1="474.4" x2="252.5" y2="477.4" stroke="#111" stroke-width="0.9"/>
<text x="252.5" y="487.3" font-size="6.6" text-anchor="middle" fill="#1a1a1a" font-weight="normal" stroke="#1a1a1a" stroke-width="0.260" textLength="3.7" lengthAdjust="spacingAndGlyphs">0</text>
<line x1="266.2" y1="474.4" x2="266.2" y2="477.4" stroke="#111" stroke-width="0.9"/>
<text x="266.2" y="487.3" font-size="6.6" text-anchor="middle" fill="#1a1a1a" font-weight="normal" stroke="#1a1a1a" stroke-width="0.260" textLength="7.4" lengthAdjust="spacingAndGlyphs">30</text>
<line x1="279.9" y1="474.4" x2="279.9" y2="477.4" stroke="#111" stroke-width="0.9"/>
<text x="279.9" y="487.3" font-size="6.6" text-anchor="middle" fill="#1a1a1a" font-weight="normal" stroke="#1a1a1a" stroke-width="0.260" textLength="7.4" lengthAdjust="spacingAndGlyphs">60</text>
<line x1="293.7" y1="474.4" x2="293.7" y2="477.4" stroke="#111" stroke-width="0.9"/>
<text x="293.7" y="487.3" font-size="6.6" text-anchor="middle" fill="#1a1a1a" font-weight="normal" stroke="#1a1a1a" stroke-width="0.260" textLength="7.4" lengthAdjust="spacingAndGlyphs">90</text>
<line x1="307.4" y1="474.4" x2="307.4" y2="477.4" stroke="#111" stroke-width="0.9"/>
<text x="307.4" y="487.3" font-size="6.6" text-anchor="middle" fill="#1a1a1a" font-weight="normal" stroke="#1a1a1a" stroke-width="0.260" textLength="11.1" lengthAdjust="spacingAndGlyphs">120</text>
<line x1="321.1" y1="474.4" x2="321.1" y2="477.4" stroke="#111" stroke-width="0.9"/>
<text x="321.1" y="487.3" font-size="6.6" text-anchor="middle" fill="#1a1a1a" font-weight="normal" stroke="#1a1a1a" stroke-width="0.260" textLength="11.1" lengthAdjust="spacingAndGlyphs">150</text>
<line x1="334.8" y1="474.4" x2="334.8" y2="477.4" stroke="#111" stroke-width="0.9"/>
<text x="334.8" y="487.3" font-size="6.6" text-anchor="middle" fill="#1a1a1a" font-weight="normal" stroke="#1a1a1a" stroke-width="0.260" textLength="11.1" lengthAdjust="spacingAndGlyphs">180</text>
<text x="295.4" y="499.0" font-size="8.6" text-anchor="middle" fill="#1a1a1a" font-weight="normal" stroke="#1a1a1a" stroke-width="0.339" textLength="27.9" lengthAdjust="spacingAndGlyphs">Time (sec)</text>
<text x="229.2" y="441.6" font-size="8.4" text-anchor="middle" fill="#1a1a1a" font-weight="normal" stroke="#1a1a1a" stroke-width="0.331" textLength="29.0" lengthAdjust="spacingAndGlyphs" transform="rotate(-90 229.2 441.6)">Fibrin MFI</text>
<path d="M337.4,431.7 H339.9 V456.4 H337.4" fill="none" stroke="#111" stroke-width="1"/>
<circle cx="342.20" cy="442.9" r="0.78" fill="#222"/>
<circle cx="344.27" cy="442.9" r="0.78" fill="#222"/>
<circle cx="346.34" cy="442.9" r="0.78" fill="#222"/>
<circle cx="348.41" cy="442.9" r="0.78" fill="#222"/>
<path d="M337.4,457.3 H339.9 V473.2 H337.4" fill="none" stroke="#111" stroke-width="1"/>
<circle cx="342.20" cy="464.9" r="0.78" fill="#222"/>
<circle cx="344.27" cy="464.9" r="0.78" fill="#222"/>
<circle cx="346.34" cy="464.9" r="0.78" fill="#222"/>
<circle cx="348.41" cy="464.9" r="0.78" fill="#222"/>
<line x1="406.5" y1="32.2" x2="406.5" y2="103.9" stroke="#111" stroke-width="1.1"/>
<line x1="403.1" y1="35.0" x2="406.5" y2="35.0" stroke="#111" stroke-width="0.8"/>
<text x="400.1" y="37.6" font-size="6.2" text-anchor="end" fill="#1a1a1a" font-weight="normal" stroke="#1a1a1a" stroke-width="0.244" textLength="15.4" lengthAdjust="spacingAndGlyphs">1000</text>
<line x1="403.1" y1="48.7" x2="406.5" y2="48.7" stroke="#111" stroke-width="0.8"/>
<text x="400.1" y="51.300000000000004" font-size="6.2" text-anchor="end" fill="#1a1a1a" font-weight="normal" stroke="#1a1a1a" stroke-width="0.244" textLength="11.55" lengthAdjust="spacingAndGlyphs">800</text>
<line x1="403.1" y1="62.6" x2="406.5" y2="62.6" stroke="#111" stroke-width="0.8"/>
<text x="400.1" y="65.2" font-size="6.2" text-anchor="end" fill="#1a1a1a" font-weight="normal" stroke="#1a1a1a" stroke-width="0.244" textLength="11.55" lengthAdjust="spacingAndGlyphs">600</text>
<line x1="403.1" y1="76.3" x2="406.5" y2="76.3" stroke="#111" stroke-width="0.8"/>
<text x="400.1" y="78.89999999999999" font-size="6.2" text-anchor="end" fill="#1a1a1a" font-weight="normal" stroke="#1a1a1a" stroke-width="0.244" textLength="11.55" lengthAdjust="spacingAndGlyphs">400</text>
<line x1="403.1" y1="89.9" x2="406.5" y2="89.9" stroke="#111" stroke-width="0.8"/>
<text x="400.1" y="92.5" font-size="6.2" text-anchor="end" fill="#1a1a1a" font-weight="normal" stroke="#1a1a1a" stroke-width="0.244" textLength="11.55" lengthAdjust="spacingAndGlyphs">200</text>
<line x1="403.1" y1="103.1" x2="406.5" y2="103.1" stroke="#111" stroke-width="0.8"/>
<text x="400.1" y="105.69999999999999" font-size="6.2" text-anchor="end" fill="#1a1a1a" font-weight="normal" stroke="#1a1a1a" stroke-width="0.244" textLength="3.85" lengthAdjust="spacingAndGlyphs">0</text>
<line x1="405.5" y1="103.4" x2="508.8" y2="103.4" stroke="#111" stroke-width="1.1"/>
<line x1="435.5" y1="103.4" x2="435.5" y2="105.8" stroke="#111" stroke-width="0.8"/>
<line x1="479.6" y1="103.4" x2="479.6" y2="105.8" stroke="#111" stroke-width="0.8"/>
<text x="435.7" y="115.3" font-size="6.4" text-anchor="middle" fill="#1a1a1a" font-weight="normal" stroke="#1a1a1a" stroke-width="0.252" textLength="20.6" lengthAdjust="spacingAndGlyphs">Control</text>
<text x="470.30" y="115.3" font-size="6.4" fill="#1a1a1a" stroke="#1a1a1a" stroke-width="0.26" textLength="12.85" lengthAdjust="spacingAndGlyphs">DPA</text>
<text x="483.25" y="117.20" font-size="4.3" fill="#1a1a1a" stroke="#1a1a1a" stroke-width="0.20" textLength="6.45" lengthAdjust="spacingAndGlyphs">n-6</text>
<text x="369.3" y="67.2" font-size="7.3" text-anchor="middle" fill="#1a1a1a" font-weight="normal" stroke="#1a1a1a" stroke-width="0.288" textLength="67.6" lengthAdjust="spacingAndGlyphs" transform="rotate(-90 369.3 67.2)">Cumulative bleeding time</text>
<text x="380.2" y="67.7" font-size="7.3" text-anchor="middle" fill="#1a1a1a" font-weight="normal" stroke="#1a1a1a" stroke-width="0.288" textLength="25.0" lengthAdjust="spacingAndGlyphs" transform="rotate(-90 380.2 67.7)">(seconds)</text>
<path d="M436,91.7 V89.4 M428,89.4 H442.6" stroke="#888" stroke-width="0.7" fill="none"/>
<circle cx="435.6" cy="52.8" r="1.95" fill="#2f5090" stroke="#0a1530" stroke-width="0.65"/>
<circle cx="435.6" cy="62.7" r="1.95" fill="#2f5090" stroke="#0a1530" stroke-width="0.65"/>
<circle cx="435.6" cy="74.8" r="1.95" fill="#2f5090" stroke="#0a1530" stroke-width="0.65"/>
<circle cx="436.2" cy="86.8" r="1.95" fill="#2f5090" stroke="#0a1530" stroke-width="0.65"/>
<circle cx="424.9" cy="95.5" r="1.95" fill="#2f5090" stroke="#0a1530" stroke-width="0.65"/>
<circle cx="423.4" cy="98.6" r="1.95" fill="#2f5090" stroke="#0a1530" stroke-width="0.65"/>
<circle cx="427.2" cy="97.1" r="1.95" fill="#2f5090" stroke="#0a1530" stroke-width="0.65"/>
<circle cx="429.5" cy="95.1" r="1.95" fill="#2f5090" stroke="#0a1530" stroke-width="0.65"/>
<circle cx="431.1" cy="98.6" r="1.95" fill="#2f5090" stroke="#0a1530" stroke-width="0.65"/>
<circle cx="432.6" cy="96.3" r="1.95" fill="#2f5090" stroke="#0a1530" stroke-width="0.65"/>
<circle cx="434.2" cy="99.4" r="1.95" fill="#2f5090" stroke="#0a1530" stroke-width="0.65"/>
<circle cx="435.2" cy="93.5" r="1.95" fill="#2f5090" stroke="#0a1530" stroke-width="0.65"/>
<circle cx="436.2" cy="96" r="1.95" fill="#2f5090" stroke="#0a1530" stroke-width="0.65"/>
<circle cx="437.2" cy="98.6" r="1.95" fill="#2f5090" stroke="#0a1530" stroke-width="0.65"/>
<circle cx="439.5" cy="97.1" r="1.95" fill="#2f5090" stroke="#0a1530" stroke-width="0.65"/>
<circle cx="441.1" cy="95.1" r="1.95" fill="#2f5090" stroke="#0a1530" stroke-width="0.65"/>
<circle cx="442.6" cy="99.1" r="1.95" fill="#2f5090" stroke="#0a1530" stroke-width="0.65"/>
<circle cx="444.2" cy="97.1" r="1.95" fill="#2f5090" stroke="#0a1530" stroke-width="0.65"/>
<circle cx="446.5" cy="98.2" r="1.95" fill="#2f5090" stroke="#0a1530" stroke-width="0.65"/>
<circle cx="448" cy="97.1" r="1.95" fill="#2f5090" stroke="#0a1530" stroke-width="0.65"/>
<circle cx="449.5" cy="96.3" r="1.95" fill="#2f5090" stroke="#0a1530" stroke-width="0.65"/>
<circle cx="425.7" cy="99.4" r="1.95" fill="#2f5090" stroke="#0a1530" stroke-width="0.65"/>
<circle cx="438" cy="94.2" r="1.95" fill="#2f5090" stroke="#0a1530" stroke-width="0.65"/>
<line x1="421.1" y1="91.7" x2="450.3" y2="91.7" stroke="#111" stroke-width="0.8"/>
<circle cx="479.6" cy="79.3" r="1.9" fill="#fff" stroke="#c83050" stroke-width="0.75"/>
<circle cx="466.5" cy="94" r="1.9" fill="#fff" stroke="#c83050" stroke-width="0.75"/>
<circle cx="468.8" cy="92.5" r="1.9" fill="#fff" stroke="#c83050" stroke-width="0.75"/>
<circle cx="471.8" cy="92" r="1.9" fill="#fff" stroke="#c83050" stroke-width="0.75"/>
<circle cx="474.2" cy="93.2" r="1.9" fill="#fff" stroke="#c83050" stroke-width="0.75"/>
<circle cx="476.5" cy="92.5" r="1.9" fill="#fff" stroke="#c83050" stroke-width="0.75"/>
<circle cx="478.8" cy="92.5" r="1.9" fill="#fff" stroke="#c83050" stroke-width="0.75"/>
<circle cx="481.1" cy="93.2" r="1.9" fill="#fff" stroke="#c83050" stroke-width="0.75"/>
<circle cx="485.7" cy="93.5" r="1.9" fill="#fff" stroke="#c83050" stroke-width="0.75"/>
<circle cx="488" cy="92.5" r="1.9" fill="#fff" stroke="#c83050" stroke-width="0.75"/>
<circle cx="491.8" cy="91.7" r="1.9" fill="#fff" stroke="#c83050" stroke-width="0.75"/>
<circle cx="470.3" cy="98.6" r="1.9" fill="#fff" stroke="#c83050" stroke-width="0.75"/>
<circle cx="473.4" cy="96.6" r="1.9" fill="#fff" stroke="#c83050" stroke-width="0.75"/>
<circle cx="477.2" cy="97.8" r="1.9" fill="#fff" stroke="#c83050" stroke-width="0.75"/>
<circle cx="480.3" cy="98.6" r="1.9" fill="#fff" stroke="#c83050" stroke-width="0.75"/>
<circle cx="483.4" cy="99.4" r="1.9" fill="#fff" stroke="#c83050" stroke-width="0.75"/>
<circle cx="485.7" cy="97.1" r="1.9" fill="#fff" stroke="#c83050" stroke-width="0.75"/>
<circle cx="488.8" cy="99.4" r="1.9" fill="#fff" stroke="#c83050" stroke-width="0.75"/>
<circle cx="467.2" cy="95.5" r="1.9" fill="#fff" stroke="#c83050" stroke-width="0.75"/>
<line x1="465.2" y1="94.4" x2="493.9" y2="94.4" stroke="#222" stroke-width="1.1"/>
<path d="M479.6,94 V92.3 M475,92.3 H484" stroke="#666" stroke-width="0.5" fill="none"/>
<rect x="368.9" y="172" width="143.2" height="9.8" fill="#aabfea"/>
<rect x="368.9" y="172" width="143.2" height="2.2" fill="#7088c0"/>
<rect x="368.9" y="179.5" width="143.2" height="2.3" fill="#7088c0"/>
<rect x="368.9" y="176.6" width="143.2" height="0.5" fill="#9cb2e0"/>
<circle cx="390.8" cy="148.4" r="5.9" fill="url(#sg390148)"/>
<circle cx="434.4" cy="148.4" r="5.9" fill="url(#sg434148)"/>
<circle cx="375.1" cy="229.0" r="6.0" fill="url(#sg375229)"/>
<circle cx="407.8" cy="229.0" r="6.0" fill="url(#sg407229)"/>
<path d="M398.8,149.4 L403.0,147.4 L402.0,149.4 L403.0,151.4 Z" fill="#111"/>
<path d="M407.7,149.4 L411.9,147.4 L410.9,149.4 L411.9,151.4 Z" fill="#111"/>
<path d="M414.8,149.4 L419.0,147.4 L418.0,149.4 L419.0,151.4 Z" fill="#111"/>
<line x1="409.5" y1="149.4" x2="412.9" y2="149.4" stroke="#111" stroke-width="0.8"/>
<line x1="416.5" y1="149.4" x2="420.3" y2="149.4" stroke="#111" stroke-width="0.8"/>
<rect x="405" y="148.9" width="1.1" height="1.1" fill="#111"/>
<line x1="421.8" y1="149.4" x2="424" y2="149.4" stroke="#111" stroke-width="0.8"/>
<text x="384.20" y="161.5" font-size="5.2" fill="#1a1a1a" stroke="#1a1a1a" stroke-width="0.13" textLength="10.30" lengthAdjust="spacingAndGlyphs">DPA</text>
<text x="394.60" y="162.50" font-size="3.4" fill="#1a1a1a" stroke="#1a1a1a" stroke-width="0.10" textLength="5.10" lengthAdjust="spacingAndGlyphs">n-6</text>
<text x="428.8" y="161.0" font-size="5.2" text-anchor="start" fill="#1a1a1a" font-weight="normal" stroke="#1a1a1a" stroke-width="0.102" textLength="14.7" lengthAdjust="spacingAndGlyphs">DGLA</text>
<line x1="392.2" y1="166.5" x2="392.2" y2="190.5" stroke="#333" stroke-width="0.8" stroke-dasharray="1,1.8"/>
<ellipse cx="391" cy="200.8" rx="13.8" ry="9.7" fill="#e2ece6" stroke="#444" stroke-width="0.9"/>
<text x="390.5" y="202.4" font-size="5.2" text-anchor="middle" fill="#1a1a1a" font-weight="normal" stroke="#1a1a1a" stroke-width="0.102" textLength="17.1" lengthAdjust="spacingAndGlyphs">12-LOX</text>
<line x1="391.9" y1="212.9" x2="391.9" y2="218.6" stroke="#333" stroke-width="0.8" stroke-dasharray="1,1.4"/>
<path d="M390.1,218.6 L393.7,218.6 L391.9,221.8 Z" fill="#111"/>
<text x="374.7" y="244.5" font-size="5.6" text-anchor="middle" fill="#1a1a1a" font-weight="normal" stroke="#1a1a1a" stroke-width="0.110" textLength="25.3" lengthAdjust="spacingAndGlyphs">11-HpDPA</text>
<text x="412.5" y="244.5" font-size="5.6" text-anchor="middle" fill="#1a1a1a" font-weight="normal" stroke="#1a1a1a" stroke-width="0.110" textLength="25.0" lengthAdjust="spacingAndGlyphs">14-HpDPA</text>
<text x="462.2" y="155.2" font-size="5.2" text-anchor="start" fill="#1a1a1a" font-weight="normal" stroke="#1a1a1a" stroke-width="0.102" textLength="12.7" lengthAdjust="spacingAndGlyphs">GPVI</text>
<path d="M461.2,158.4 A2.9,2.9 0 1 0 461.2,162.6 M461.2,165.9 A2.9,2.9 0 1 0 461.2,170.1" fill="none" stroke="#111" stroke-width="1.35"/>
<line x1="461.3" y1="156.6" x2="461.3" y2="187.5" stroke="#222" stroke-width="0.9"/>
<rect x="462.7" y="173" width="2.3" height="10.6" fill="#b0b0b0"/>
<rect x="462.7" y="183.5" width="2.3" height="4" fill="#e8c838"/>
<text x="480.9" y="163.7" font-size="5.2" text-anchor="start" fill="#1a1a1a" font-weight="normal" stroke="#1a1a1a" stroke-width="0.102" textLength="29.1" lengthAdjust="spacingAndGlyphs">PAR1/PAR4</text>
<g fill="none" stroke="#c43c3c" stroke-width="1.05">
<rect x="469.30" y="169.3" width="2.5" height="15.2" rx="1.25"/>
<rect x="473.02" y="169.3" width="2.5" height="15.2" rx="1.25"/>
<rect x="476.74" y="169.3" width="2.5" height="15.2" rx="1.25"/>
<rect x="480.46" y="169.3" width="2.5" height="15.2" rx="1.25"/>
<rect x="484.18" y="169.3" width="2.5" height="15.2" rx="1.25"/>
<path d="M470.3,168.2 C471.5,167 472.5,169 473.8,168 C475,167 476,168.6 477.5,167.8"/>
<path d="M487.3,184.2 C487.6,186 485,186.3 481.5,186.8"/>
</g>
<path d="M496.8,174.2 V183" stroke="#b090c8" stroke-width="0.7"/>
<path d="M498.6,174.2 V183" stroke="#e07090" stroke-width="0.7"/>
<path d="M497.5,181.5 C502,182 504,186.5 503.6,190.5 C503.2,194.5 500,196.8 496.5,196 C499.5,194 500.5,190 499.5,186 C499,184 498.2,182.5 497.5,181.5 Z" fill="#e07494"/>
<path d="M487.5,183.5 C490,181.2 494,181.6 494.8,184.5 C495.5,188 494.6,192 492.5,194 C490.5,195.2 487.5,194.2 486.6,191 C485.8,188 486,185 487.5,183.5 Z" fill="#b898d2"/>
<path d="M494.5,183.2 C497.5,182.2 500.4,184.5 500.2,187.8 C500,191 497.5,192.6 495.2,192 C493.5,191.2 492.8,189 493.2,186.6 C493.4,185 493.8,183.8 494.5,183.2 Z" fill="#5aa55a"/>
<path d="M463.4,199.2 V204.2 H485.8 V199.2" fill="none" stroke="#333" stroke-width="0.8"/>
<line x1="474.3" y1="208.8" x2="474.3" y2="234.5" stroke="#6ab043" stroke-width="1.6" stroke-dasharray="1.4,1.3"/>
<path d="M471.7,234.2 L476.9,234.2 L474.3,240.5 Z" fill="#6ab043"/>
<line x1="474.3" y1="273.5" x2="474.3" y2="291.5" stroke="#6ab043" stroke-width="1.6" stroke-dasharray="1.4,1.3"/>
<path d="M471.6,291.2 L476.9,291.2 L474.3,297.2 Z" fill="#6ab043"/>
<line x1="442.2" y1="307.2" x2="451.6" y2="307.2" stroke="#6ab043" stroke-width="1.6" stroke-dasharray="1.4,1.3"/>
<path d="M451.4,304.6 L451.4,309.8 L457,307.2 Z" fill="#6ab043"/>
<circle cx="474.2" cy="256.5" r="13.9" fill="#fff" stroke="#8fa9da" stroke-width="2.4"/>
<text x="469.8" y="253.2" font-size="5.6" fill="#1a1a1a">Ca<tspan font-size="4" dy="-2.4">2+</tspan></text>
<text x="462.8" y="260.1" font-size="5.6" fill="#1a1a1a">Ca<tspan font-size="4" dy="-2.4">2+</tspan></text>
<text x="471.0" y="264.8" font-size="5.6" text-anchor="start" fill="#1a1a1a" font-weight="normal" stroke="#1a1a1a" stroke-width="0.110" textLength="10.4" lengthAdjust="spacingAndGlyphs">ADP</text>
<path d="M412,262 C411,256 414,252 419,251.5 C423,251 425,249.5 430,249.6 C436,249.8 439,253 438.8,258 C438.6,263 437,267.5 431,267.7 C425,267.8 418,268 414.5,266.8 C412.5,266 412.2,264 412,262 Z" fill="#d8908f"/>
<text x="425.5" y="263.5" font-size="5.8" text-anchor="middle" fill="#1a1a1a" font-weight="normal" stroke="#1a1a1a" stroke-width="0.114" textLength="16.1" lengthAdjust="spacingAndGlyphs">PPARα</text>
<line x1="442.2" y1="259.4" x2="453.6" y2="259.4" stroke="#d4203a" stroke-width="1.7" stroke-dasharray="1.4,1.3"/>
<line x1="455.2" y1="255.2" x2="455.2" y2="262.8" stroke="#d4203a" stroke-width="1.3"/>
<line x1="421.8" y1="271.2" x2="421.8" y2="283.3" stroke="#d4203a" stroke-width="1.7" stroke-dasharray="1.4,1.3"/>
<line x1="418.4" y1="285.3" x2="425.8" y2="285.3" stroke="#d4203a" stroke-width="1.3"/>
<path d="M392.3,249 C395,255 402,258.5 409.2,258.8" fill="none" stroke="#333" stroke-width="0.6" stroke-dasharray="0.8,1"/>
<path d="M408.6,257.3 L411.2,258.8 L408.6,260.3 Z" fill="#111"/>
<circle cx="422.3" cy="304.9" r="13.6" fill="#fff" stroke="#ad96d0" stroke-width="2.4"/>
<text x="421.6" y="306.9" font-size="5.5" text-anchor="middle" fill="#1a1a1a" font-weight="normal" stroke="#1a1a1a" stroke-width="0.108" textLength="21.8" lengthAdjust="spacingAndGlyphs">P-selectin</text>
<text x="474.95" y="311.4" font-size="5.6" text-anchor="middle" fill="#1a1a1a" font-weight="normal" stroke="#1a1a1a" stroke-width="0.110" textLength="13.1" lengthAdjust="spacingAndGlyphs">Platelet</text>
<text x="476.65" y="317.3" font-size="5.6" text-anchor="middle" fill="#1a1a1a" font-weight="normal" stroke="#1a1a1a" stroke-width="0.110" textLength="21.7" lengthAdjust="spacingAndGlyphs">activation</text>
</g>
<rect x="0.5" y="0.5" width="519" height="507" fill="none" stroke="#000" stroke-width="1"/>
</svg>
</div>
</body></html>
